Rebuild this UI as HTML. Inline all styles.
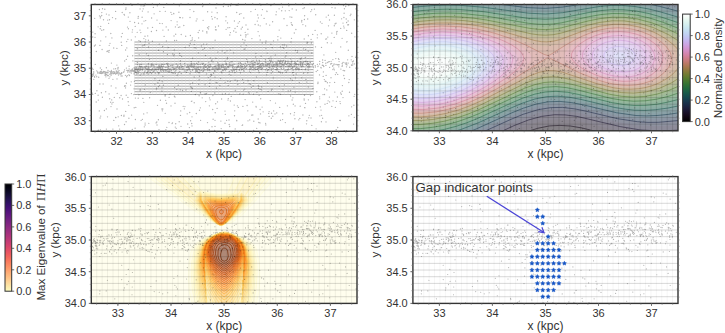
<!DOCTYPE html>
<html><head><meta charset="utf-8"><title>figure</title>
<style>
html,body{margin:0;padding:0;background:#fff;}
body{width:725px;height:333px;overflow:hidden;}
svg{display:block;}
</style></head><body>
<svg width="725" height="333" viewBox="0 0 725 333">
<rect width="725" height="333" fill="#fff"/>
<defs>
<clipPath id="c1"><rect x="91.3" y="4.5" width="265.5" height="126.8"/></clipPath>
<clipPath id="c2"><rect x="412.9" y="4.5" width="265.1" height="126.3"/></clipPath>
<clipPath id="c3"><rect x="91.3" y="176.6" width="265.7" height="126.8"/></clipPath>
<clipPath id="c4"><rect x="412.9" y="176.6" width="265.1" height="126.8"/></clipPath>
</defs>
<g font-family='"Liberation Sans", sans-serif' fill="#333">
<g clip-path="url(#c1)">
<path d="M134.4 94.47H313.6M134.4 91.71H313.6M134.4 88.95H313.6M134.4 86.19H313.6M134.4 83.43H313.6M134.4 80.67H313.6M134.4 77.91H313.6M134.4 75.15H313.6M134.4 72.39H313.6M134.4 69.63H313.6M134.4 66.87H313.6M134.4 64.11H313.6M134.4 61.35H313.6M134.4 58.59H313.6M134.4 55.83H313.6M134.4 53.07H313.6M134.4 50.31H313.6M134.4 47.55H313.6M134.4 44.79H313.6M134.4 42.02H313.6" stroke="#7c7c7c" stroke-width="0.70" fill="none"/>
<path d="M134.42 42.0V94.5M138.07 42.0V94.5M141.73 42.0V94.5M145.39 42.0V94.5M149.04 42.0V94.5M152.70 42.0V94.5M156.36 42.0V94.5M160.01 42.0V94.5M163.67 42.0V94.5M167.32 42.0V94.5M170.98 42.0V94.5M174.64 42.0V94.5M178.29 42.0V94.5M181.95 42.0V94.5M185.61 42.0V94.5M189.26 42.0V94.5M192.92 42.0V94.5M196.58 42.0V94.5M200.23 42.0V94.5M203.89 42.0V94.5M207.55 42.0V94.5M211.20 42.0V94.5M214.86 42.0V94.5M218.52 42.0V94.5M222.17 42.0V94.5M225.83 42.0V94.5M229.48 42.0V94.5M233.14 42.0V94.5M236.80 42.0V94.5M240.45 42.0V94.5M244.11 42.0V94.5M247.77 42.0V94.5M251.42 42.0V94.5M255.08 42.0V94.5M258.74 42.0V94.5M262.39 42.0V94.5M266.05 42.0V94.5M269.71 42.0V94.5M273.36 42.0V94.5M277.02 42.0V94.5M280.68 42.0V94.5M284.33 42.0V94.5M287.99 42.0V94.5M291.64 42.0V94.5M295.30 42.0V94.5M298.96 42.0V94.5M302.61 42.0V94.5M306.27 42.0V94.5M309.93 42.0V94.5M313.58 42.0V94.5" stroke="#dcdcdc" stroke-width="0.45" fill="none"/>
<path d="M257.3 21.1h.01M329.5 20.0h.01M297.2 52.4h.01M151.1 65.2h.01M171.0 105.9h.01M323.2 65.4h.01M92.7 94.4h.01M309.3 115.3h.01M302.9 115.0h.01M215.5 29.7h.01M171.8 14.3h.01M165.2 113.3h.01M159.0 129.6h.01M209.5 97.9h.01M225.3 114.3h.01M238.3 107.4h.01M355.6 57.3h.01M301.8 77.8h.01M256.5 76.9h.01M353.9 105.2h.01M148.5 47.0h.01M133.8 94.6h.01M253.9 80.7h.01M103.0 72.5h.01M100.8 16.6h.01M228.0 100.1h.01M215.1 40.2h.01M334.8 92.1h.01M258.4 17.9h.01M227.8 81.3h.01M223.2 67.2h.01M157.0 20.1h.01M94.4 46.0h.01M142.4 119.3h.01M275.0 113.9h.01M144.6 5.7h.01M189.4 127.6h.01M92.3 93.1h.01M311.7 9.7h.01M132.3 129.4h.01M162.3 110.8h.01M325.0 104.2h.01M226.6 120.3h.01M316.2 71.5h.01M261.1 56.2h.01M288.2 90.9h.01M115.6 117.5h.01M235.0 28.5h.01M226.1 29.3h.01M322.6 60.0h.01M187.2 113.8h.01M250.1 62.6h.01M107.0 51.5h.01M194.2 77.0h.01M177.1 21.8h.01M131.2 81.8h.01M308.0 66.5h.01M192.0 116.8h.01M351.2 59.8h.01M247.9 34.1h.01M251.9 38.6h.01M260.7 98.7h.01M270.9 5.5h.01M131.3 40.0h.01M208.2 77.6h.01M154.9 78.7h.01M198.2 32.5h.01M117.0 109.0h.01M348.3 50.2h.01M148.4 40.2h.01M269.7 65.8h.01M171.1 20.6h.01M323.4 71.9h.01M267.1 72.4h.01M126.2 95.2h.01M315.7 14.7h.01M342.2 91.2h.01M331.3 43.1h.01M242.6 79.4h.01M129.9 12.7h.01M142.4 11.1h.01M337.7 127.5h.01M237.9 5.2h.01M139.2 54.6h.01M326.0 121.9h.01M261.6 68.3h.01M242.6 125.0h.01M191.2 61.7h.01M200.4 107.8h.01M154.9 84.6h.01M101.4 92.7h.01M323.9 54.9h.01M215.5 27.0h.01M236.7 12.5h.01M176.8 89.6h.01M290.8 59.1h.01M98.0 130.6h.01M190.1 84.1h.01M99.4 9.5h.01M123.9 116.2h.01M348.1 21.0h.01M265.9 48.6h.01M205.0 94.0h.01M230.4 32.6h.01M323.0 94.6h.01M182.7 17.8h.01M248.0 120.8h.01M272.8 116.2h.01M185.7 36.2h.01M229.1 74.3h.01M294.5 112.6h.01M332.7 66.2h.01M131.4 93.6h.01M339.1 61.6h.01M92.7 37.0h.01M291.2 22.7h.01M306.5 123.8h.01M127.6 56.2h.01M202.5 6.6h.01M307.8 73.0h.01M95.1 33.7h.01M258.2 119.0h.01M301.8 20.5h.01M227.5 57.5h.01M284.0 18.7h.01M151.4 31.5h.01M144.0 21.1h.01M187.7 124.0h.01M138.9 40.6h.01M183.2 106.3h.01M343.0 97.6h.01M243.5 90.1h.01M181.6 56.3h.01M163.4 51.7h.01M344.1 13.2h.01M209.3 129.7h.01M351.6 106.8h.01M228.2 85.4h.01M229.7 27.6h.01M329.3 61.6h.01M288.5 66.4h.01M245.5 34.9h.01M204.6 48.2h.01M324.5 94.5h.01M200.6 120.3h.01M336.3 72.7h.01M109.5 19.7h.01M205.5 55.5h.01M229.2 124.5h.01M343.8 75.5h.01M157.9 82.5h.01M305.3 57.4h.01M270.9 56.9h.01M281.7 10.7h.01M258.5 88.4h.01M349.2 79.6h.01M179.6 53.5h.01M197.0 18.9h.01M145.2 41.8h.01M104.8 71.6h.01M147.8 28.0h.01M334.4 69.8h.01M314.4 9.1h.01M121.1 95.5h.01M251.6 115.1h.01M218.5 26.0h.01M249.2 93.6h.01M266.3 23.9h.01M172.7 54.0h.01M346.5 66.8h.01M215.0 120.3h.01M258.1 31.6h.01M260.0 122.9h.01M140.1 8.9h.01M107.7 20.1h.01M200.6 92.9h.01M294.1 115.1h.01M307.7 19.0h.01M285.1 70.5h.01M121.4 115.5h.01M333.8 68.1h.01M304.2 100.0h.01M324.3 79.6h.01M230.2 50.1h.01M334.4 15.2h.01M103.7 29.7h.01M99.3 110.9h.01M96.7 70.8h.01M158.4 68.9h.01M157.3 5.8h.01M141.1 120.3h.01M241.9 66.5h.01M101.7 15.4h.01M248.0 80.7h.01M135.4 98.1h.01M271.3 60.8h.01M96.9 90.7h.01M173.8 13.7h.01M340.4 120.5h.01M234.2 105.1h.01M306.8 120.7h.01M266.0 41.0h.01M253.5 94.1h.01M142.1 17.2h.01M243.8 18.0h.01M101.8 12.6h.01M304.1 98.8h.01M318.0 82.2h.01M104.8 9.2h.01M181.2 34.5h.01M175.7 123.7h.01M121.2 42.2h.01M257.7 15.0h.01M303.0 8.6h.01M174.6 40.5h.01M320.4 21.9h.01M302.9 24.6h.01M125.6 85.9h.01M294.9 118.7h.01M325.6 39.1h.01M143.7 113.9h.01M243.6 82.6h.01M260.9 5.0h.01M253.1 60.3h.01M116.9 65.1h.01M266.8 11.1h.01M259.1 95.3h.01M304.6 15.7h.01M178.2 85.2h.01M283.0 89.8h.01M321.6 115.3h.01M328.4 15.2h.01M134.2 107.7h.01M98.4 130.2h.01M264.1 18.4h.01M148.3 55.5h.01M241.0 46.1h.01M342.1 38.3h.01M192.0 125.9h.01M158.4 119.7h.01M212.5 67.9h.01M265.8 124.9h.01M118.1 67.4h.01M192.3 37.9h.01M126.8 47.9h.01M267.2 53.1h.01M311.8 125.4h.01M191.4 101.3h.01M190.0 17.5h.01M234.5 115.7h.01M148.4 63.7h.01M157.0 125.0h.01M178.9 12.2h.01M212.7 109.5h.01M112.9 79.3h.01M291.2 62.0h.01M245.0 40.2h.01M170.9 12.4h.01M111.9 37.9h.01M293.9 87.3h.01M126.1 121.7h.01M126.7 41.6h.01M126.0 8.0h.01M112.9 129.1h.01M331.9 33.1h.01M162.8 109.0h.01M172.7 73.0h.01M312.4 65.0h.01M255.9 53.4h.01M141.0 5.8h.01M206.7 44.1h.01M326.0 81.5h.01M191.0 40.6h.01M280.0 72.1h.01M117.0 78.9h.01M284.4 84.9h.01M297.5 68.7h.01M310.5 95.6h.01M270.3 100.6h.01M189.7 112.5h.01M108.3 75.5h.01M229.0 94.1h.01M292.4 25.2h.01M142.0 23.8h.01M162.0 87.7h.01M233.6 52.8h.01M290.0 16.9h.01M329.3 85.8h.01M124.7 61.0h.01M140.2 75.1h.01M303.6 48.8h.01M262.4 9.6h.01M282.7 113.7h.01M355.9 8.9h.01M340.7 46.9h.01M315.1 30.4h.01M297.6 50.8h.01M196.2 20.9h.01M261.5 89.9h.01M140.3 41.5h.01M292.9 97.8h.01M292.5 66.8h.01M282.8 44.9h.01M209.4 105.8h.01M191.7 123.5h.01M202.7 31.0h.01M100.2 28.7h.01M315.5 46.9h.01M235.3 90.5h.01M194.2 47.8h.01M236.8 120.7h.01M282.9 47.3h.01M192.6 58.2h.01M311.8 53.0h.01M335.4 74.6h.01M194.2 102.7h.01M127.9 39.3h.01M293.2 72.4h.01M354.9 36.8h.01M130.6 85.1h.01M280.5 120.2h.01M310.4 62.5h.01M335.7 52.3h.01M124.1 14.4h.01M115.7 18.7h.01M353.6 124.1h.01M122.3 33.4h.01M138.2 98.2h.01M244.0 42.9h.01M209.8 83.2h.01M290.5 90.5h.01M141.9 69.4h.01M334.1 64.0h.01M149.0 43.2h.01M295.5 50.4h.01M109.2 45.3h.01M217.0 82.6h.01M99.9 45.4h.01M174.6 87.5h.01M174.2 54.3h.01M282.4 73.0h.01M212.1 59.9h.01M106.4 129.1h.01M355.6 68.1h.01M327.2 103.4h.01M334.6 82.4h.01M156.8 121.9h.01M195.9 48.0h.01M151.6 18.0h.01M124.5 86.3h.01M100.1 118.0h.01M224.9 52.7h.01M124.0 115.2h.01M138.1 18.2h.01M319.8 115.8h.01M219.9 85.4h.01M140.1 68.6h.01M269.1 116.4h.01M161.9 90.9h.01M231.2 96.4h.01M166.4 40.9h.01M228.3 6.2h.01M258.2 85.3h.01M233.7 31.0h.01M196.3 113.5h.01M301.3 57.8h.01M323.2 76.4h.01M138.9 94.8h.01M127.5 27.1h.01M121.4 36.7h.01M351.4 114.3h.01M341.3 94.2h.01M152.5 27.4h.01M348.8 5.5h.01M146.5 53.8h.01M225.8 20.8h.01M223.4 6.5h.01M334.2 37.4h.01M102.1 49.5h.01M175.0 103.2h.01M250.6 84.3h.01M108.9 52.2h.01M154.1 13.8h.01M214.8 93.0h.01M325.2 81.2h.01M293.3 128.5h.01M311.4 43.0h.01M293.4 75.1h.01M279.2 30.1h.01M316.9 101.7h.01M272.2 47.7h.01M286.6 46.0h.01M171.4 72.4h.01M135.8 107.4h.01M292.2 80.2h.01M135.3 36.8h.01M335.4 107.3h.01M249.7 119.9h.01M178.8 72.6h.01M340.0 101.6h.01M132.5 29.8h.01M227.9 27.7h.01M115.6 11.4h.01M347.6 24.8h.01M244.1 49.2h.01M304.7 107.6h.01M166.2 26.9h.01M304.2 39.0h.01M277.9 36.6h.01M262.2 42.9h.01M343.7 26.1h.01M206.4 93.5h.01M201.5 46.0h.01M275.1 65.7h.01M313.0 88.5h.01M180.3 89.9h.01M269.1 111.6h.01M146.8 69.0h.01M237.8 84.5h.01M295.5 77.9h.01M108.6 23.3h.01M284.5 44.9h.01M95.4 45.0h.01M345.7 6.5h.01M215.7 103.7h.01M199.9 66.9h.01M282.6 119.6h.01M230.2 81.5h.01M285.3 10.8h.01M113.8 120.4h.01M240.7 35.2h.01M239.5 21.6h.01M338.8 66.8h.01M101.8 30.2h.01M211.5 75.4h.01M258.8 86.5h.01M237.5 67.2h.01M111.0 106.6h.01M248.8 92.3h.01M150.3 92.6h.01M143.2 6.0h.01M324.6 88.8h.01M143.8 102.3h.01M211.9 12.1h.01M290.5 113.7h.01M279.1 8.8h.01M238.2 23.1h.01M305.6 49.3h.01M215.0 77.1h.01M256.0 106.3h.01M308.7 117.8h.01M271.3 118.2h.01M261.7 87.0h.01M199.1 79.7h.01M239.5 14.2h.01M196.5 63.3h.01M288.9 5.7h.01M192.3 39.9h.01M215.2 112.7h.01M291.9 61.1h.01M225.0 111.1h.01M181.0 126.3h.01M310.8 11.6h.01M192.4 88.5h.01M315.6 107.3h.01M299.8 118.4h.01M210.1 48.6h.01M280.6 72.8h.01M100.4 129.8h.01M194.8 40.6h.01M319.7 98.8h.01M245.2 32.3h.01M239.4 69.3h.01M267.8 63.4h.01M271.2 73.3h.01M246.2 45.6h.01M203.0 5.8h.01M140.0 30.1h.01M169.0 122.5h.01M169.1 68.6h.01M205.7 101.6h.01M184.9 106.6h.01M210.1 99.8h.01M190.0 9.6h.01M245.7 36.9h.01M343.0 23.1h.01M327.3 42.7h.01M191.4 91.3h.01M162.2 81.7h.01M326.1 75.4h.01M222.4 94.1h.01M273.3 77.9h.01M110.8 33.5h.01M321.4 121.7h.01M174.4 96.2h.01M222.6 70.6h.01M143.9 45.6h.01M202.9 49.4h.01M311.1 39.4h.01M311.0 118.0h.01M217.1 108.4h.01M295.2 92.1h.01M212.9 95.6h.01M190.4 35.5h.01M236.2 5.3h.01M144.8 44.7h.01M175.3 127.1h.01M278.9 93.6h.01M295.9 29.5h.01M106.4 14.1h.01M285.9 55.9h.01M308.3 87.1h.01M209.5 86.3h.01M107.9 51.0h.01M272.6 21.7h.01M156.7 88.1h.01M262.1 107.1h.01M260.5 113.9h.01M159.8 23.4h.01M217.8 52.1h.01M230.6 5.7h.01M258.8 122.5h.01M145.2 84.9h.01M346.7 30.4h.01M168.1 47.5h.01M172.5 122.8h.01M159.4 80.4h.01M109.2 50.4h.01M203.6 44.1h.01M296.2 74.0h.01M279.7 107.4h.01M143.2 8.8h.01M127.7 72.1h.01M176.6 40.3h.01M295.3 63.5h.01M220.9 121.1h.01M336.4 101.3h.01M265.6 123.3h.01M256.2 107.1h.01M295.1 105.9h.01M290.5 78.7h.01M182.6 90.5h.01M159.5 85.3h.01M207.5 27.7h.01M221.2 128.6h.01M128.9 118.2h.01M208.5 28.9h.01M261.2 63.6h.01M127.3 75.6h.01M127.9 97.4h.01M137.4 62.5h.01M166.5 103.2h.01M346.6 22.5h.01M98.1 26.8h.01M140.1 90.5h.01M135.1 128.2h.01M217.2 18.7h.01M95.3 93.4h.01M212.9 48.0h.01M134.6 22.5h.01M162.9 30.1h.01M301.7 21.9h.01M140.2 69.3h.01M255.1 24.5h.01M199.2 72.8h.01M202.2 97.8h.01M308.2 70.3h.01M134.0 88.8h.01M336.6 34.0h.01M328.5 25.8h.01M268.7 113.4h.01M104.4 110.5h.01M267.4 82.7h.01M250.7 72.6h.01M296.3 10.0h.01M148.1 11.9h.01M344.4 8.7h.01M326.6 38.8h.01M121.7 45.4h.01M175.0 97.0h.01M99.9 84.0h.01M334.3 25.7h.01M354.1 96.3h.01M253.8 121.2h.01M268.1 91.3h.01M271.4 90.3h.01M242.7 39.5h.01M344.2 130.6h.01M252.7 102.1h.01M180.4 17.6h.01M227.5 22.9h.01M96.3 51.5h.01M283.6 60.4h.01M275.5 103.1h.01M203.1 20.3h.01M317.4 34.8h.01M291.9 66.3h.01M180.7 110.9h.01M111.9 103.9h.01M126.4 83.2h.01M140.2 89.3h.01M172.0 123.6h.01M210.1 79.8h.01M337.7 74.4h.01M165.2 94.9h.01M329.9 82.6h.01M272.0 89.2h.01M317.9 83.5h.01M198.4 52.8h.01M92.2 68.2h.01M300.2 106.2h.01M156.5 30.5h.01M129.1 66.2h.01M303.6 73.2h.01M273.5 40.8h.01M147.7 35.9h.01M162.3 23.6h.01M340.7 28.4h.01M162.6 46.5h.01M277.8 39.9h.01M125.7 111.4h.01M307.7 42.6h.01M122.5 99.0h.01M228.3 98.6h.01M100.7 116.1h.01M237.3 81.0h.01M316.1 128.8h.01M113.7 48.0h.01M164.1 36.4h.01M294.3 33.0h.01M252.8 115.0h.01M174.3 50.0h.01M258.3 25.0h.01M212.0 126.7h.01M320.3 106.8h.01M169.1 97.3h.01M292.5 72.7h.01M260.1 109.5h.01M287.9 63.0h.01M191.7 87.7h.01M283.8 48.2h.01M276.7 63.9h.01M194.2 44.3h.01M98.3 100.1h.01M347.0 41.6h.01M280.8 38.1h.01M145.7 39.8h.01M285.3 122.6h.01M165.3 11.3h.01M215.9 58.2h.01M319.6 96.8h.01M210.3 76.3h.01M167.8 65.7h.01M172.4 65.6h.01M111.7 99.9h.01M149.6 97.7h.01M163.3 85.2h.01M137.2 32.3h.01M108.0 75.8h.01M215.0 126.4h.01M148.2 74.0h.01M287.4 105.8h.01M336.2 129.7h.01M163.8 7.4h.01M243.2 94.1h.01M225.8 63.1h.01M111.2 85.9h.01M124.5 124.5h.01M326.2 17.1h.01M217.2 12.7h.01M304.9 107.7h.01M109.0 78.3h.01M249.2 83.9h.01M321.0 110.1h.01M321.5 47.4h.01M92.8 32.1h.01M229.8 35.0h.01M189.3 45.7h.01M293.1 129.1h.01M110.7 102.2h.01M161.6 66.0h.01M307.1 42.2h.01M216.0 82.3h.01M211.6 74.3h.01M348.5 24.7h.01M176.2 128.3h.01M102.4 97.2h.01M195.4 94.5h.01M132.0 5.4h.01M113.0 102.4h.01M242.1 125.3h.01M344.5 78.5h.01M245.1 48.9h.01M263.1 111.8h.01M177.2 24.8h.01M242.9 106.4h.01M291.0 42.0h.01M247.8 110.8h.01M304.4 19.5h.01M237.4 105.8h.01M143.9 38.6h.01M246.0 25.0h.01M221.6 99.0h.01M135.4 119.5h.01M255.7 57.0h.01M308.2 68.0h.01M127.2 70.5h.01M236.0 32.2h.01M286.1 72.6h.01M198.3 68.3h.01M163.0 69.5h.01M190.1 73.7h.01M235.1 79.9h.01M273.6 110.9h.01M239.8 93.9h.01M119.7 97.7h.01M308.4 99.8h.01M336.6 32.0h.01M118.2 116.8h.01M157.5 105.3h.01M137.4 64.6h.01M316.8 91.7h.01M333.0 100.8h.01M103.1 84.0h.01M179.6 67.6h.01M142.4 45.8h.01M216.0 8.0h.01M336.0 23.2h.01M109.9 76.8h.01M136.8 74.0h.01M220.6 78.6h.01M230.4 101.0h.01M289.2 10.6h.01M207.5 122.6h.01M128.8 105.3h.01M185.2 47.4h.01M352.0 56.5h.01M290.6 96.0h.01M122.2 12.5h.01M305.9 79.4h.01M173.9 55.7h.01M298.8 119.8h.01M94.7 18.3h.01M322.6 118.2h.01M134.4 81.3h.01M212.3 19.0h.01M267.0 11.5h.01M226.1 16.7h.01M135.2 26.4h.01M128.2 101.7h.01M166.8 127.3h.01M105.2 74.0h.01M148.8 123.3h.01M125.8 9.5h.01M214.7 130.3h.01M186.0 90.0h.01M247.1 105.5h.01M165.9 129.6h.01M100.3 68.0h.01M179.2 121.7h.01M291.8 17.2h.01M159.2 44.1h.01M198.7 84.4h.01M291.7 24.6h.01M199.3 30.3h.01M326.8 89.9h.01M335.0 23.9h.01M173.7 13.5h.01M286.7 52.7h.01M158.5 86.7h.01M128.3 17.1h.01M207.6 11.7h.01M251.3 87.3h.01M339.7 120.4h.01M130.0 21.3h.01M280.4 47.0h.01M217.5 101.9h.01M126.3 59.4h.01M349.5 92.2h.01M276.0 14.7h.01M125.5 87.9h.01M331.8 106.4h.01M118.7 125.8h.01M115.9 87.9h.01M179.3 5.8h.01M340.3 103.6h.01M100.1 73.2h.01M335.1 8.0h.01M253.7 130.4h.01M109.1 93.9h.01M242.3 27.2h.01M213.1 119.2h.01M241.0 13.6h.01M287.0 25.5h.01M271.5 113.2h.01M356.1 56.2h.01M132.9 60.9h.01M307.1 43.3h.01M200.4 92.4h.01M299.3 82.6h.01M328.1 100.8h.01M354.7 94.3h.01M161.9 109.0h.01M211.6 16.6h.01M341.6 18.8h.01M342.4 85.6h.01M190.3 43.4h.01M340.9 69.1h.01M199.1 95.7h.01M190.8 87.0h.01M292.2 8.9h.01M216.4 88.0h.01M210.3 57.9h.01M193.8 11.5h.01M206.2 93.6h.01M128.4 28.7h.01M107.5 116.8h.01M291.5 38.3h.01M241.2 29.0h.01M269.7 25.1h.01M304.3 7.7h.01M152.4 41.2h.01M153.4 7.4h.01M165.1 96.0h.01M172.0 65.2h.01M293.3 104.2h.01M190.6 120.7h.01M177.1 75.6h.01M260.2 40.0h.01M140.8 32.6h.01M119.6 129.1h.01M276.4 11.8h.01M292.1 100.0h.01M170.0 94.2h.01M260.2 25.8h.01M100.3 17.9h.01M198.6 37.9h.01M244.7 89.1h.01M158.6 72.6h.01M183.8 25.5h.01M253.1 86.0h.01M247.9 29.2h.01M132.2 32.1h.01M278.9 71.9h.01M112.5 17.6h.01M348.8 82.5h.01M145.0 36.2h.01M158.6 50.2h.01M144.5 89.3h.01M354.5 63.9h.01M167.4 54.5h.01M252.0 63.2h.01M354.3 117.3h.01M343.5 5.6h.01M102.5 8.7h.01M229.7 126.5h.01M250.9 11.6h.01M277.8 63.9h.01M180.5 115.4h.01M178.4 27.3h.01M92.4 76.4h.01M100.7 40.9h.01M237.3 26.4h.01M111.4 63.1h.01M145.1 125.0h.01M179.8 27.0h.01M110.0 43.3h.01M99.5 15.9h.01M337.4 97.0h.01M206.8 31.7h.01M145.7 20.6h.01M279.4 86.3h.01M93.8 79.3h.01M156.4 89.0h.01M346.4 130.6h.01M329.6 101.9h.01M260.1 89.3h.01M116.0 117.6h.01M175.7 34.2h.01M98.7 77.2h.01M149.5 59.3h.01M98.1 95.2h.01M124.8 85.6h.01M259.4 35.8h.01M118.0 71.7h.01M132.7 55.7h.01M331.0 77.7h.01M180.4 60.7h.01M179.7 17.5h.01M114.3 97.4h.01M302.6 65.5h.01M270.9 44.2h.01M236.6 120.3h.01M255.4 9.3h.01M118.0 68.1h.01M160.4 100.2h.01M246.3 34.9h.01M344.1 27.9h.01M308.2 51.3h.01M261.4 15.1h.01M229.0 120.0h.01M95.3 64.4h.01M327.8 37.1h.01M109.0 15.0h.01M125.6 50.0h.01M275.3 54.9h.01M306.9 82.1h.01M300.1 58.8h.01M211.4 61.0h.01M138.3 16.5h.01M100.7 26.4h.01M317.3 37.8h.01M350.9 14.2h.01M156.1 122.9h.01M321.2 33.7h.01M198.2 72.5h.01M174.0 36.0h.01M225.4 93.7h.01M93.5 72.0h.01M208.8 26.7h.01M144.3 126.8h.01M280.5 94.4h.01M224.7 69.4h.01M322.0 23.3h.01M329.4 97.1h.01M175.4 26.9h.01M165.7 100.3h.01M340.6 92.9h.01M225.1 61.1h.01M116.9 48.4h.01M103.5 19.7h.01M354.3 19.8h.01M245.1 99.6h.01M105.8 36.8h.01M227.0 50.8h.01M225.1 82.3h.01M206.9 32.9h.01M343.9 17.5h.01M343.2 70.5h.01M124.5 15.1h.01M131.6 115.1h.01M199.5 110.2h.01M312.7 34.4h.01M256.9 92.6h.01M285.1 57.1h.01M244.2 68.3h.01M147.1 112.8h.01M308.4 35.7h.01M95.0 37.3h.01M276.7 112.9h.01M142.9 98.4h.01M216.4 29.8h.01M350.2 15.6h.01M234.4 21.0h.01M106.4 67.7h.01M205.1 84.7h.01M266.6 74.8h.01M106.4 108.9h.01M158.4 68.4h.01M96.2 102.0h.01M234.7 110.8h.01M192.6 83.0h.01M225.0 123.2h.01M169.8 71.7h.01M265.7 43.0h.01M137.3 48.7h.01M332.0 7.6h.01M346.2 19.0h.01M222.2 50.9h.01M214.9 17.5h.01M319.5 74.9h.01M168.3 30.0h.01M304.5 95.2h.01M167.6 64.5h.01M282.5 7.1h.01M180.0 55.4h.01M251.3 67.0h.01M337.1 31.5h.01M105.7 91.7h.01M305.6 25.9h.01M235.2 128.9h.01M191.9 101.1h.01M184.3 108.8h.01M109.7 98.7h.01M159.9 11.4h.01M256.7 128.3h.01M117.2 93.4h.01M269.0 58.5h.01M346.8 42.1h.01M351.7 33.2h.01M327.4 82.7h.01M305.5 103.4h.01M138.5 23.2h.01M348.9 115.8h.01M145.1 123.1h.01M150.9 69.9h.01M222.0 65.8h.01M344.6 70.7h.01M286.5 71.1h.01M241.5 69.9h.01M229.8 64.4h.01M276.8 66.1h.01M258.5 70.7h.01M179.4 66.9h.01M113.0 71.7h.01M142.5 69.6h.01M301.1 65.9h.01M260.7 65.0h.01M305.1 61.7h.01M99.8 73.3h.01M191.9 66.5h.01M249.8 66.6h.01M237.0 67.8h.01M258.3 68.6h.01M271.6 65.1h.01M130.7 71.9h.01M252.5 67.0h.01M184.9 65.6h.01M124.0 71.7h.01M218.5 65.0h.01M159.3 72.7h.01M296.4 63.6h.01M121.1 73.8h.01M173.1 65.1h.01M226.7 65.0h.01M145.0 70.8h.01M144.6 71.9h.01M197.4 67.7h.01M303.1 66.2h.01M240.2 62.4h.01M185.9 71.8h.01M151.5 73.5h.01M137.6 69.8h.01M175.9 68.2h.01M302.0 63.0h.01M269.7 60.4h.01M92.9 74.4h.01M288.1 66.8h.01M271.3 70.4h.01M173.2 67.6h.01M145.0 66.6h.01M204.1 68.3h.01M119.1 70.6h.01M263.8 66.0h.01M111.4 70.3h.01M136.7 68.6h.01M296.7 67.9h.01M224.1 68.9h.01M268.2 69.9h.01M287.8 69.9h.01M253.1 65.6h.01M141.6 66.7h.01M278.2 60.5h.01M119.3 72.9h.01M161.3 69.2h.01M209.9 70.4h.01M116.6 71.1h.01M265.6 65.0h.01M290.0 66.8h.01M188.8 66.1h.01M194.0 66.4h.01M144.3 73.8h.01M229.9 65.1h.01M246.0 66.2h.01M342.3 65.2h.01M182.1 69.2h.01M285.6 60.8h.01M265.3 62.0h.01M166.5 63.6h.01M257.6 69.2h.01M218.6 69.0h.01M300.0 62.6h.01M291.1 68.4h.01M276.3 67.6h.01M122.1 76.0h.01M230.9 62.1h.01M275.7 62.9h.01M179.2 67.0h.01M225.1 66.6h.01M261.0 67.2h.01M224.6 68.2h.01M105.7 72.2h.01M120.8 74.0h.01M319.7 61.4h.01M290.2 66.6h.01M315.4 67.0h.01M245.3 63.2h.01M244.8 67.0h.01M232.4 65.5h.01M288.1 66.4h.01M177.8 74.1h.01M223.2 65.8h.01M215.8 70.9h.01M268.1 63.1h.01M146.7 72.9h.01M94.6 77.2h.01M111.9 72.5h.01M136.6 68.4h.01M283.2 65.2h.01M292.2 68.4h.01M208.8 65.2h.01M214.6 71.2h.01M226.5 68.3h.01M260.0 68.2h.01M189.7 68.9h.01M128.6 70.4h.01M258.6 67.9h.01M220.0 65.8h.01M182.0 66.3h.01M158.2 73.1h.01M277.5 68.7h.01M174.4 69.3h.01M244.8 68.1h.01M158.5 67.8h.01M293.1 70.2h.01M190.0 66.0h.01M218.2 65.4h.01M283.6 65.9h.01M288.5 68.9h.01M180.2 68.1h.01M192.9 69.3h.01M267.4 64.4h.01M236.1 67.1h.01M287.6 63.4h.01M121.7 73.5h.01M305.9 61.1h.01M126.6 76.7h.01M153.9 71.4h.01M244.5 65.3h.01M295.7 69.1h.01M128.3 70.8h.01M349.7 67.2h.01M182.0 67.9h.01M292.9 67.6h.01M220.1 68.4h.01M186.6 67.5h.01M114.0 73.2h.01M111.7 73.8h.01M259.3 60.5h.01M298.6 65.0h.01M187.2 70.5h.01M168.7 65.9h.01M130.0 70.1h.01M279.6 62.4h.01M279.2 60.9h.01M234.0 69.4h.01M225.9 64.4h.01M187.8 65.0h.01M131.5 71.1h.01M298.3 64.4h.01M162.8 76.4h.01M137.8 70.6h.01M141.5 64.3h.01M244.0 71.3h.01M164.0 69.9h.01M153.8 67.9h.01M114.6 71.9h.01M176.3 63.9h.01M298.8 69.7h.01M93.6 73.7h.01M219.3 65.0h.01M252.1 69.8h.01M101.2 73.6h.01M167.9 63.5h.01M134.0 67.9h.01M296.1 63.7h.01M210.7 74.3h.01M134.2 70.5h.01M218.8 66.3h.01M194.5 68.6h.01M105.0 73.5h.01M227.2 59.0h.01M149.1 69.4h.01M236.0 69.4h.01M277.6 65.0h.01M219.2 68.1h.01M183.8 68.9h.01M155.3 68.9h.01M168.7 66.4h.01M101.3 73.0h.01M157.3 71.8h.01M286.1 64.1h.01M302.8 66.2h.01M198.1 64.7h.01M250.0 64.4h.01M147.9 71.4h.01M269.9 65.0h.01M280.7 60.3h.01M288.0 61.2h.01M221.8 67.4h.01M352.3 61.6h.01M323.9 66.3h.01M243.8 70.4h.01M273.8 64.3h.01M162.6 67.9h.01M345.0 62.8h.01M263.6 66.1h.01M331.7 63.5h.01M166.4 69.8h.01M116.5 72.0h.01M232.3 64.8h.01M117.8 72.9h.01M139.5 66.9h.01M296.1 69.7h.01M105.7 74.7h.01M192.1 64.1h.01M140.0 64.4h.01M319.6 64.0h.01M179.5 68.4h.01M321.2 67.9h.01M275.0 64.8h.01M279.5 63.5h.01M269.0 69.8h.01M290.8 63.8h.01M291.7 63.9h.01M282.4 64.3h.01M107.4 75.3h.01M110.6 72.1h.01M298.4 69.0h.01M254.5 62.4h.01M159.3 68.2h.01M233.2 70.0h.01M291.8 61.7h.01M180.6 65.1h.01M307.9 66.6h.01M113.8 68.9h.01M222.4 69.9h.01M114.9 72.4h.01M300.5 61.9h.01M240.4 72.7h.01M151.7 66.1h.01M273.7 65.9h.01M179.4 68.2h.01M320.9 67.4h.01M191.3 67.0h.01M168.7 71.3h.01M104.8 75.1h.01M288.0 66.5h.01M167.2 71.6h.01M203.3 63.5h.01M261.2 69.6h.01M148.7 70.8h.01M289.4 66.1h.01M148.0 68.8h.01M223.6 65.1h.01M177.3 66.1h.01M152.1 69.5h.01M226.1 68.1h.01M265.1 65.9h.01M279.8 63.4h.01M159.5 66.7h.01M215.1 68.7h.01M134.1 74.1h.01M338.5 58.6h.01M258.6 63.7h.01M200.7 67.0h.01M295.3 64.2h.01M233.0 68.3h.01M135.2 72.5h.01M347.0 64.9h.01M232.7 67.5h.01M169.6 70.0h.01M265.4 69.8h.01M255.9 67.1h.01M105.7 72.2h.01M282.8 65.4h.01M181.2 73.5h.01M277.8 66.2h.01M300.4 65.3h.01M255.6 69.5h.01M267.4 70.5h.01M99.5 72.8h.01M160.7 70.7h.01M193.7 66.6h.01M156.5 69.7h.01M135.9 68.1h.01M325.9 65.4h.01M94.5 76.5h.01M137.3 69.5h.01M295.0 66.0h.01M148.6 67.1h.01M158.2 69.8h.01M351.5 65.0h.01M295.7 62.8h.01M210.1 64.4h.01M161.1 66.6h.01M303.4 62.2h.01M106.8 72.4h.01M280.4 63.5h.01M190.2 65.6h.01M284.0 64.4h.01M168.3 68.2h.01M123.2 72.3h.01M93.1 69.4h.01M168.3 68.4h.01M322.3 65.2h.01M274.0 66.7h.01M291.6 65.3h.01M140.8 68.3h.01M184.3 71.0h.01M332.9 69.5h.01M208.5 66.8h.01M299.3 69.2h.01M342.2 63.5h.01M168.4 68.0h.01M266.1 62.9h.01M194.1 63.5h.01M214.5 66.4h.01M213.7 68.9h.01M163.7 71.6h.01M296.7 67.2h.01M277.5 65.5h.01M129.5 75.5h.01M152.3 68.5h.01M250.3 66.5h.01M343.1 62.4h.01M216.4 68.2h.01M142.5 68.7h.01M249.9 68.4h.01M332.8 65.6h.01M199.7 72.4h.01M159.2 68.3h.01M325.1 60.4h.01M302.6 64.5h.01M194.4 66.9h.01M165.7 71.0h.01M153.2 65.0h.01M187.8 70.0h.01M191.7 65.8h.01M209.8 67.2h.01M242.2 69.2h.01M148.1 66.1h.01M160.6 68.5h.01M160.4 68.1h.01M158.6 67.4h.01M228.3 67.1h.01M115.1 73.6h.01M300.5 63.8h.01M135.4 70.9h.01M208.8 67.4h.01M262.7 67.8h.01M125.4 75.3h.01M199.3 69.5h.01M241.3 68.0h.01M237.8 66.8h.01M331.1 61.3h.01M301.8 69.4h.01M237.6 66.5h.01M272.6 71.6h.01M131.3 73.1h.01M216.4 68.7h.01M278.6 71.5h.01M305.2 69.8h.01M307.4 64.5h.01M146.9 68.6h.01M242.7 67.0h.01M270.0 68.0h.01M198.3 62.1h.01M338.5 64.7h.01M308.0 67.1h.01M191.3 63.5h.01M231.7 65.4h.01M134.9 71.0h.01M294.8 62.0h.01M330.6 64.0h.01M131.6 69.9h.01M290.8 64.6h.01M277.0 68.3h.01M97.7 71.8h.01M218.4 66.9h.01M161.1 71.2h.01M95.9 75.1h.01M300.9 62.5h.01M179.8 69.1h.01M227.7 67.0h.01M140.8 67.3h.01M253.2 66.0h.01M196.0 71.8h.01M307.6 63.2h.01M269.4 63.4h.01M284.5 63.2h.01M156.2 64.4h.01M105.1 72.7h.01M263.2 64.0h.01M280.3 61.4h.01M252.9 67.1h.01M202.0 63.1h.01M184.7 63.5h.01M221.2 65.2h.01M148.4 64.0h.01M204.3 65.4h.01M226.1 69.4h.01M195.0 64.8h.01M165.3 67.6h.01M260.6 65.0h.01M309.1 64.4h.01M255.3 62.7h.01M268.8 64.4h.01M255.1 68.1h.01M157.6 67.3h.01M190.3 66.0h.01M317.9 66.6h.01M137.1 70.5h.01M253.4 67.9h.01M249.8 65.5h.01M154.1 66.0h.01M208.8 62.6h.01M270.6 62.7h.01M146.5 66.2h.01M282.6 62.5h.01M159.3 65.1h.01M281.3 66.5h.01M307.0 63.1h.01M203.4 66.8h.01M259.9 67.3h.01M294.0 66.5h.01M93.3 74.3h.01M118.5 75.1h.01M281.7 64.1h.01M259.0 66.2h.01M259.2 65.9h.01M204.8 66.7h.01M279.9 63.7h.01M154.2 70.2h.01M269.8 66.1h.01M277.0 69.9h.01M234.9 72.7h.01M158.6 73.7h.01M141.1 73.8h.01M145.6 67.6h.01M108.0 70.5h.01M155.0 69.9h.01M229.3 62.8h.01M247.6 61.7h.01M210.5 65.0h.01M126.4 68.1h.01M150.1 67.1h.01M257.3 68.1h.01M159.8 67.2h.01M142.5 70.1h.01M202.5 71.1h.01M147.6 72.2h.01M256.6 60.2h.01M259.7 67.6h.01M173.5 68.3h.01M135.8 71.4h.01M296.2 64.7h.01M288.0 65.9h.01M240.3 67.8h.01M136.4 72.7h.01M253.9 70.0h.01M166.1 70.4h.01M227.6 66.3h.01M213.0 62.0h.01M241.4 63.9h.01M338.9 59.4h.01M308.6 63.5h.01M200.9 67.9h.01M298.8 68.5h.01M238.1 66.7h.01M221.9 72.8h.01M116.6 73.4h.01M161.9 64.2h.01M267.0 65.0h.01M191.1 64.9h.01M203.0 68.6h.01M197.4 71.3h.01M140.1 70.2h.01M113.2 73.7h.01M101.1 71.2h.01M271.1 60.6h.01M176.1 70.1h.01M212.3 68.3h.01M258.6 66.5h.01M308.8 65.7h.01M295.6 68.3h.01M105.9 73.1h.01M192.5 66.9h.01M346.6 63.0h.01M214.4 70.5h.01M346.2 64.3h.01M138.1 73.5h.01M104.1 71.6h.01M199.9 70.3h.01M226.3 67.8h.01M147.5 69.9h.01M351.7 65.4h.01M195.8 70.5h.01M155.2 73.2h.01M151.4 64.1h.01M229.1 66.3h.01M215.0 66.6h.01M101.6 69.6h.01M129.4 71.9h.01M252.9 64.8h.01M300.8 64.9h.01M218.6 64.1h.01M255.1 64.9h.01M262.9 65.2h.01M93.0 74.2h.01M154.9 67.9h.01M177.9 65.1h.01M221.9 72.6h.01M148.4 69.1h.01M147.0 69.5h.01M175.4 73.3h.01M207.5 65.6h.01M209.6 69.6h.01M237.2 67.3h.01M217.0 68.6h.01M96.7 76.7h.01M160.5 69.6h.01M287.9 70.1h.01M217.6 69.7h.01M280.5 66.3h.01M178.4 68.1h.01M188.6 67.7h.01M228.6 67.3h.01M335.8 58.6h.01M177.3 67.0h.01M111.1 75.3h.01M173.3 69.8h.01M120.3 73.9h.01M250.3 66.8h.01M318.1 66.1h.01M251.2 68.6h.01M129.1 68.8h.01M198.3 67.5h.01M160.4 69.4h.01M92.2 74.2h.01M212.9 67.9h.01M124.5 69.9h.01M156.9 67.3h.01M139.7 66.0h.01M230.9 75.1h.01M246.8 65.6h.01M181.0 65.3h.01M247.4 61.3h.01M121.5 72.6h.01M229.2 71.5h.01M107.0 72.1h.01M118.1 73.8h.01M121.0 75.9h.01M169.9 69.9h.01M172.2 65.4h.01M280.0 62.3h.01M118.0 71.4h.01M266.7 68.6h.01M271.2 59.1h.01M281.4 68.5h.01M284.1 65.6h.01M268.5 69.6h.01M238.4 63.2h.01M289.9 64.0h.01M109.9 71.4h.01M145.5 68.5h.01M289.9 65.4h.01M140.2 68.4h.01M232.4 71.8h.01M158.7 65.9h.01M205.3 65.1h.01M315.2 65.6h.01M267.9 65.8h.01M209.1 66.6h.01M162.3 64.3h.01M307.2 63.6h.01M266.9 65.7h.01M207.7 68.8h.01M276.5 69.5h.01M268.9 67.3h.01M237.8 66.5h.01M281.3 66.1h.01M317.4 64.3h.01M217.0 65.3h.01M252.8 65.1h.01M103.5 72.8h.01M302.9 63.1h.01M282.8 64.9h.01M189.2 67.9h.01M215.6 66.0h.01M199.9 72.1h.01M202.6 64.3h.01M179.8 71.4h.01M163.3 66.2h.01M145.9 68.7h.01M205.4 64.6h.01M131.8 70.9h.01M313.5 67.1h.01M353.4 61.0h.01M102.7 73.0h.01M107.8 72.9h.01M273.2 65.4h.01M170.6 65.6h.01M141.8 66.7h.01M154.9 67.9h.01M275.8 69.6h.01M92.6 74.5h.01M242.5 66.2h.01M152.0 63.9h.01M144.5 67.8h.01M266.2 66.1h.01M259.3 62.9h.01M174.5 68.4h.01M178.8 68.1h.01M214.1 66.9h.01M234.5 70.7h.01M262.5 63.4h.01M241.0 65.4h.01M221.2 67.9h.01M273.3 68.6h.01M221.7 66.5h.01M285.7 61.6h.01M137.4 70.8h.01M175.6 70.9h.01M325.8 63.2h.01M195.5 71.9h.01M317.6 70.3h.01M245.4 67.6h.01M115.5 74.1h.01M294.1 65.7h.01M269.3 67.2h.01M167.0 67.4h.01M219.3 67.7h.01M106.3 74.3h.01M150.0 69.8h.01M254.0 64.5h.01M310.0 62.1h.01M93.8 72.0h.01M257.5 64.2h.01M199.4 76.2h.01M208.1 70.0h.01M338.3 64.9h.01M300.2 64.3h.01M128.8 74.8h.01M247.8 62.6h.01M348.2 63.1h.01M109.9 74.2h.01M228.1 66.5h.01M195.8 68.6h.01M198.6 69.6h.01M160.9 67.1h.01M161.5 69.6h.01M152.7 72.3h.01M115.8 74.0h.01M238.8 66.9h.01M209.3 70.2h.01M282.1 62.0h.01M262.2 68.8h.01M180.3 63.4h.01M328.3 61.9h.01M192.6 70.2h.01M267.9 65.4h.01M307.2 61.6h.01M195.9 68.1h.01M209.4 70.5h.01M259.8 65.7h.01M117.9 69.0h.01M232.7 70.7h.01M113.6 71.9h.01M149.0 68.6h.01M257.6 66.4h.01M352.8 64.8h.01M158.8 65.7h.01M229.1 65.3h.01M208.1 70.0h.01M191.2 63.6h.01M297.3 68.3h.01M281.2 63.6h.01M240.9 66.0h.01M257.2 62.9h.01M246.4 65.4h.01M272.3 62.8h.01M345.8 64.0h.01M116.3 71.0h.01M210.9 66.4h.01M300.8 59.2h.01M168.0 70.0h.01M253.1 63.0h.01M102.8 72.4h.01M143.2 68.3h.01M196.8 69.1h.01M106.9 72.3h.01M203.4 71.3h.01M150.5 72.2h.01M322.7 62.5h.01M174.6 72.1h.01M191.5 63.9h.01M306.4 65.4h.01M240.3 65.9h.01M147.0 68.5h.01M254.3 65.0h.01M142.1 69.5h.01M155.4 69.4h.01M257.6 66.4h.01M222.6 64.3h.01M161.1 65.4h.01M240.2 63.2h.01M260.5 65.0h.01M162.4 68.8h.01M171.6 72.5h.01M327.3 62.6h.01M101.7 71.8h.01M182.4 68.9h.01M140.8 66.7h.01M277.3 62.1h.01M308.9 64.4h.01M103.4 71.3h.01M277.5 64.6h.01M146.9 73.2h.01M167.6 69.4h.01M302.7 65.8h.01M108.2 72.1h.01M212.1 69.5h.01M225.6 68.1h.01M236.7 69.2h.01M101.8 73.4h.01M205.0 67.2h.01M190.0 65.2h.01M273.3 65.1h.01M198.2 66.9h.01M187.2 67.5h.01M297.0 64.6h.01M270.6 61.6h.01M206.4 73.9h.01M281.4 65.8h.01M196.2 66.8h.01M126.8 70.3h.01M201.4 70.4h.01M101.7 72.7h.01M111.5 71.4h.01M207.4 68.5h.01M143.3 73.7h.01M224.3 67.9h.01M271.8 68.7h.01M248.3 64.6h.01M246.4 68.6h.01M251.7 61.5h.01M214.5 66.8h.01M186.0 69.9h.01M152.8 69.8h.01M105.5 75.2h.01M188.4 66.7h.01M297.6 60.9h.01M238.4 67.1h.01M132.4 69.0h.01M309.7 67.1h.01M99.0 72.9h.01M265.4 59.7h.01M239.3 70.2h.01M200.2 64.3h.01M229.6 71.8h.01M168.7 71.9h.01M197.2 70.1h.01M234.0 64.2h.01M272.5 66.7h.01M114.7 73.1h.01M289.1 63.2h.01M233.0 66.4h.01M275.0 64.9h.01M288.9 65.9h.01M120.0 74.0h.01M217.7 62.7h.01M142.5 69.6h.01M189.6 69.8h.01M187.1 66.1h.01M230.7 65.6h.01M105.9 76.8h.01M282.6 64.7h.01M223.4 70.6h.01M309.8 66.8h.01M100.4 71.9h.01M323.6 66.6h.01M217.8 68.1h.01M232.1 61.7h.01M112.0 73.1h.01M329.6 67.3h.01M137.8 71.8h.01M269.9 68.0h.01M265.9 65.5h.01M175.2 68.1h.01M146.2 66.1h.01M157.0 68.0h.01M176.8 67.7h.01M247.0 65.5h.01M188.4 68.1h.01M118.1 72.2h.01M243.2 64.4h.01M285.2 63.2h.01M279.9 66.8h.01M221.2 71.7h.01M171.4 70.3h.01M233.0 66.0h.01M259.1 72.5h.01M208.0 68.6h.01M142.9 67.6h.01M309.7 66.1h.01M283.7 68.2h.01M332.9 59.6h.01M152.3 64.9h.01M339.1 64.7h.01M197.7 64.1h.01M272.9 62.2h.01M250.1 69.2h.01M246.7 59.4h.01M107.0 74.9h.01M250.4 67.0h.01M153.5 71.4h.01M193.6 67.5h.01M190.7 71.2h.01M261.6 66.0h.01M285.4 62.4h.01M134.8 69.3h.01M170.7 68.9h.01M347.6 59.8h.01M204.3 69.8h.01M194.0 65.2h.01M228.0 67.7h.01M208.6 66.8h.01M216.0 67.2h.01M203.3 67.2h.01M279.1 65.6h.01M163.1 70.4h.01M133.1 71.5h.01M206.2 66.3h.01M209.7 67.7h.01M222.5 70.2h.01M301.6 66.7h.01M195.9 69.5h.01M300.5 65.0h.01M179.9 67.6h.01M283.6 65.1h.01M192.8 69.5h.01M296.7 64.9h.01M231.3 70.5h.01M271.2 73.3h.01M271.8 65.8h.01M236.6 71.1h.01M205.0 70.0h.01M162.0 66.8h.01M249.9 69.5h.01M253.3 65.5h.01M165.1 69.7h.01M196.8 70.9h.01M149.8 72.8h.01M238.5 65.5h.01M181.5 67.0h.01M118.1 71.3h.01M282.1 60.6h.01M276.3 64.9h.01M352.8 63.1h.01M336.0 64.5h.01M305.1 64.6h.01M156.7 69.5h.01M218.4 69.6h.01M259.5 60.9h.01M173.6 73.1h.01M117.0 72.4h.01M132.6 69.9h.01M221.5 66.8h.01M207.1 70.0h.01M333.9 64.8h.01M240.1 67.9h.01M203.4 70.4h.01M183.8 68.2h.01M285.8 66.4h.01M151.5 70.2h.01M294.2 63.3h.01M292.6 68.0h.01M313.5 63.6h.01M219.9 68.9h.01M148.3 67.7h.01M260.0 66.0h.01M172.2 67.7h.01M93.2 75.6h.01M138.2 71.1h.01M342.1 66.4h.01M192.2 65.9h.01M276.3 62.9h.01M280.2 66.9h.01M206.1 67.4h.01M287.4 69.6h.01M213.5 73.2h.01M235.5 69.1h.01M171.4 70.1h.01M249.5 71.1h.01M160.1 67.2h.01M162.7 70.6h.01M186.4 72.4h.01M115.6 68.7h.01M259.6 65.7h.01M234.5 67.8h.01M182.9 66.3h.01M254.4 68.3h.01M164.0 64.4h.01M305.6 69.0h.01M225.2 70.6h.01M337.4 64.7h.01M148.9 70.9h.01M226.4 63.5h.01M134.1 73.2h.01M243.2 68.6h.01M286.8 64.8h.01M252.2 65.0h.01M100.2 71.7h.01M97.7 73.0h.01M198.7 62.1h.01M92.2 74.8h.01M110.6 72.8h.01M262.9 63.9h.01M207.3 68.5h.01M111.0 73.7h.01M188.2 69.3h.01M253.8 68.1h.01M257.0 69.3h.01M134.9 70.7h.01M132.8 70.3h.01M136.9 69.0h.01M132.7 70.0h.01M140.5 69.1h.01M139.8 70.5h.01M138.5 69.3h.01M135.7 68.5h.01M134.9 69.3h.01M138.7 71.9h.01M136.5 68.9h.01M137.3 69.6h.01M134.6 70.6h.01M138.4 68.2h.01M134.4 71.4h.01M136.3 67.7h.01M132.4 70.3h.01M134.7 68.0h.01M137.2 69.7h.01M135.1 71.0h.01M135.1 69.5h.01M137.8 69.3h.01M135.9 69.1h.01M138.8 68.5h.01M130.9 70.6h.01M137.3 69.1h.01M137.2 68.8h.01M132.8 69.9h.01M133.3 70.6h.01M138.0 70.6h.01" stroke="#000" stroke-opacity="0.3" stroke-width="1.35" stroke-linecap="round" fill="none"/>
</g>
<rect x="91.3" y="4.5" width="265.5" height="126.8" fill="none" stroke="#333" stroke-width="1.4"/>
<path d="M116.5 131.3v2.5M152.3 131.3v2.5M188.2 131.3v2.5M224.0 131.3v2.5M259.8 131.3v2.5M295.7 131.3v2.5M331.5 131.3v2.5M91.3 120.7h-2.5M91.3 94.5h-2.5M91.3 68.2h-2.5M91.3 42.0h-2.5M91.3 15.8h-2.5" stroke="#444" stroke-width="0.8" fill="none"/>
<path d="M95.0 131.3v1.5M95.0 4.5v-1.5M102.2 131.3v1.5M102.2 4.5v-1.5M109.3 131.3v1.5M109.3 4.5v-1.5M116.5 131.3v1.5M116.5 4.5v-1.5M123.7 131.3v1.5M123.7 4.5v-1.5M130.8 131.3v1.5M130.8 4.5v-1.5M138.0 131.3v1.5M138.0 4.5v-1.5M145.2 131.3v1.5M145.2 4.5v-1.5M152.3 131.3v1.5M152.3 4.5v-1.5M159.5 131.3v1.5M159.5 4.5v-1.5M166.7 131.3v1.5M166.7 4.5v-1.5M173.8 131.3v1.5M173.8 4.5v-1.5M181.0 131.3v1.5M181.0 4.5v-1.5M188.2 131.3v1.5M188.2 4.5v-1.5M195.3 131.3v1.5M195.3 4.5v-1.5M202.5 131.3v1.5M202.5 4.5v-1.5M209.7 131.3v1.5M209.7 4.5v-1.5M216.8 131.3v1.5M216.8 4.5v-1.5M224.0 131.3v1.5M224.0 4.5v-1.5M231.2 131.3v1.5M231.2 4.5v-1.5M238.3 131.3v1.5M238.3 4.5v-1.5M245.5 131.3v1.5M245.5 4.5v-1.5M252.7 131.3v1.5M252.7 4.5v-1.5M259.8 131.3v1.5M259.8 4.5v-1.5M267.0 131.3v1.5M267.0 4.5v-1.5M274.2 131.3v1.5M274.2 4.5v-1.5M281.3 131.3v1.5M281.3 4.5v-1.5M288.5 131.3v1.5M288.5 4.5v-1.5M295.7 131.3v1.5M295.7 4.5v-1.5M302.8 131.3v1.5M302.8 4.5v-1.5M310.0 131.3v1.5M310.0 4.5v-1.5M317.2 131.3v1.5M317.2 4.5v-1.5M324.3 131.3v1.5M324.3 4.5v-1.5M331.5 131.3v1.5M331.5 4.5v-1.5M338.7 131.3v1.5M338.7 4.5v-1.5M345.8 131.3v1.5M345.8 4.5v-1.5M353.0 131.3v1.5M353.0 4.5v-1.5M91.3 131.2h-1.5M356.8 131.2h1.5M91.3 125.9h-1.5M356.8 125.9h1.5M91.3 120.7h-1.5M356.8 120.7h1.5M91.3 115.5h-1.5M356.8 115.5h1.5M91.3 110.2h-1.5M356.8 110.2h1.5M91.3 105.0h-1.5M356.8 105.0h1.5M91.3 99.7h-1.5M356.8 99.7h1.5M91.3 94.5h-1.5M356.8 94.5h1.5M91.3 89.2h-1.5M356.8 89.2h1.5M91.3 84.0h-1.5M356.8 84.0h1.5M91.3 78.7h-1.5M356.8 78.7h1.5M91.3 73.5h-1.5M356.8 73.5h1.5M91.3 68.2h-1.5M356.8 68.2h1.5M91.3 63.0h-1.5M356.8 63.0h1.5M91.3 57.8h-1.5M356.8 57.8h1.5M91.3 52.5h-1.5M356.8 52.5h1.5M91.3 47.3h-1.5M356.8 47.3h1.5M91.3 42.0h-1.5M356.8 42.0h1.5M91.3 36.8h-1.5M356.8 36.8h1.5M91.3 31.5h-1.5M356.8 31.5h1.5M91.3 26.3h-1.5M356.8 26.3h1.5M91.3 21.0h-1.5M356.8 21.0h1.5M91.3 15.8h-1.5M356.8 15.8h1.5M91.3 10.6h-1.5M356.8 10.6h1.5M91.3 5.3h-1.5M356.8 5.3h1.5" stroke="#777" stroke-width="0.6" fill="none"/>
<text x="116.5" y="144.6" text-anchor="middle" font-size="11">32</text>
<text x="152.3" y="144.6" text-anchor="middle" font-size="11">33</text>
<text x="188.2" y="144.6" text-anchor="middle" font-size="11">34</text>
<text x="224.0" y="144.6" text-anchor="middle" font-size="11">35</text>
<text x="259.8" y="144.6" text-anchor="middle" font-size="11">36</text>
<text x="295.7" y="144.6" text-anchor="middle" font-size="11">37</text>
<text x="331.5" y="144.6" text-anchor="middle" font-size="11">38</text>
<text x="86.1" y="124.6" text-anchor="end" font-size="11">33</text>
<text x="86.1" y="98.4" text-anchor="end" font-size="11">34</text>
<text x="86.1" y="72.1" text-anchor="end" font-size="11">35</text>
<text x="86.1" y="45.9" text-anchor="end" font-size="11">36</text>
<text x="86.1" y="19.7" text-anchor="end" font-size="11">37</text>
<text x="224.1" y="157.5" text-anchor="middle" font-size="12">x (kpc)</text>
<text transform="translate(67.9 67.9) rotate(-90)" text-anchor="middle" font-size="11.7">y (kpc)</text>
<g clip-path="url(#c2)">
<path d="M408.9 137.1L683.3 137.1 683.3 -1.8 407.6 -1.8 407.6 137.1Z" fill="#828082" fill-rule="evenodd"/>
<path d="M408.9 137.1L540.2 137.1 550.7 135.2 559.9 134.6 570.4 135.3 581.9 137.1 683.3 137.1 683.3 -1.8 407.6 -1.8 407.6 137.1Z" fill="#868287" fill-rule="evenodd"/>
<path d="M408.9 137.1L513.9 137.1 525.9 132.1 537.6 128.3 549.4 125.9 559.9 125.4 570.4 126.0 582.2 128.0 618.2 137.1 683.3 137.1 683.3 -1.8 407.6 -1.8 407.6 137.1Z" fill="#8a858e" fill-rule="evenodd"/>
<path d="M408.9 137.1L500.1 137.1 519.5 128.3 533.5 123.2 546.8 120.2 558.6 119.3 569.1 119.9 580.9 121.7 621.6 131.7 640.0 135.0 659.7 136.6 683.3 136.1 683.3 -1.8 407.6 -1.8 407.6 137.1Z" fill="#8c8894" fill-rule="evenodd"/>
<path d="M408.9 137.1L489.5 137.1 513.8 125.7 529.7 119.6 542.8 116.1 556.0 114.6 566.5 115.0 578.3 116.6 620.3 126.6 638.7 129.7 658.4 131.0 683.3 129.9 683.3 -1.8 407.6 -1.8 407.6 137.1Z" fill="#8d8c9a" fill-rule="evenodd"/>
<path d="M408.9 137.1L480.2 137.1 510.3 123.2 525.8 116.9 540.2 112.6 554.6 110.8 565.1 111.0 577.0 112.6 619.0 122.3 637.4 125.4 658.4 126.3 683.3 124.7 683.3 1.8 666.2 -1.8 407.6 -1.8 407.6 137.1Z" fill="#8d919f" fill-rule="evenodd"/>
<path d="M408.9 137.1L471.6 137.1 523.1 114.3 538.9 109.4 552.0 107.5 562.5 107.4 574.3 108.8 617.7 118.7 637.4 121.7 647.9 122.4 658.4 122.3 683.3 120.1 683.3 5.7 649.2 -1.8 581.6 -1.8 559.9 1.1 544.1 1.9 525.8 1.1 499.1 -1.8 407.6 -1.8 407.6 137.1Z" fill="#8c95a3" fill-rule="evenodd"/>
<path d="M408.9 137.1L462.9 137.1 477.2 131.5 511.3 116.0 524.4 110.6 537.6 106.6 550.7 104.4 561.2 104.3 573.0 105.6 616.3 115.4 637.4 118.5 647.9 119.0 658.4 118.7 683.3 116.0 683.3 9.3 649.2 1.2 636.0 -0.9 625.5 -1.8 601.9 -1.4 562.5 4.1 545.5 5.3 526.9 4.5 486.4 -0.1 466.0 -1.8 432.1 -1.8 407.6 0.6 407.6 137.1Z" fill="#8b9ba6" fill-rule="evenodd"/>
<path d="M408.9 137.1L453.6 137.1 475.9 129.1 511.2 113.1 523.5 108.1 537.6 103.7 549.4 101.7 559.9 101.4 571.7 102.6 616.3 112.7 636.0 115.5 646.5 115.9 657.0 115.5 683.3 112.1 683.3 12.6 647.9 3.8 636.0 1.8 624.2 0.8 613.7 0.6 601.9 1.3 561.2 7.3 542.8 8.4 524.4 7.3 474.6 1.5 448.3 0.4 427.3 1.2 407.6 3.4 407.6 137.1Z" fill="#8aa1a7" fill-rule="evenodd"/>
<path d="M408.9 137.1L442.7 137.1 450.9 135.1 462.7 131.4 473.2 127.5 523.1 105.5 536.3 101.3 548.1 99.1 558.6 98.7 570.4 99.8 580.9 101.8 615.0 109.9 636.0 112.8 646.5 113.0 657.0 112.5 683.3 108.5 683.3 15.7 647.9 6.4 636.0 4.3 624.2 3.2 613.7 3.1 601.9 3.8 561.2 10.1 542.8 11.3 524.4 10.1 474.6 4.0 448.3 2.8 427.3 3.6 407.6 5.8 407.6 137.1Z" fill="#8aa6a6" fill-rule="evenodd"/>
<path d="M408.9 137.1L428.6 137.0 441.7 134.7 454.9 131.4 475.9 123.8 523.1 102.9 534.9 99.0 546.8 96.7 557.3 96.2 569.1 97.2 580.9 99.4 615.0 107.5 634.7 110.2 645.2 110.4 655.7 109.7 667.5 108.1 683.3 105.0 683.3 18.7 649.2 9.1 636.0 6.7 624.2 5.5 613.7 5.3 601.9 6.1 561.2 12.8 542.8 14.1 524.4 12.8 475.9 6.5 448.3 5.1 427.3 5.9 407.6 8.2 407.6 137.1Z" fill="#8baca4" fill-rule="evenodd"/>
<path d="M408.9 135.8L420.7 135.3 432.5 134.0 444.4 131.7 456.2 128.6 475.9 121.5 523.1 100.4 534.9 96.5 546.8 94.2 557.3 93.7 569.1 94.8 579.6 96.9 613.7 105.0 624.2 106.8 634.7 107.8 645.2 107.9 657.0 106.9 668.9 104.8 683.3 101.6 683.3 21.6 649.2 11.4 636.0 8.9 624.2 7.7 613.7 7.5 601.9 8.3 561.2 15.4 552.0 16.4 542.8 16.7 525.8 15.5 475.9 8.7 461.4 7.6 447.0 7.2 427.3 8.0 407.6 10.3 407.6 135.8Z" fill="#8db0a2" fill-rule="evenodd"/>
<path d="M408.9 133.4L420.7 133.0 432.5 131.7 444.4 129.4 456.2 126.3 477.2 118.6 523.1 98.0 534.9 94.1 545.5 92.0 556.0 91.3 567.8 92.3 578.3 94.4 612.4 102.7 624.2 104.6 634.7 105.5 645.2 105.4 657.0 104.2 667.5 102.2 683.3 98.2 683.3 24.4 659.7 16.6 645.2 12.7 630.8 10.3 617.7 9.5 599.3 10.8 562.5 17.8 545.5 19.3 528.4 18.4 483.7 11.7 460.1 9.5 433.9 9.6 407.6 12.4 407.6 133.4Z" fill="#91b59e" fill-rule="evenodd"/>
<path d="M408.9 131.1L420.7 130.7 432.5 129.4 444.4 127.3 456.2 124.2 477.2 116.4 523.1 95.7 534.9 91.7 545.5 89.6 556.0 89.0 567.8 90.1 612.4 100.6 622.9 102.4 633.4 103.3 643.9 103.2 655.7 101.9 667.5 99.4 683.3 94.8 683.3 27.3 661.0 19.3 646.5 15.1 632.1 12.4 617.7 11.5 599.3 12.8 562.5 20.2 545.5 21.9 528.4 20.8 485.1 13.9 460.1 11.5 447.0 11.1 433.9 11.5 420.7 12.6 407.6 14.4 407.6 131.1Z" fill="#96b89c" fill-rule="evenodd"/>
<path d="M408.9 128.9L420.7 128.6 432.5 127.3 444.4 125.2 457.5 121.7 478.5 113.8 523.1 93.4 534.9 89.4 545.5 87.2 556.0 86.6 566.5 87.6 577.0 89.8 611.1 98.4 622.9 100.3 633.4 101.2 645.2 100.8 656.5 99.2 668.9 96.2 683.3 91.4 683.3 30.2 662.6 22.2 647.9 17.5 633.4 14.6 619.0 13.4 609.8 13.7 599.3 14.8 561.2 22.9 545.5 24.4 528.4 23.3 486.4 16.1 461.4 13.4 448.3 13.0 435.2 13.3 422.0 14.3 407.6 16.3 407.6 128.8Z" fill="#9cba99" fill-rule="evenodd"/>
<path d="M408.9 126.7L420.7 126.5 432.5 125.3 444.4 123.1 456.2 120.1 477.2 112.3 524.4 90.6 534.9 87.0 545.5 84.8 554.6 84.3 565.1 85.2 575.6 87.4 611.1 96.5 622.9 98.4 633.4 99.1 645.2 98.6 657.0 96.6 668.9 93.3 683.3 87.9 683.3 33.3 663.6 24.9 649.2 20.0 634.7 16.7 620.3 15.3 609.8 15.6 599.3 16.8 561.2 25.4 545.5 27.0 529.7 25.9 486.4 18.1 461.4 15.2 447.0 14.8 433.9 15.1 420.7 16.2 407.6 18.1 407.6 126.7Z" fill="#a5bc97" fill-rule="evenodd"/>
<path d="M408.9 124.7L422.0 124.4 433.9 123.1 445.7 120.9 457.5 117.7 478.5 109.8 524.4 88.3 534.9 84.6 544.1 82.5 553.3 81.8 563.8 82.7 574.3 84.9 609.8 94.3 621.6 96.3 633.4 97.1 645.2 96.4 657.0 94.1 668.9 90.4 683.3 84.1 683.3 36.5 664.9 27.8 649.2 22.0 634.7 18.6 620.3 17.2 609.8 17.4 599.3 18.7 588.4 20.9 561.2 27.9 553.3 29.1 545.5 29.6 529.7 28.4 486.4 20.0 461.4 17.0 447.0 16.5 433.9 16.8 420.7 17.9 407.6 19.9 407.6 124.6Z" fill="#aebd97" fill-rule="evenodd"/>
<path d="M408.9 122.6L422.0 122.4 433.9 121.2 445.7 119.0 457.5 115.8 468.0 112.1 479.8 107.2 525.8 85.4 536.3 81.7 545.5 79.8 554.6 79.4 565.1 80.6 607.2 91.9 617.7 93.9 628.2 95.0 640.0 94.8 650.5 93.3 661.1 90.4 673.3 85.3 683.3 80.0 683.3 40.0 666.6 31.0 650.5 24.5 634.7 20.4 620.3 18.9 609.8 19.2 599.3 20.6 587.5 23.2 561.2 30.4 553.3 31.8 545.5 32.3 531.0 31.1 487.7 22.1 462.7 18.8 448.3 18.2 435.2 18.4 422.0 19.5 407.6 21.6 407.6 122.6Z" fill="#b8bd99" fill-rule="evenodd"/>
<path d="M410.2 120.7L423.4 120.4 435.2 119.1 447.0 116.8 458.8 113.5 469.3 109.8 481.1 104.7 525.8 83.0 536.3 79.1 545.5 77.1 554.6 76.8 563.8 77.9 573.0 80.2 604.5 89.5 615.0 91.7 625.5 92.9 636.0 93.0 646.5 91.8 657.0 89.1 666.6 85.3 676.0 80.3 683.3 75.2 683.3 44.0 668.8 34.8 651.8 27.0 636.0 22.5 620.3 20.7 609.8 21.0 598.0 22.7 586.1 25.6 561.2 33.1 553.3 34.7 545.5 35.2 531.0 33.8 490.3 24.4 477.2 22.2 464.1 20.6 449.6 19.8 435.2 20.0 420.7 21.3 407.6 23.3 407.6 120.6 410.0 120.7Z" fill="#c2bd9c" fill-rule="evenodd"/>
<path d="M408.9 118.7L422.0 118.7 433.9 117.5 447.0 115.0 458.8 111.7 470.6 107.4 482.4 102.2 527.1 79.8 537.6 75.9 545.5 74.2 553.3 73.9 562.5 75.1 571.7 77.4 603.2 87.3 613.7 89.6 622.9 90.8 633.4 91.1 643.9 90.1 653.1 87.9 662.3 84.3 673.7 77.8 678.5 74.0 683.3 68.9 683.3 49.5 678.7 44.9 672.1 39.9 663.8 34.8 655.7 30.8 646.6 27.2 638.7 25.0 630.8 23.4 621.6 22.5 609.8 22.8 598.0 24.6 586.1 27.7 559.9 36.4 552.0 37.9 545.5 38.3 532.3 36.9 491.6 26.6 478.5 24.1 465.4 22.4 450.9 21.4 436.5 21.5 422.0 22.7 407.6 24.9 407.6 118.7Z" fill="#cbbca0" fill-rule="evenodd"/>
<path d="M411.5 116.9L424.7 116.7 436.5 115.3 449.6 112.6 461.4 109.0 471.9 105.0 484.7 99.2 529.7 75.8 538.9 72.4 545.5 70.9 553.3 70.6 561.2 71.8 600.6 84.7 611.1 87.3 620.3 88.7 630.8 89.2 640.0 88.5 649.2 86.6 658.4 83.2 664.1 80.3 669.8 76.5 674.2 72.7 678.4 67.7 680.3 63.9 681.4 58.8 680.9 55.0 679.1 51.2 675.0 46.2 669.1 41.1 661.3 36.1 654.0 32.3 645.2 28.8 637.4 26.5 629.5 25.0 620.3 24.3 608.5 24.8 596.7 26.8 584.8 30.3 559.9 39.6 553.3 41.2 546.8 41.9 541.5 41.7 534.9 40.6 494.2 29.1 479.8 26.1 466.7 24.2 450.9 23.0 436.5 23.1 422.0 24.3 407.6 26.6 407.6 116.7 411.2 116.9Z" fill="#d4bca8" fill-rule="evenodd"/>
<path d="M408.9 114.9L422.0 115.0 435.2 113.7 448.3 111.1 461.4 107.2 474.6 102.0 487.7 95.8 532.3 71.3 538.9 68.5 545.5 66.8 552.0 66.5 559.9 68.0 596.4 81.5 607.2 84.6 616.3 86.4 626.8 87.3 636.0 86.9 645.2 85.3 653.1 82.8 658.4 80.3 664.5 76.5 669.0 72.7 673.2 67.7 675.1 63.9 676.2 58.8 675.8 55.0 674.2 51.2 671.5 47.4 666.1 42.4 660.9 38.6 653.1 34.2 645.7 31.0 638.7 28.8 630.8 27.1 622.9 26.2 609.8 26.4 596.7 28.8 582.5 33.5 557.3 44.4 552.0 45.8 546.8 46.3 541.5 46.0 534.9 44.4 508.7 35.4 494.0 31.0 481.1 28.1 469.3 26.1 453.5 24.7 437.8 24.6 423.4 25.7 407.6 28.2 407.6 114.8Z" fill="#dbbcb0" fill-rule="evenodd"/>
<path d="M410.2 113.1L424.7 113.1 439.1 111.4 453.5 108.0 468.0 103.0 482.0 96.7 496.3 89.1 513.3 79.0 544.1 59.4 548.1 57.8 552.0 59.2 585.1 75.2 598.0 80.1 608.5 83.0 620.3 85.0 630.8 85.3 641.3 84.0 650.5 81.1 655.7 78.6 661.0 75.2 665.3 71.4 668.4 67.7 670.4 63.9 671.5 58.8 671.2 55.0 669.7 51.2 665.9 46.2 661.8 42.4 656.4 38.6 650.5 35.3 637.4 30.4 630.8 28.9 622.9 28.0 615.0 27.9 605.8 28.8 596.7 30.9 588.8 33.5 572.4 41.1 550.7 54.5 548.1 55.6 544.1 54.4 525.5 44.9 510.0 38.3 494.2 33.1 477.2 29.1 460.1 26.7 441.7 26.0 424.7 27.1 407.6 29.8 407.6 113.0 410.0 113.1Z" fill="#e2bdba" fill-rule="evenodd"/>
<path d="M408.9 111.2L423.4 111.4 437.8 109.8 452.2 106.6 468.0 101.2 485.6 92.9 505.2 81.5 521.4 70.2 527.2 65.1 530.2 61.3 531.2 57.5 530.4 55.0 528.6 52.5 522.3 47.4 510.3 41.1 498.2 36.4 485.1 32.6 471.4 29.8 457.5 28.1 445.7 27.5 432.5 27.9 419.4 29.3 407.6 31.4 407.6 111.1ZM619.0 82.9L628.2 83.4 636.0 82.7 643.9 80.9 650.5 78.4 657.0 74.4 661.8 70.2 665.3 65.1 667.0 60.1 666.8 55.0 665.4 51.2 661.7 46.2 657.0 42.0 650.5 37.8 642.6 34.2 634.7 31.7 626.8 30.2 619.0 29.7 609.8 30.2 600.6 31.9 591.3 34.8 580.6 39.9 572.7 44.9 567.0 50.0 565.2 52.5 564.3 55.0 564.4 57.5 566.9 61.3 571.6 65.1 580.0 70.2 590.1 75.0 599.3 78.4 608.5 81.1 618.0 82.8Z" fill="#e6bec4" fill-rule="evenodd"/>
<path d="M410.2 109.4L424.7 109.5 439.1 107.9 453.5 104.5 468.0 99.4 486.4 90.5 503.1 80.3 516.3 70.2 520.1 66.4 522.7 62.6 523.6 60.1 523.7 57.5 523.0 55.0 521.3 52.5 515.6 47.4 506.8 42.4 494.5 37.3 482.4 33.8 469.3 31.1 456.2 29.5 444.4 29.0 431.2 29.5 419.4 30.8 407.6 33.0 407.6 109.2 409.0 109.3ZM615.0 80.4L622.9 81.3 630.8 81.1 638.7 79.9 645.2 77.9 651.8 74.5 657.0 70.3 660.2 66.4 662.5 61.3 662.9 56.3 661.9 52.5 658.7 47.4 654.8 43.7 649.4 39.9 642.6 36.4 636.0 34.1 628.2 32.3 620.3 31.6 611.1 32.0 602.2 33.5 594.2 36.1 586.1 39.9 578.4 44.9 573.5 50.0 571.6 53.8 571.6 57.5 572.8 60.1 576.1 63.9 581.2 67.7 587.9 71.4 596.7 75.3 605.8 78.4 614.2 80.3Z" fill="#e8c0ce" fill-rule="evenodd"/>
<path d="M408.9 107.5L422.0 107.9 436.5 106.6 450.9 103.5 465.4 98.6 480.4 91.6 495.5 82.8 509.0 72.7 515.8 65.1 517.8 60.1 517.7 57.5 516.9 55.0 512.9 50.0 505.8 44.9 495.2 39.9 483.9 36.1 471.9 33.2 458.8 31.3 445.7 30.6 432.5 30.9 419.7 32.3 407.6 34.6 407.6 107.3ZM620.3 79.0L628.2 79.2 634.7 78.4 641.3 76.6 646.5 74.3 651.0 71.4 654.9 67.7 657.3 63.9 658.8 58.8 658.3 53.8 656.5 50.0 653.4 46.2 649.2 42.7 643.9 39.5 637.4 36.7 630.8 34.8 624.2 33.8 616.3 33.6 608.5 34.3 601.1 36.1 594.2 38.6 587.2 42.4 582.3 46.2 578.3 51.2 577.2 55.0 577.8 58.8 580.4 62.6 584.7 66.4 590.8 70.2 598.0 73.5 605.8 76.3 612.4 77.9 620.2 79.0Z" fill="#eac3d9" fill-rule="evenodd"/>
<path d="M408.9 105.6L422.0 106.1 435.2 105.0 449.6 102.1 462.7 97.8 477.2 91.3 491.8 82.8 503.5 74.0 510.3 66.4 512.5 61.3 512.1 56.3 508.8 51.2 502.5 46.2 492.9 41.3 482.4 37.6 470.6 34.7 458.8 32.9 445.7 32.1 432.5 32.4 419.4 33.9 407.6 36.2 407.6 105.4 408.6 105.5ZM617.7 76.6L624.2 77.0 630.8 76.6 636.0 75.6 641.3 73.8 646.5 70.8 650.3 67.7 653.0 63.9 654.4 60.1 654.7 56.3 653.8 52.5 651.4 48.7 647.6 44.9 642.6 41.6 637.4 39.1 632.0 37.3 625.5 36.0 619.0 35.6 611.1 36.1 604.5 37.4 598.0 39.7 592.6 42.4 587.4 46.2 584.1 50.0 582.5 53.8 582.6 57.5 583.6 60.1 586.8 63.9 591.4 67.4 596.7 70.4 603.2 73.1 609.8 75.1 616.8 76.5Z" fill="#e9c7e1" fill-rule="evenodd"/>
<path d="M418.1 104.3L431.2 103.8 443.9 101.8 456.2 98.4 469.3 93.2 483.7 85.6 495.1 77.8 503.2 70.2 507.2 63.9 507.9 58.8 505.9 53.8 500.9 48.7 492.9 43.9 483.1 39.9 471.9 36.8 460.1 34.7 447.0 33.7 427.3 34.4 407.6 37.8 407.6 103.5 417.7 104.3ZM616.3 74.1L622.9 74.7 628.2 74.4 633.4 73.5 638.7 71.8 642.6 69.7 646.5 66.4 648.5 63.9 650.2 60.1 650.6 56.3 649.6 52.5 647.1 48.7 644.5 46.2 641.0 43.7 635.9 41.1 625.5 38.3 620.3 37.8 613.7 38.1 607.2 39.2 601.9 40.9 596.7 43.4 592.6 46.2 590.0 48.7 587.8 52.5 587.3 56.3 588.0 58.8 590.1 62.0 593.4 65.1 597.2 67.7 603.2 70.6 615.2 74.0Z" fill="#e8ccea" fill-rule="evenodd"/>
<path d="M410.2 101.9L422.0 102.5 433.9 101.7 447.0 99.3 458.8 95.6 471.9 90.0 484.4 82.8 494.3 75.2 500.2 68.9 502.9 63.9 503.3 58.8 501.2 53.8 496.0 48.7 489.0 44.6 479.8 40.9 469.3 38.0 457.5 36.0 445.7 35.2 432.5 35.5 419.4 37.0 407.6 39.5 407.6 101.5 409.2 101.8ZM616.3 71.6L625.5 72.0 634.7 70.1 641.3 66.3 643.9 63.4 645.6 60.1 646.1 56.3 645.6 53.8 642.4 48.7 639.4 46.2 635.0 43.7 625.5 40.8 615.0 40.4 605.7 42.4 598.0 46.4 595.3 48.7 592.9 52.5 592.4 56.3 593.1 58.8 594.7 61.3 597.3 63.9 600.9 66.4 605.8 68.8 615.3 71.4Z" fill="#e6d1f0" fill-rule="evenodd"/>
<path d="M416.8 100.5L427.3 100.5 439.1 99.1 450.9 96.4 462.7 92.2 474.3 86.6 484.3 80.3 493.1 72.7 497.7 66.4 499.1 61.3 498.1 56.3 494.2 51.2 489.1 47.4 481.4 43.7 471.9 40.5 461.4 38.3 449.6 37.0 439.1 36.7 428.6 37.4 418.1 38.8 407.6 41.2 407.6 99.5 416.4 100.5ZM619.0 69.0L626.8 68.8 634.3 66.4 639.0 62.6 640.5 60.1 641.2 57.5 641.1 55.0 640.2 52.5 636.9 48.7 630.8 45.2 622.9 43.2 615.0 43.2 607.2 45.2 601.2 48.7 599.0 51.2 597.9 53.8 597.7 56.3 598.5 58.8 601.9 62.8 608.5 66.5 617.8 68.9Z" fill="#e4d6f4" fill-rule="evenodd"/>
<path d="M411.5 98.1L422.0 98.8 433.9 98.1 444.4 96.2 455.8 92.9 466.7 88.4 476.7 82.8 485.4 76.5 491.4 70.2 494.2 65.1 494.9 60.1 493.0 55.0 489.5 51.2 483.9 47.4 475.3 43.7 466.7 41.1 456.2 39.2 444.4 38.3 431.2 38.7 419.4 40.2 407.6 42.9 407.6 97.5 410.7 98.0ZM617.7 65.3L624.2 65.3 629.5 63.9 633.2 61.3 635.3 57.5 634.8 53.8 633.0 51.2 629.3 48.7 622.9 46.7 616.3 46.6 611.1 47.8 607.1 50.0 604.2 53.8 604.3 57.5 606.0 60.1 609.8 62.9 616.5 65.1Z" fill="#e2dcf7" fill-rule="evenodd"/>
<path d="M419.4 96.7L428.6 96.7 439.1 95.4 449.6 93.0 460.1 89.2 470.6 84.1 478.4 79.0 485.5 72.7 489.1 67.7 490.7 62.6 490.4 58.8 487.5 53.8 483.0 50.0 475.9 46.2 468.0 43.5 457.5 41.2 447.0 40.1 437.8 40.0 427.3 40.7 416.9 42.4 407.6 44.8 407.6 95.3 418.5 96.7ZM616.3 58.9L619.0 59.5 621.6 59.5 623.9 58.8 625.4 57.5 625.8 55.0 624.8 53.8 622.9 52.7 617.7 52.3 614.5 53.8 613.7 55.0 613.7 56.3 614.4 57.5 616.2 58.8Z" fill="#e1e2f9" fill-rule="evenodd"/>
<path d="M414.2 94.2L423.4 94.8 432.5 94.4 442.2 92.9 452.2 90.2 461.4 86.5 470.6 81.6 477.6 76.5 482.7 71.4 485.7 66.4 486.6 62.6 485.6 57.5 482.8 53.8 477.9 50.0 470.6 46.6 462.7 44.2 453.5 42.5 441.7 41.6 429.9 42.1 418.1 43.9 407.6 46.7 407.6 93.1 413.7 94.2Z" fill="#e0e8f9" fill-rule="evenodd"/>
<path d="M412.8 91.8L420.7 92.7 429.9 92.6 439.1 91.5 448.3 89.3 457.5 86.0 465.4 82.1 472.0 77.8 477.6 72.7 481.1 67.7 482.3 63.9 482.2 60.1 480.4 56.3 476.5 52.5 470.6 49.1 464.1 46.7 456.2 44.8 444.4 43.5 431.2 43.8 419.4 45.5 407.6 48.7 407.6 90.7 412.0 91.6Z" fill="#e1edf9" fill-rule="evenodd"/>
<path d="M420.7 90.5L428.6 90.6 437.8 89.6 445.7 87.9 453.4 85.3 461.4 81.6 467.6 77.8 472.2 74.0 476.3 68.9 477.9 65.1 478.1 61.3 476.6 57.5 473.0 53.8 468.9 51.2 462.7 48.7 454.9 46.6 447.0 45.6 436.5 45.3 426.1 46.2 416.8 48.0 407.6 50.9 407.6 88.1 419.8 90.4Z" fill="#e3f1f8" fill-rule="evenodd"/>
<path d="M419.4 87.9L427.3 88.3 434.3 87.9 441.7 86.6 449.6 84.3 456.3 81.5 462.9 77.8 467.8 74.0 471.1 70.2 473.1 66.4 473.7 62.6 472.6 58.8 470.6 56.3 466.7 53.3 461.4 50.8 454.9 48.9 448.3 47.8 437.8 47.2 427.3 48.0 417.4 50.0 407.6 53.4 407.6 85.2 418.7 87.9Z" fill="#e7f5f7" fill-rule="evenodd"/>
<path d="M420.7 85.5L427.3 85.8 433.9 85.5 440.4 84.4 447.0 82.6 452.9 80.3 458.8 77.0 462.9 74.0 466.5 70.2 468.0 67.6 469.0 63.9 468.2 60.1 466.4 57.5 463.2 55.0 458.0 52.5 447.0 49.9 436.5 49.3 426.0 50.3 416.7 52.5 407.6 56.2 407.6 81.8 413.6 84.1 419.7 85.3Z" fill="#ebf8f7" fill-rule="evenodd"/>
<path d="M423.4 82.9L433.9 82.8 445.7 80.2 451.4 77.8 455.8 75.2 459.0 72.7 462.2 68.9 463.4 66.4 463.8 63.9 463.3 61.3 461.4 58.6 458.4 56.3 454.9 54.6 444.4 52.1 435.2 51.7 424.7 53.0 414.2 56.2 407.6 60.0 407.6 77.4 414.2 80.8 422.9 82.8Z" fill="#f1fbf8" fill-rule="evenodd"/>
<path d="M422.0 79.2L429.9 79.9 439.1 78.8 448.3 75.5 454.2 71.4 456.3 68.9 457.5 66.4 457.8 63.9 457.0 61.3 454.9 59.1 452.4 57.5 445.7 55.3 436.5 54.4 426.0 55.6 416.8 58.6 410.8 62.6 409.0 65.1 408.3 67.7 408.6 70.2 409.9 72.7 414.3 76.5 421.0 79.0Z" fill="#f7fdfa" fill-rule="evenodd"/>
<path d="M426.0 75.5L431.2 75.8 437.8 74.9 443.9 72.7 448.3 69.5 450.2 66.4 450.2 63.9 449.6 62.6 446.5 60.1 441.7 58.5 435.2 58.0 427.7 58.8 420.7 61.3 417.4 63.9 415.9 66.4 416.4 70.2 419.4 73.1 424.8 75.2Z" fill="#fcfefd" fill-rule="evenodd"/>
<path d="M513.9 137.1L525.9 132.1 537.6 128.3 549.4 125.9 559.9 125.4 570.4 126.0 582.2 128.0 618.2 137.1" fill="none" stroke="#110815" stroke-opacity="0.7" stroke-width="0.75"/>
<path d="M489.5 137.1L513.8 125.7 528.4 120.0 541.5 116.4 554.6 114.7 565.1 114.9 577.0 116.4 620.3 126.6 640.0 129.9 659.7 131.0 683.3 129.9" fill="none" stroke="#1a142f" stroke-opacity="0.7" stroke-width="0.75"/>
<path d="M471.6 137.1L510.8 119.4 523.1 114.3 537.6 109.8 550.7 107.6 562.5 107.4 574.3 108.8 584.8 110.9 617.7 118.7 637.4 121.7 647.9 122.4 658.4 122.3 683.3 120.1M683.3 5.7L649.2 -1.8M581.6 -1.8L559.9 1.1 544.1 1.9 525.8 1.1 499.1 -1.8" fill="none" stroke="#1a2744" stroke-opacity="0.7" stroke-width="0.75"/>
<path d="M453.6 137.1L464.1 133.7 475.9 129.1 511.2 113.1 523.5 108.1 536.3 104.0 548.1 101.8 559.9 101.4 571.7 102.6 583.5 104.9 616.3 112.7 636.0 115.5 646.5 115.9 657.0 115.5 668.9 114.3 683.3 112.1M683.3 12.6L659.7 6.4 646.5 3.5 633.4 1.5 621.6 0.7 611.1 0.7 600.6 1.4 562.5 7.1 545.5 8.4 527.1 7.6 482.4 2.2 458.8 0.5 445.7 0.4 432.5 0.8 407.6 3.4" fill="none" stroke="#163d4e" stroke-opacity="0.7" stroke-width="0.75"/>
<path d="M427.6 137.1L444.4 134.2 461.4 129.3 478.5 122.7 510.7 108.1 522.8 103.0 534.9 99.0 546.8 96.7 557.3 96.2 569.1 97.2 580.9 99.4 615.0 107.5 625.5 109.2 634.7 110.2 645.2 110.4 655.7 109.7 667.5 108.1 683.3 105.0M683.3 18.7L659.7 11.7 647.9 8.8 634.7 6.5 621.6 5.4 611.1 5.4 600.6 6.3 562.5 12.7 545.5 14.0 528.4 13.2 483.7 7.3 460.1 5.3 447.0 5.1 433.9 5.5 420.7 6.5 407.6 8.2" fill="none" stroke="#16534c" stroke-opacity="0.7" stroke-width="0.75"/>
<path d="M407.6 133.4L420.7 133.0 432.5 131.7 444.4 129.4 456.2 126.3 466.7 122.8 477.2 118.6 511.3 103.0 523.1 98.0 534.9 94.1 545.5 92.0 556.0 91.3 567.8 92.3 578.3 94.4 612.4 102.7 624.2 104.6 634.7 105.5 645.2 105.4 657.0 104.2 667.5 102.2 683.3 98.2M683.3 24.4L662.3 17.4 649.2 13.6 636.0 11.0 622.9 9.7 612.4 9.6 600.6 10.6 588.8 12.5 562.5 17.8 553.3 18.9 545.5 19.3 528.4 18.4 483.7 11.7 460.1 9.5 447.0 9.2 433.9 9.6 420.7 10.7 407.6 12.4" fill="none" stroke="#1e6542" stroke-opacity="0.7" stroke-width="0.75"/>
<path d="M407.6 128.8L420.7 128.6 432.5 127.3 444.4 125.2 456.2 122.1 466.7 118.5 478.5 113.8 512.6 97.9 524.4 92.9 534.9 89.4 545.5 87.2 556.0 86.6 566.5 87.6 577.0 89.8 611.1 98.4 622.9 100.3 633.4 101.2 645.2 100.8 656.5 99.2 668.9 96.2 683.3 91.4M683.3 30.2L662.6 22.2 649.2 17.9 636.0 15.0 622.9 13.6 612.4 13.5 600.6 14.6 588.8 16.7 561.2 22.9 553.3 24.0 545.5 24.4 537.6 24.2 528.4 23.3 486.4 16.1 461.4 13.4 448.3 13.0 435.2 13.3 422.0 14.3 407.6 16.3" fill="none" stroke="#337335" stroke-opacity="0.7" stroke-width="0.75"/>
<path d="M407.6 124.6L420.7 124.5 432.5 123.3 444.4 121.2 457.5 117.7 468.0 114.1 478.5 109.8 524.4 88.3 534.9 84.6 544.1 82.5 553.3 81.8 563.8 82.7 574.3 84.9 609.8 94.3 621.6 96.3 633.4 97.1 645.2 96.4 657.0 94.1 668.9 90.4 683.3 84.1M683.3 36.5L666.5 28.5 651.8 22.8 637.4 19.0 624.2 17.3 612.4 17.2 600.6 18.5 588.8 20.8 561.2 27.9 553.3 29.1 545.5 29.6 537.6 29.3 529.7 28.4 486.4 20.0 473.2 18.1 461.4 17.0 447.0 16.5 433.9 16.8 420.7 17.9 407.6 19.9" fill="none" stroke="#54792f" stroke-opacity="0.7" stroke-width="0.75"/>
<path d="M407.6 120.6L420.7 120.6 432.5 119.5 444.4 117.4 457.5 113.9 469.3 109.8 481.1 104.7 525.8 83.0 534.9 79.5 544.1 77.3 553.3 76.7 562.5 77.7 571.7 79.8 596.7 87.4 608.5 90.4 621.6 92.6 633.4 93.1 646.5 91.8 659.7 88.2 671.6 82.8 683.3 75.2M683.3 44.0L668.8 34.8 653.1 27.5 638.7 23.1 624.2 20.9 612.4 20.8 599.3 22.5 587.5 25.3 561.2 33.1 553.3 34.7 545.5 35.2 538.9 34.9 531.0 33.8 490.3 24.4 477.2 22.2 464.1 20.6 449.6 19.8 435.2 20.0 420.7 21.3 407.6 23.3" fill="none" stroke="#7b7a35" stroke-opacity="0.7" stroke-width="0.75"/>
<path d="M407.6 116.7L420.7 116.9 432.5 115.9 445.7 113.5 458.8 109.9 470.6 105.5 483.7 99.7 529.7 75.8 538.9 72.4 546.8 70.7 554.6 70.7 562.5 72.2 596.7 83.6 613.7 87.8 622.9 89.0 630.8 89.2 638.7 88.7 645.2 87.6 653.1 85.4 659.3 82.8 666.1 79.0 671.4 75.2 675.4 71.4 678.4 67.7 680.3 63.9 681.4 58.8 680.4 53.8 677.3 48.7 672.2 43.7 665.4 38.6 656.6 33.5 647.9 29.7 638.7 26.9 628.2 24.9 621.6 24.3 613.7 24.3 599.3 26.3 586.1 29.9 559.9 39.6 553.3 41.2 546.8 41.9 541.5 41.7 534.9 40.6 494.2 29.1 479.8 26.1 466.7 24.2 450.9 23.0 436.5 23.1 422.0 24.3 407.6 26.6" fill="none" stroke="#9f7948" stroke-opacity="0.7" stroke-width="0.75"/>
<path d="M407.6 113.0L422.0 113.2 436.5 111.8 450.9 108.7 466.7 103.5 481.1 97.1 496.3 89.1 511.3 80.3 546.8 58.1 548.1 57.8 550.7 58.6 579.4 72.7 596.7 79.6 605.8 82.4 613.7 84.1 621.6 85.1 628.2 85.4 636.0 84.9 643.9 83.3 651.8 80.6 658.4 77.1 664.0 72.7 668.4 67.7 670.8 62.6 671.5 57.5 670.3 52.5 667.0 47.4 661.8 42.4 656.4 38.6 649.4 34.8 641.3 31.6 633.4 29.4 625.5 28.2 617.7 27.8 608.5 28.4 600.6 29.8 591.4 32.5 582.5 36.1 574.8 39.9 565.9 44.9 550.7 54.5 548.1 55.6 544.1 54.4 525.5 44.9 510.0 38.3 494.2 33.1 477.2 29.1 460.1 26.7 441.7 26.0 424.7 27.1 407.6 29.8" fill="none" stroke="#be796a" stroke-opacity="0.7" stroke-width="0.75"/>
<path d="M407.6 109.2L423.4 109.6 439.1 107.9 454.9 104.1 470.6 98.3 479.8 93.9 490.3 88.3 508.5 76.5 514.9 71.4 520.1 66.4 522.7 62.6 523.8 58.8 523.4 56.3 521.3 52.5 517.4 48.7 511.6 44.9 504.1 41.1 496.9 38.2 487.7 35.2 478.5 32.9 461.4 30.0 443.0 29.0 424.7 30.1 407.6 33.0M615.0 80.4L622.9 81.3 630.8 81.1 638.7 79.9 645.2 77.9 651.8 74.5 657.0 70.3 660.2 66.4 662.5 61.3 662.9 56.3 661.9 52.5 658.7 47.4 654.8 43.7 649.4 39.9 642.6 36.4 636.0 34.1 628.2 32.3 620.3 31.6 611.1 32.0 602.2 33.5 594.2 36.1 586.1 39.9 578.4 44.9 573.5 50.0 571.6 53.8 571.6 57.5 572.8 60.1 576.1 63.9 581.2 67.7 587.9 71.4 596.7 75.3 605.8 78.4 614.2 80.3Z" fill="none" stroke="#d07e93" stroke-opacity="0.7" stroke-width="0.75"/>
<path d="M407.6 105.4L422.0 106.1 437.8 104.7 453.5 101.0 468.0 95.7 476.6 91.6 485.8 86.6 493.7 81.5 500.5 76.5 506.2 71.4 509.4 67.7 511.7 63.9 512.6 60.1 512.1 56.3 509.9 52.5 506.1 48.7 502.5 46.2 495.6 42.5 489.2 39.9 474.6 35.6 458.8 32.9 441.7 32.1 424.7 33.2 407.6 36.2M617.7 76.6L624.2 77.0 630.8 76.6 636.0 75.6 641.3 73.8 646.5 70.8 650.3 67.7 653.0 63.9 654.4 60.1 654.7 56.3 653.8 52.5 651.4 48.7 647.6 44.9 642.6 41.6 637.4 39.1 632.0 37.3 625.5 36.0 619.0 35.6 611.1 36.1 604.5 37.4 598.0 39.7 592.6 42.4 587.4 46.2 584.1 50.0 582.5 53.8 582.6 57.5 583.6 60.1 586.8 63.9 591.4 67.4 596.7 70.4 603.2 73.1 609.8 75.1 616.8 76.5Z" fill="none" stroke="#d48abb" stroke-opacity="0.7" stroke-width="0.75"/>
<path d="M407.6 101.5L422.0 102.5 436.5 101.3 450.9 98.2 465.6 92.9 480.4 85.3 492.9 76.5 498.1 71.4 501.0 67.7 502.9 63.9 503.4 60.1 502.6 56.3 501.2 53.8 498.2 50.5 494.1 47.4 483.7 42.3 469.3 38.0 454.9 35.8 439.1 35.2 423.4 36.4 407.6 39.5M616.3 71.6L625.5 72.0 629.8 71.4 634.7 70.1 638.7 68.2 641.3 66.3 643.9 63.4 645.6 60.1 646.1 56.3 645.6 53.8 644.4 51.2 642.4 48.7 639.4 46.2 635.0 43.7 630.8 42.0 625.5 40.8 620.3 40.3 615.0 40.4 605.7 42.4 601.9 44.0 598.0 46.4 595.3 48.7 592.9 52.5 592.4 56.3 593.1 58.8 594.7 61.3 597.3 63.9 600.9 66.4 605.8 68.8 615.3 71.4Z" fill="none" stroke="#cf9ddb" stroke-opacity="0.7" stroke-width="0.75"/>
<path d="M407.6 97.5L420.7 98.7 433.9 98.1 447.6 95.4 461.4 90.7 474.7 84.1 485.4 76.5 489.3 72.7 492.3 68.9 494.2 65.1 494.9 61.3 494.3 57.5 493.0 55.0 490.3 52.0 486.4 48.9 481.5 46.2 475.9 43.8 464.1 40.6 450.9 38.7 436.5 38.4 422.0 39.8 407.6 42.9M617.7 65.3L624.2 65.3 629.5 63.9 633.2 61.3 635.3 57.5 634.8 53.8 633.0 51.2 629.3 48.7 622.9 46.7 616.3 46.6 611.1 47.8 607.1 50.0 605.7 51.2 604.2 53.8 603.9 55.0 604.3 57.5 606.0 60.1 609.8 62.9 616.5 65.1Z" fill="none" stroke="#c6b4ee" stroke-opacity="0.7" stroke-width="0.75"/>
<path d="M407.6 93.1L419.4 94.7 432.5 94.4 445.7 92.1 457.5 88.2 469.3 82.4 474.4 79.0 479.1 75.2 482.7 71.4 485.1 67.7 486.5 63.9 486.6 61.3 485.6 57.5 484.0 55.0 478.5 50.4 469.6 46.2 458.8 43.3 445.7 41.8 432.5 41.9 419.4 43.6 407.6 46.7" fill="none" stroke="#c1caf3" stroke-opacity="0.7" stroke-width="0.75"/>
<path d="M407.6 88.1L418.1 90.2 428.6 90.6 440.4 89.1 450.9 86.2 461.6 81.5 470.8 75.2 474.5 71.4 476.3 68.9 477.9 65.1 478.2 62.6 477.8 60.1 476.6 57.5 474.4 55.0 471.1 52.5 462.9 48.7 452.2 46.2 441.7 45.3 429.9 45.7 418.1 47.7 407.6 50.9" fill="none" stroke="#c5dff2" stroke-opacity="0.7" stroke-width="0.75"/>
<path d="M407.6 81.8L415.5 84.5 424.7 85.8 435.1 85.3 444.4 83.4 453.5 80.0 461.4 75.2 466.7 69.9 468.5 66.4 469.0 63.9 468.7 61.3 467.4 58.8 463.2 55.0 456.2 51.9 447.0 49.9 436.5 49.3 426.0 50.3 416.7 52.5 407.6 56.2" fill="none" stroke="#d3eeef" stroke-opacity="0.7" stroke-width="0.75"/>
<path d="M422.0 79.2L429.9 79.9 439.1 78.8 448.3 75.5 454.2 71.4 456.3 68.9 457.5 66.4 457.8 63.9 457.0 61.3 454.9 59.1 452.4 57.5 445.7 55.3 436.5 54.4 426.0 55.6 416.8 58.6 410.8 62.6 409.0 65.1 408.3 67.7 408.6 70.2 409.9 72.7 414.3 76.5 421.0 79.0Z" fill="none" stroke="#e9f8f2" stroke-opacity="0.7" stroke-width="0.75"/>
<path d="M412.9 124.15H678.0M412.9 117.51H678.0M412.9 110.86H678.0M412.9 104.21H678.0M412.9 97.56H678.0M412.9 90.92H678.0M412.9 84.27H678.0M412.9 77.62H678.0M412.9 70.97H678.0M412.9 64.33H678.0M412.9 57.68H678.0M412.9 51.03H678.0M412.9 44.38H678.0M412.9 37.74H678.0M412.9 31.09H678.0M412.9 24.44H678.0M412.9 17.79H678.0M412.9 11.15H678.0" stroke="#000" stroke-opacity="0.22" stroke-width="0.60" fill="none"/>
<path d="M418.31 4.5V130.8M423.72 4.5V130.8M429.13 4.5V130.8M434.54 4.5V130.8M439.95 4.5V130.8M445.36 4.5V130.8M450.77 4.5V130.8M456.18 4.5V130.8M461.59 4.5V130.8M467.00 4.5V130.8M472.41 4.5V130.8M477.82 4.5V130.8M483.23 4.5V130.8M488.64 4.5V130.8M494.05 4.5V130.8M499.46 4.5V130.8M504.87 4.5V130.8M510.28 4.5V130.8M515.69 4.5V130.8M521.10 4.5V130.8M526.51 4.5V130.8M531.92 4.5V130.8M537.33 4.5V130.8M542.74 4.5V130.8M548.16 4.5V130.8M553.57 4.5V130.8M558.98 4.5V130.8M564.39 4.5V130.8M569.80 4.5V130.8M575.21 4.5V130.8M580.62 4.5V130.8M586.03 4.5V130.8M591.44 4.5V130.8M596.85 4.5V130.8M602.26 4.5V130.8M607.67 4.5V130.8M613.08 4.5V130.8M618.49 4.5V130.8M623.90 4.5V130.8M629.31 4.5V130.8M634.72 4.5V130.8M640.13 4.5V130.8M645.54 4.5V130.8M650.95 4.5V130.8M656.36 4.5V130.8M661.77 4.5V130.8M667.18 4.5V130.8M672.59 4.5V130.8" stroke="#000" stroke-opacity="0.22" stroke-width="0.60" fill="none"/>
<path d="M653.8 29.6h.01M437.6 60.3h.01M660.5 90.5h.01M593.5 88.4h.01M433.7 16.6h.01M589.7 97.6h.01M551.1 99.1h.01M544.3 65.2h.01M600.4 38.6h.01M640.5 122.3h.01M584.1 54.0h.01M501.4 88.7h.01M669.8 63.5h.01M522.1 90.1h.01M443.2 92.8h.01M613.0 61.8h.01M609.2 77.5h.01M572.9 94.5h.01M420.0 34.8h.01M601.1 67.7h.01M496.9 51.9h.01M443.2 107.1h.01M475.7 119.1h.01M644.3 45.5h.01M495.3 105.8h.01M607.5 20.2h.01M517.3 129.7h.01M553.0 82.3h.01M669.4 79.1h.01M550.6 41.8h.01M574.3 120.3h.01M482.7 38.9h.01M455.8 27.8h.01M551.6 108.9h.01M640.9 63.1h.01M516.7 19.5h.01M518.0 36.8h.01M447.7 102.0h.01M665.7 41.6h.01M614.8 40.2h.01M596.4 116.2h.01M479.8 32.1h.01M582.7 128.7h.01M469.6 33.4h.01M510.8 127.0h.01M635.9 73.0h.01M554.7 24.0h.01M448.4 69.3h.01M571.9 63.5h.01M581.0 97.7h.01M615.4 49.7h.01M589.0 130.0h.01M574.5 102.2h.01M588.5 48.6h.01M477.6 108.4h.01M632.8 119.6h.01M433.4 36.8h.01M570.6 14.3h.01M528.4 66.9h.01M609.3 31.2h.01M433.6 56.7h.01M644.8 52.5h.01M648.9 113.4h.01M469.5 79.0h.01M676.3 59.9h.01M592.6 31.9h.01M519.9 9.6h.01M628.4 77.0h.01M634.8 107.8h.01M654.1 68.8h.01M552.9 129.9h.01M453.7 114.5h.01M559.7 30.4h.01M421.5 84.0h.01M663.2 20.9h.01M654.4 25.5h.01M601.0 119.9h.01M646.8 64.2h.01M632.5 11.4h.01M562.2 121.3h.01M501.3 18.5h.01M632.6 17.2h.01M499.0 43.5h.01M675.4 31.0h.01M647.8 77.8h.01M673.3 53.8h.01M575.0 6.6h.01M524.4 103.6h.01M643.9 121.1h.01M424.0 70.4h.01M434.4 7.4h.01M651.2 24.7h.01M535.1 102.2h.01M472.4 114.0h.01M471.8 34.0h.01M631.9 79.2h.01M527.9 47.6h.01M503.9 18.9h.01M546.8 30.1h.01M539.3 109.0h.01M421.3 68.4h.01M453.5 122.1h.01M596.0 108.7h.01M659.8 42.4h.01M430.7 32.7h.01M584.8 106.4h.01M531.8 127.3h.01M674.8 6.7h.01M648.1 84.0h.01M616.8 18.1h.01M638.1 14.0h.01M467.6 77.7h.01M646.3 96.5h.01M478.5 78.2h.01M575.1 21.8h.01M602.0 6.5h.01M519.4 128.5h.01M512.2 14.2h.01M621.0 61.5h.01M677.1 116.3h.01M480.7 119.7h.01M431.2 69.4h.01M565.8 106.9h.01M651.3 90.8h.01M635.0 11.4h.01M509.8 64.4h.01M554.7 99.5h.01M527.0 84.8h.01M597.0 111.6h.01M565.5 65.1h.01M582.1 125.6h.01M436.4 126.2h.01M666.1 21.9h.01M532.1 88.8h.01M601.2 112.9h.01M508.6 95.2h.01M504.7 55.7h.01M645.9 50.5h.01M498.8 116.3h.01M524.8 20.4h.01M629.2 78.7h.01M568.2 70.3h.01M610.2 55.9h.01M615.3 79.9h.01M578.4 13.1h.01M464.2 68.4h.01M497.3 123.1h.01M454.0 100.1h.01M543.1 129.9h.01M618.4 90.8h.01M543.4 73.2h.01M426.9 13.0h.01M514.2 22.3h.01M650.8 125.1h.01M428.2 10.9h.01M626.7 128.6h.01M637.0 37.8h.01M670.2 113.0h.01M524.0 111.0h.01M445.8 115.4h.01M536.3 28.8h.01M428.9 107.7h.01M462.7 17.6h.01M449.8 96.9h.01M515.2 9.5h.01M652.3 81.6h.01M650.9 56.2h.01M643.8 92.8h.01M484.2 121.2h.01M450.1 108.8h.01M600.5 56.4h.01M417.3 53.9h.01M421.3 121.2h.01M529.1 18.9h.01M421.4 70.1h.01M508.7 78.7h.01M670.0 72.6h.01M609.7 102.3h.01M584.9 78.0h.01M610.7 123.1h.01M615.6 120.8h.01M633.6 48.8h.01M645.9 62.9h.01M421.5 118.4h.01M524.9 95.4h.01M616.4 118.0h.01M507.5 30.5h.01M663.2 79.5h.01M454.6 15.2h.01M669.3 6.0h.01M565.2 98.3h.01M472.0 23.7h.01M646.8 78.4h.01M640.0 54.9h.01M497.7 114.5h.01M633.9 19.4h.01M623.5 57.2h.01M501.3 9.9h.01M533.5 43.3h.01M525.1 86.9h.01M462.2 61.4h.01M469.1 61.4h.01M455.6 108.5h.01M433.3 81.4h.01M573.9 129.8h.01M548.2 55.4h.01M582.8 105.4h.01M494.1 13.3h.01M453.2 62.3h.01M533.6 101.5h.01M527.1 82.3h.01M576.7 21.2h.01M592.3 40.5h.01M670.0 67.1h.01M637.3 78.1h.01M507.4 67.7h.01M455.2 70.7h.01M495.4 80.7h.01M561.9 95.6h.01M568.8 129.3h.01M417.3 58.7h.01M479.7 66.2h.01M424.7 13.6h.01M416.4 81.6h.01M540.4 92.5h.01M488.0 17.3h.01M666.6 94.5h.01M471.2 37.4h.01M489.2 120.1h.01M449.6 9.5h.01M508.0 106.5h.01M638.2 30.2h.01M448.5 112.1h.01M585.8 113.4h.01M628.9 16.5h.01M668.4 7.7h.01M510.6 125.8h.01M656.8 102.2h.01M495.6 7.8h.01M496.3 112.7h.01M534.2 115.2h.01M525.2 42.8h.01M519.1 128.6h.01M468.5 60.2h.01M476.1 85.5h.01M465.5 130.3h.01M576.1 117.9h.01M448.7 78.2h.01M588.6 110.4h.01M626.7 76.4h.01M448.7 24.1h.01M427.8 118.3h.01M461.7 34.4h.01M586.9 55.6h.01M625.0 57.2h.01M627.4 111.1h.01M445.4 117.5h.01M598.9 118.2h.01M435.2 46.0h.01M480.9 49.4h.01M661.8 61.0h.01M614.8 9.6h.01M670.1 26.9h.01M621.4 35.6h.01M668.1 100.9h.01M658.1 44.9h.01M526.8 50.1h.01M507.2 77.9h.01M547.5 129.0h.01M546.5 70.3h.01M547.1 50.4h.01M549.9 25.6h.01M547.1 101.6h.01M594.1 126.2h.01M635.8 40.7h.01M575.4 67.7h.01M517.5 107.3h.01M608.5 83.5h.01M448.4 68.0h.01M499.0 103.3h.01M465.3 75.9h.01M607.1 6.9h.01M417.1 20.6h.01M542.8 26.0h.01M462.0 58.7h.01M480.3 36.6h.01M585.8 64.7h.01M612.1 44.1h.01M437.2 71.7h.01M542.5 61.7h.01M637.9 74.6h.01M571.3 71.6h.01M554.1 58.3h.01M623.6 62.4h.01M596.5 73.5h.01M479.5 64.3h.01M424.9 70.9h.01M659.6 61.9h.01M599.8 59.8h.01M665.4 52.0h.01M498.0 63.4h.01M583.7 63.6h.01M564.6 66.6h.01M596.1 68.5h.01M616.0 60.1h.01M587.7 64.7h.01M487.6 61.3h.01M537.4 59.9h.01M449.7 78.4h.01M652.6 56.5h.01M470.1 60.1h.01M549.5 59.7h.01M428.5 73.7h.01M428.0 76.4h.01M506.1 66.4h.01M662.4 62.6h.01M569.4 53.5h.01M489.0 76.3h.01M438.2 80.4h.01M417.6 71.5h.01M474.2 67.5h.01M660.9 55.0h.01M613.1 48.8h.01M640.4 64.0h.01M615.4 72.9h.01M470.3 66.2h.01M428.6 63.8h.01M516.0 67.8h.01M604.3 62.1h.01M416.2 68.5h.01M653.0 66.7h.01M545.6 69.1h.01M610.8 71.7h.01M639.9 71.6h.01M588.5 61.4h.01M423.6 63.9h.01M625.6 49.0h.01M452.7 69.8h.01M524.6 72.9h.01M607.0 59.7h.01M643.1 64.2h.01M493.4 62.6h.01M501.1 63.1h.01M427.6 81.0h.01M554.2 60.0h.01M577.9 62.7h.01M483.5 69.9h.01M636.6 49.7h.01M606.5 52.5h.01M460.4 56.5h.01M595.1 70.0h.01M537.4 69.5h.01M657.9 54.1h.01M644.7 68.0h.01M622.8 66.0h.01M555.7 52.9h.01M621.9 54.8h.01M479.2 64.5h.01M547.1 63.7h.01M600.3 65.1h.01M546.3 67.6h.01M643.4 63.6h.01M577.0 55.4h.01M576.2 64.6h.01M557.9 61.0h.01M640.4 63.2h.01M477.0 81.7h.01M544.2 61.7h.01M533.3 74.0h.01M610.7 55.2h.01M431.0 78.9h.01M416.1 67.9h.01M633.0 60.3h.01M646.4 68.0h.01M523.0 60.3h.01M531.5 74.9h.01M549.2 67.9h.01M598.7 67.6h.01M494.8 69.3h.01M596.6 66.7h.01M539.5 61.8h.01M483.2 62.9h.01M448.1 79.3h.01M624.6 68.7h.01M472.1 70.1h.01M576.2 67.4h.01M448.6 66.5h.01M647.8 72.4h.01M495.1 62.3h.01M536.8 60.7h.01M633.6 62.0h.01M640.9 69.3h.01M480.7 67.3h.01M499.4 70.1h.01M609.7 58.5h.01M563.3 64.8h.01M639.6 56.0h.01M666.6 50.5h.01M441.7 75.1h.01M575.8 60.6h.01M651.5 69.6h.01M483.4 66.7h.01M647.4 66.0h.01M539.7 68.1h.01M490.1 65.9h.01M597.8 49.0h.01M655.9 59.9h.01M491.1 73.1h.01M463.6 62.1h.01M627.7 53.5h.01M627.2 49.9h.01M560.3 70.3h.01M548.3 58.3h.01M491.9 59.8h.01M655.3 58.4h.01M455.0 87.2h.01M418.0 73.3h.01M423.4 58.1h.01M575.1 75.0h.01M456.7 71.6h.01M441.5 66.9h.01M474.8 57.3h.01M656.1 71.1h.01M538.5 59.9h.01M587.0 71.4h.01M462.4 56.1h.01M652.1 56.6h.01M525.7 82.3h.01M537.8 62.9h.01M501.8 68.6h.01M550.1 45.4h.01M434.7 70.3h.01M563.2 70.4h.01M624.7 59.8h.01M538.3 67.4h.01M486.0 69.1h.01M443.8 69.2h.01M463.6 63.1h.01M446.7 76.1h.01M637.3 57.8h.01M662.1 62.7h.01M507.1 59.2h.01M583.9 58.4h.01M432.9 75.3h.01M613.3 59.9h.01M629.4 48.6h.01M640.2 50.8h.01M542.2 65.6h.01M574.8 72.9h.01M619.1 58.1h.01M454.7 66.7h.01M604.1 62.5h.01M460.2 71.3h.01M557.8 59.3h.01M420.4 64.3h.01M652.1 71.2h.01M498.2 57.6h.01M421.1 58.3h.01M479.6 68.1h.01M620.9 59.2h.01M627.6 56.3h.01M612.0 71.3h.01M644.4 56.9h.01M645.6 57.3h.01M631.9 58.2h.01M655.6 69.4h.01M590.6 53.6h.01M449.8 67.6h.01M559.0 71.8h.01M645.7 51.9h.01M481.3 60.1h.01M669.6 63.6h.01M543.1 71.5h.01M658.6 52.4h.01M569.7 78.3h.01M438.5 62.5h.01M618.9 62.0h.01M479.5 67.5h.01M497.1 64.7h.01M463.7 75.0h.01M640.2 63.4h.01M461.4 75.8h.01M514.8 56.3h.01M600.5 70.9h.01M434.0 73.8h.01M642.2 62.5h.01M433.1 69.0h.01M544.9 60.1h.01M476.3 62.4h.01M439.1 70.7h.01M548.5 67.4h.01M606.2 62.0h.01M628.0 56.0h.01M450.0 64.0h.01M532.3 68.8h.01M596.6 56.7h.01M511.0 64.7h.01M650.9 57.9h.01M558.8 67.8h.01M414.1 78.0h.01M558.3 65.9h.01M465.0 71.9h.01M606.7 71.4h.01M592.7 64.8h.01M632.5 60.8h.01M482.1 80.4h.01M625.1 62.6h.01M658.5 60.6h.01M592.3 70.6h.01M609.6 73.0h.01M451.8 73.5h.01M500.7 63.6h.01M445.5 71.2h.01M415.2 67.2h.01M417.2 70.6h.01M650.5 62.2h.01M433.9 64.8h.01M448.0 71.4h.01M651.5 54.6h.01M524.8 58.5h.01M452.3 63.6h.01M663.0 53.1h.01M629.0 56.3h.01M495.5 61.3h.01M634.2 58.3h.01M463.0 67.6h.01M463.1 67.9h.01M619.4 63.9h.01M645.5 60.6h.01M422.3 67.9h.01M486.7 74.3h.01M522.5 64.1h.01M656.9 70.0h.01M463.1 67.1h.01M607.7 54.9h.01M501.1 56.1h.01M531.4 63.3h.01M530.2 69.2h.01M456.2 75.6h.01M653.1 65.0h.01M624.6 61.1h.01M439.4 68.3h.01M584.3 63.3h.01M534.1 67.6h.01M424.8 68.7h.01M583.7 67.9h.01M509.4 77.6h.01M449.6 67.7h.01M661.8 58.7h.01M501.6 64.3h.01M459.3 74.3h.01M440.7 59.7h.01M491.9 71.8h.01M497.7 61.7h.01M524.5 65.2h.01M572.3 69.9h.01M433.1 62.5h.01M451.7 68.3h.01M451.4 67.3h.01M448.7 65.6h.01M551.8 65.0h.01M658.6 56.9h.01M414.3 74.1h.01M522.9 65.5h.01M602.7 66.6h.01M508.9 70.6h.01M571.0 67.0h.01M565.8 64.1h.01M660.5 70.4h.01M565.6 63.4h.01M617.4 75.7h.01M534.2 68.7h.01M626.2 75.5h.01M665.5 71.3h.01M668.9 58.5h.01M431.4 68.6h.01M573.1 64.5h.01M613.6 67.0h.01M507.4 52.8h.01M669.7 64.9h.01M497.1 56.2h.01M556.9 60.7h.01M413.6 74.2h.01M650.2 52.6h.01M644.3 58.9h.01M623.9 67.9h.01M537.1 64.4h.01M452.4 74.7h.01M659.2 53.8h.01M480.1 69.7h.01M551.0 64.6h.01M422.4 65.3h.01M588.7 62.3h.01M504.1 76.2h.01M669.2 55.5h.01M612.6 56.0h.01M635.0 55.4h.01M445.1 58.4h.01M603.4 57.5h.01M628.8 51.1h.01M588.2 64.9h.01M512.9 55.3h.01M487.3 56.2h.01M541.4 60.3h.01M433.5 57.4h.01M516.3 60.8h.01M548.6 70.5h.01M502.6 59.4h.01M458.6 66.1h.01M599.7 59.9h.01M671.3 58.4h.01M591.7 54.3h.01M611.7 58.5h.01M591.5 67.3h.01M447.2 65.5h.01M495.6 62.2h.01M416.9 73.0h.01M588.9 66.9h.01M583.6 61.1h.01M442.0 62.3h.01M523.0 54.0h.01M614.3 54.3h.01M430.8 62.7h.01M632.2 53.8h.01M449.7 60.0h.01M630.3 63.5h.01M668.3 55.1h.01M514.9 64.1h.01M598.5 65.5h.01M649.0 63.4h.01M630.8 57.8h.01M597.3 62.8h.01M597.5 62.0h.01M517.1 64.0h.01M628.2 56.6h.01M442.2 72.4h.01M613.2 62.6h.01M623.9 71.5h.01M561.6 78.4h.01M448.7 80.7h.01M422.8 80.9h.01M429.4 66.2h.01M443.3 71.6h.01M553.3 54.5h.01M580.3 51.8h.01M525.5 59.8h.01M436.1 65.0h.01M594.8 67.4h.01M450.5 65.1h.01M424.8 72.1h.01M513.6 74.4h.01M432.4 77.1h.01M593.7 48.2h.01M598.3 66.0h.01M470.7 67.8h.01M415.0 75.3h.01M652.3 59.1h.01M640.1 62.1h.01M569.5 66.5h.01M415.8 78.4h.01M589.7 71.9h.01M459.7 72.7h.01M550.7 62.9h.01M529.1 52.5h.01M571.2 57.2h.01M670.7 56.3h.01M511.3 66.8h.01M656.1 68.2h.01M566.3 64.0h.01M542.3 78.7h.01M453.6 57.9h.01M609.1 59.9h.01M496.8 59.6h.01M514.4 68.5h.01M506.1 75.1h.01M421.3 72.3h.01M615.1 49.2h.01M474.6 72.1h.01M528.1 67.9h.01M596.6 63.5h.01M670.9 61.5h.01M651.4 67.8h.01M498.8 64.3h.01M531.2 73.1h.01M418.4 80.4h.01M509.7 72.6h.01M548.9 66.5h.01M432.3 71.7h.01M503.8 73.1h.01M443.6 79.6h.01M438.1 57.7h.01M553.0 63.0h.01M532.2 63.7h.01M588.2 59.4h.01M659.0 59.5h.01M537.4 57.7h.01M591.4 59.6h.01M603.0 60.2h.01M443.2 66.7h.01M477.3 59.9h.01M542.4 78.1h.01M433.6 69.6h.01M431.6 70.8h.01M473.5 79.9h.01M521.0 61.2h.01M524.2 71.0h.01M565.0 65.4h.01M535.1 68.5h.01M451.5 71.0h.01M640.0 72.0h.01M536.0 71.2h.01M629.0 62.9h.01M477.9 67.3h.01M493.1 66.4h.01M552.3 65.5h.01M476.3 64.6h.01M470.4 71.4h.01M584.4 64.2h.01M585.7 68.4h.01M507.5 66.0h.01M451.3 70.3h.01M529.1 66.9h.01M446.1 65.3h.01M420.7 62.2h.01M555.7 84.1h.01M579.2 61.2h.01M481.8 60.4h.01M580.1 50.8h.01M553.1 75.4h.01M465.4 71.6h.01M468.7 60.9h.01M628.2 53.4h.01M608.6 68.5h.01M615.2 45.7h.01M630.4 68.2h.01M634.3 61.2h.01M611.3 70.9h.01M566.7 55.6h.01M642.9 57.4h.01M429.3 68.4h.01M642.9 60.7h.01M421.5 68.1h.01M557.9 76.2h.01M448.8 62.0h.01M517.8 60.1h.01M610.3 61.9h.01M523.4 63.7h.01M454.2 58.1h.01M668.6 56.5h.01M608.9 61.6h.01M521.3 68.9h.01M623.2 70.7h.01M611.8 65.5h.01M565.9 63.4h.01M630.2 62.4h.01M535.1 60.5h.01M588.1 60.1h.01M662.2 55.3h.01M632.5 59.5h.01M493.9 66.8h.01M533.1 62.3h.01M509.8 77.0h.01M513.8 58.0h.01M480.1 75.2h.01M455.7 62.7h.01M429.9 68.8h.01M517.9 58.8h.01M618.2 60.8h.01M466.4 61.2h.01M423.8 63.9h.01M443.2 66.9h.01M622.0 70.9h.01M572.9 62.8h.01M438.9 57.2h.01M427.9 66.5h.01M608.0 62.4h.01M597.7 54.7h.01M472.1 68.0h.01M478.6 67.3h.01M530.8 64.3h.01M561.0 73.5h.01M602.3 56.0h.01M570.6 60.9h.01M541.4 66.7h.01M618.4 68.5h.01M542.1 63.5h.01M636.7 51.6h.01M417.3 73.7h.01M473.8 74.0h.01M503.3 76.3h.01M577.2 66.1h.01M649.2 61.6h.01M612.4 65.1h.01M461.1 65.6h.01M538.6 66.4h.01M435.9 71.5h.01M589.8 58.7h.01M672.7 53.0h.01M594.9 58.0h.01M509.0 86.9h.01M522.0 71.9h.01M658.1 58.2h.01M580.7 54.1h.01M551.5 63.4h.01M503.8 68.4h.01M507.9 70.8h.01M452.1 64.8h.01M453.0 70.8h.01M440.0 77.3h.01M567.3 64.4h.01M523.7 72.3h.01M631.4 52.7h.01M602.0 68.9h.01M480.8 55.9h.01M499.0 72.3h.01M610.4 60.8h.01M668.6 51.6h.01M503.9 67.4h.01M523.8 73.0h.01M598.5 61.5h.01M558.3 73.5h.01M434.5 68.5h.01M595.2 63.1h.01M449.0 61.5h.01M553.0 60.6h.01M521.9 71.8h.01M496.9 56.5h.01M653.8 67.8h.01M630.1 56.5h.01M570.5 62.3h.01M594.5 54.8h.01M578.5 60.9h.01M616.9 54.6h.01M526.0 63.2h.01M659.1 45.8h.01M462.5 71.9h.01M588.6 55.1h.01M426.0 67.7h.01M505.3 69.6h.01M515.0 75.0h.01M436.6 77.1h.01M472.4 77.0h.01M497.4 57.3h.01M667.4 60.8h.01M569.6 61.9h.01M431.6 68.1h.01M590.3 59.9h.01M424.2 70.6h.01M444.0 70.5h.01M595.1 63.1h.01M543.3 58.1h.01M452.4 60.7h.01M569.4 55.5h.01M599.5 59.8h.01M454.3 69.1h.01M467.9 77.9h.01M483.9 69.3h.01M422.3 63.8h.01M624.3 52.7h.01M671.1 58.3h.01M624.6 58.9h.01M431.3 79.6h.01M462.0 70.5h.01M661.9 61.8h.01M527.8 70.7h.01M547.8 67.3h.01M564.2 69.8h.01M517.3 65.2h.01M495.2 60.2h.01M618.4 60.1h.01M507.2 64.4h.01M491.0 65.8h.01M653.5 58.8h.01M614.5 51.6h.01M519.4 81.2h.01M630.4 61.7h.01M504.3 64.1h.01M512.0 72.7h.01M520.9 68.3h.01M426.0 80.8h.01M545.9 66.9h.01M616.1 68.9h.01M581.5 58.8h.01M578.5 68.4h.01M586.4 51.4h.01M531.4 64.2h.01M489.3 71.7h.01M440.1 71.5h.01M492.7 64.0h.01M654.4 50.1h.01M566.8 65.0h.01M672.3 64.8h.01M606.8 47.2h.01M568.2 72.4h.01M510.3 58.1h.01M553.7 76.1h.01M463.7 76.5h.01M505.8 72.2h.01M560.3 57.8h.01M617.2 63.9h.01M641.8 55.6h.01M558.8 63.3h.01M620.9 59.6h.01M641.4 62.1h.01M536.2 54.4h.01M424.9 71.0h.01M494.5 71.5h.01M490.8 62.5h.01M555.3 61.3h.01M632.2 59.1h.01M544.6 73.2h.01M672.4 64.1h.01M536.2 67.4h.01M557.4 51.9h.01M417.9 76.2h.01M613.4 67.2h.01M607.5 60.9h.01M473.2 67.2h.01M430.3 62.6h.01M446.3 67.1h.01M475.6 66.3h.01M579.5 61.0h.01M492.7 67.3h.01M573.9 58.4h.01M635.9 55.4h.01M628.1 64.2h.01M541.3 76.0h.01M467.6 72.5h.01M558.8 62.3h.01M597.4 78.0h.01M521.8 68.5h.01M425.4 66.1h.01M672.2 62.5h.01M633.8 67.6h.01M439.3 59.7h.01M506.5 57.7h.01M617.8 53.1h.01M584.0 70.0h.01M579.0 46.2h.01M584.5 64.6h.01M441.1 75.3h.01M500.4 65.8h.01M496.2 74.8h.01M601.1 62.2h.01M636.3 53.6h.01M413.5 70.3h.01M466.6 69.2h.01M516.2 71.5h.01M501.1 60.2h.01M551.4 66.4h.01M522.6 64.2h.01M533.6 65.0h.01M514.9 65.0h.01M626.9 61.3h.01M455.3 72.9h.01M519.1 62.9h.01M524.3 66.2h.01M543.2 72.2h.01M660.2 63.9h.01M503.9 70.6h.01M658.7 59.9h.01M480.3 66.0h.01M633.6 60.1h.01M499.2 70.6h.01M653.0 59.6h.01M556.2 73.0h.01M615.3 79.7h.01M616.2 61.8h.01M564.1 74.4h.01M517.4 71.8h.01M453.7 64.1h.01M583.7 70.7h.01M588.7 61.1h.01M458.3 71.0h.01M505.2 74.1h.01M435.7 78.7h.01M566.9 61.0h.01M482.6 64.7h.01M631.4 49.3h.01M622.8 59.6h.01M665.4 58.8h.01M445.9 70.7h.01M537.2 70.9h.01M598.0 49.9h.01M470.9 79.4h.01M541.8 64.2h.01M520.4 72.0h.01M569.3 66.8h.01M515.0 72.9h.01M486.0 67.4h.01M636.9 63.3h.01M438.2 72.3h.01M649.3 55.8h.01M646.9 66.9h.01M539.4 69.2h.01M433.4 66.3h.01M598.8 62.1h.01M468.8 66.3h.01M418.4 74.4h.01M498.4 62.1h.01M622.8 54.6h.01M628.6 64.3h.01M518.9 65.5h.01M639.3 70.9h.01M529.9 79.7h.01M562.4 69.8h.01M467.6 72.1h.01M583.2 74.6h.01M451.0 65.1h.01M454.8 73.4h.01M489.8 77.7h.01M598.1 61.6h.01M561.0 66.5h.01M484.6 63.1h.01M590.4 67.9h.01M456.7 58.3h.01M666.1 69.4h.01M547.2 73.4h.01M434.4 73.9h.01M549.0 56.2h.01M573.8 68.5h.01M638.4 59.3h.01M587.2 59.7h.01M508.0 52.7h.01M603.0 57.2h.01M520.7 68.2h.01M492.5 70.1h.01M589.6 67.3h.01M594.3 70.1h.01M413.7 73.6h.01M416.6 69.4h.01M422.0 69.7h.01M420.8 73.1h.01M418.9 70.2h.01M414.8 68.2h.01M413.6 70.1h.01M419.3 76.5h.01M416.0 69.3h.01M417.2 70.8h.01M418.8 67.4h.01M415.7 66.2h.01M417.0 71.1h.01M414.0 74.3h.01M414.0 70.7h.01M417.9 70.1h.01M415.2 69.6h.01M419.3 68.3h.01M417.2 69.7h.01M417.0 69.1h.01M418.2 73.3h.01" stroke="#000" stroke-opacity="0.3" stroke-width="1.15" stroke-linecap="round" fill="none"/>
</g>
<rect x="412.9" y="4.5" width="265.1" height="126.3" fill="none" stroke="#333" stroke-width="1.4"/>
<path d="M439.4 130.8v2.5M492.4 130.8v2.5M545.5 130.8v2.5M598.5 130.8v2.5M651.5 130.8v2.5M412.9 130.8h-2.5M412.9 99.2h-2.5M412.9 67.7h-2.5M412.9 36.1h-2.5M412.9 4.5h-2.5" stroke="#444" stroke-width="0.8" fill="none"/>
<path d="M418.2 130.8v1.5M418.2 4.5v-1.5M428.8 130.8v1.5M428.8 4.5v-1.5M439.4 130.8v1.5M439.4 4.5v-1.5M450.0 130.8v1.5M450.0 4.5v-1.5M460.6 130.8v1.5M460.6 4.5v-1.5M471.2 130.8v1.5M471.2 4.5v-1.5M481.8 130.8v1.5M481.8 4.5v-1.5M492.4 130.8v1.5M492.4 4.5v-1.5M503.0 130.8v1.5M503.0 4.5v-1.5M513.6 130.8v1.5M513.6 4.5v-1.5M524.2 130.8v1.5M524.2 4.5v-1.5M534.8 130.8v1.5M534.8 4.5v-1.5M545.5 130.8v1.5M545.5 4.5v-1.5M556.1 130.8v1.5M556.1 4.5v-1.5M566.7 130.8v1.5M566.7 4.5v-1.5M577.3 130.8v1.5M577.3 4.5v-1.5M587.9 130.8v1.5M587.9 4.5v-1.5M598.5 130.8v1.5M598.5 4.5v-1.5M609.1 130.8v1.5M609.1 4.5v-1.5M619.7 130.8v1.5M619.7 4.5v-1.5M630.3 130.8v1.5M630.3 4.5v-1.5M640.9 130.8v1.5M640.9 4.5v-1.5M651.5 130.8v1.5M651.5 4.5v-1.5M662.1 130.8v1.5M662.1 4.5v-1.5M672.7 130.8v1.5M672.7 4.5v-1.5M412.9 124.5h-1.5M678.0 124.5h1.5M412.9 118.2h-1.5M678.0 118.2h1.5M412.9 111.9h-1.5M678.0 111.9h1.5M412.9 105.5h-1.5M678.0 105.5h1.5M412.9 99.2h-1.5M678.0 99.2h1.5M412.9 92.9h-1.5M678.0 92.9h1.5M412.9 86.6h-1.5M678.0 86.6h1.5M412.9 80.3h-1.5M678.0 80.3h1.5M412.9 74.0h-1.5M678.0 74.0h1.5M412.9 67.6h-1.5M678.0 67.6h1.5M412.9 61.3h-1.5M678.0 61.3h1.5M412.9 55.0h-1.5M678.0 55.0h1.5M412.9 48.7h-1.5M678.0 48.7h1.5M412.9 42.4h-1.5M678.0 42.4h1.5M412.9 36.1h-1.5M678.0 36.1h1.5M412.9 29.8h-1.5M678.0 29.8h1.5M412.9 23.4h-1.5M678.0 23.4h1.5M412.9 17.1h-1.5M678.0 17.1h1.5M412.9 10.8h-1.5M678.0 10.8h1.5" stroke="#777" stroke-width="0.6" fill="none"/>
<text x="439.4" y="144.6" text-anchor="middle" font-size="11">33</text>
<text x="492.4" y="144.6" text-anchor="middle" font-size="11">34</text>
<text x="545.5" y="144.6" text-anchor="middle" font-size="11">35</text>
<text x="598.5" y="144.6" text-anchor="middle" font-size="11">36</text>
<text x="651.5" y="144.6" text-anchor="middle" font-size="11">37</text>
<text x="407.7" y="134.7" text-anchor="end" font-size="11">34.0</text>
<text x="407.7" y="103.1" text-anchor="end" font-size="11">34.5</text>
<text x="407.7" y="71.6" text-anchor="end" font-size="11">35.0</text>
<text x="407.7" y="40.0" text-anchor="end" font-size="11">35.5</text>
<text x="407.7" y="8.4" text-anchor="end" font-size="11">36.0</text>
<text x="545.5" y="157.5" text-anchor="middle" font-size="12">x (kpc)</text>
<text transform="translate(379.4 67.7) rotate(-90)" text-anchor="middle" font-size="11.7">y (kpc)</text>
<defs><linearGradient id="g2" x1="0" y1="0" x2="0" y2="1"><stop offset="0.000" stop-color="#ffffff"/><stop offset="0.031" stop-color="#f2fbf6"/><stop offset="0.062" stop-color="#e3f6f0"/><stop offset="0.094" stop-color="#d6f0ef"/><stop offset="0.125" stop-color="#cbe8f0"/><stop offset="0.156" stop-color="#c4ddf2"/><stop offset="0.188" stop-color="#c1d1f3"/><stop offset="0.219" stop-color="#c2c3f2"/><stop offset="0.250" stop-color="#c6b4ee"/><stop offset="0.281" stop-color="#cca6e4"/><stop offset="0.312" stop-color="#d198d4"/><stop offset="0.344" stop-color="#d48dc1"/><stop offset="0.375" stop-color="#d484a9"/><stop offset="0.406" stop-color="#cf7e8f"/><stop offset="0.438" stop-color="#c57a76"/><stop offset="0.469" stop-color="#b5795e"/><stop offset="0.500" stop-color="#a1794a"/><stop offset="0.531" stop-color="#8a7a3b"/><stop offset="0.562" stop-color="#727b32"/><stop offset="0.594" stop-color="#5a7a2f"/><stop offset="0.625" stop-color="#447731"/><stop offset="0.656" stop-color="#317236"/><stop offset="0.688" stop-color="#236a3e"/><stop offset="0.719" stop-color="#1a6046"/><stop offset="0.750" stop-color="#16534c"/><stop offset="0.781" stop-color="#15464e"/><stop offset="0.812" stop-color="#17374d"/><stop offset="0.844" stop-color="#192a46"/><stop offset="0.875" stop-color="#1b1e3b"/><stop offset="0.906" stop-color="#19132d"/><stop offset="0.938" stop-color="#150b1d"/><stop offset="0.969" stop-color="#0c050e"/><stop offset="1.000" stop-color="#000000"/></linearGradient></defs>
<rect x="682.6" y="14.1" width="7.6" height="107.5" fill="url(#g2)" stroke="#333" stroke-width="1"/>
<path d="M690.2 121.6h2.5M690.2 100.1h2.5M690.2 78.6h2.5M690.2 57.1h2.5M690.2 35.6h2.5M690.2 14.1h2.5" stroke="#444" stroke-width="0.8"/>
<text x="694.7" y="125.5" font-size="11">0.0</text>
<text x="694.7" y="104.0" font-size="11">0.2</text>
<text x="694.7" y="82.5" font-size="11">0.4</text>
<text x="694.7" y="61.0" font-size="11">0.6</text>
<text x="694.7" y="39.5" font-size="11">0.8</text>
<text x="694.7" y="18.0" font-size="11">1.0</text>
<text transform="translate(722.0 68.1) rotate(-90)" text-anchor="middle" font-size="11.6">Normalized Density</text>
<g clip-path="url(#c3)">
<rect x="91.3" y="176.6" width="265.7" height="126.8" fill="#fffeee"/>
<path d="M192.8 309.7L256.1 309.7 256.7 301.2 259.1 291.7 259.8 278.7 259.3 263.1 256.4 249.2 254.7 246.0 252.5 243.5 246.8 239.4 235.8 234.8 224.1 231.7 212.5 234.8 201.5 239.4 195.8 243.5 193.6 246.0 191.9 249.2 190.9 252.7 189.0 263.1 188.5 278.4 189.3 291.7 191.7 301.2 192.4 309.7ZM219.9 225.5L221.5 225.7 226.3 223.8 230.5 223.2 237.8 218.4 242.1 215.0 255.9 200.4 281.8 170.3 138.6 170.3 195.9 211.8 213.0 222.3 219.7 225.4Z" fill="#fffde8" fill-rule="evenodd"/>
<path d="M196.0 309.7L252.9 309.7 253.4 301.2 255.7 291.7 256.2 287.5 257.1 273.6 256.9 263.1 253.8 248.9 252.3 246.0 250.4 243.5 244.5 239.0 234.8 234.7 225.7 231.9 224.1 231.9 222.6 231.9 213.5 234.7 203.8 239.0 197.9 243.5 196.0 246.0 194.5 248.9 191.5 263.1 191.3 273.6 192.2 287.2 192.7 291.7 195.0 301.2 195.5 309.7ZM220.4 225.6L222.6 225.3 228.3 222.2 236.4 216.8 240.8 213.1 252.6 200.7 252.8 198.9 276.0 170.3 144.5 170.3 209.5 219.4 215.2 223.2 220.0 225.4Z" fill="#fffce2" fill-rule="evenodd"/>
<path d="M197.6 309.7L250.8 309.7 251.3 301.2 253.5 291.7 254.3 286.3 255.3 272.7 255.2 263.1 252.4 249.8 251.1 246.7 249.4 244.1 244.8 240.0 237.0 235.9 225.7 232.0 222.6 232.0 217.8 233.5 210.9 236.1 205.5 238.7 202.2 241.0 199.4 243.5 196.2 248.9 193.1 262.8 193.0 271.7 194.0 285.6 194.9 291.7 197.1 301.2 197.5 309.7ZM220.4 225.5L221.5 225.5 224.7 224.1 231.4 219.7 238.7 213.4 246.3 205.8 250.8 200.4 250.3 198.2 271.4 170.3 237.7 170.3 227.8 193.7 221.0 194.4 215.1 194.0 202.6 191.8 182.7 170.3 149.0 170.3 200.2 210.6 210.6 219.7 215.6 223.2 220.2 225.4Z" fill="#fffbdc" fill-rule="evenodd"/>
<path d="M199.7 309.7L249.1 309.7 249.6 301.2 251.9 291.7 253.0 284.4 254.0 271.1 253.8 261.9 251.0 249.5 248.2 244.1 243.4 239.7 235.6 235.6 225.7 232.1 222.6 232.1 217.8 233.6 211.2 236.2 206.4 238.7 203.2 241.0 200.6 243.5 198.8 246.0 197.4 249.2 194.6 261.6 194.3 270.7 195.4 284.1 196.5 291.7 198.8 301.2 199.2 309.7ZM220.4 225.5L221.5 225.5 224.5 224.1 230.8 219.7 238.2 213.1 245.8 204.8 249.1 200.4 248.2 196.9 267.0 170.3 245.2 170.3 233.9 193.4 227.3 194.9 221.0 195.3 215.1 195.0 204.5 193.1 202.4 193.2 201.3 193.9 200.8 191.3 197.6 192.8 175.2 170.3 153.4 170.3 197.6 206.5 204.7 214.0 211.1 219.7 216.4 223.5 220.3 225.4Z" fill="#fff8d6" fill-rule="evenodd"/>
<path d="M200.8 309.5L206.5 309.7 206.6 298.7 207.7 301.2 209.2 309.7 239.3 309.7 240.8 301.2 241.7 299.1 241.8 309.7 247.6 309.7 248.1 301.2 250.5 291.7 252.1 280.9 252.9 271.4 252.9 263.1 250.0 249.8 247.9 245.1 245.6 242.2 243.0 240.0 235.2 235.6 227.3 232.6 221.0 232.6 210.5 236.8 203.7 241.3 200.8 244.4 198.9 248.2 195.4 263.1 195.5 271.7 196.2 280.6 197.9 291.7 200.3 301.2 200.8 309.4ZM221.0 225.4L225.3 223.5 231.9 218.4 239.2 211.2 245.6 203.5 247.7 200.4 245.4 195.0 262.0 170.3 251.4 170.3 238.9 193.7 226.8 195.7 221.0 196.1 215.1 195.8 205.0 194.0 202.5 194.4 201.3 195.4 200.8 192.2 197.9 194.0 196.0 196.1 195.6 195.9 169.0 170.3 158.4 170.3 194.4 200.8 201.6 209.9 210.1 218.4 216.1 223.2 220.7 225.4Z" fill="#fff6d0" fill-rule="evenodd"/>
<path d="M202.4 309.7L206.4 309.7 206.5 296.7 206.0 296.4 206.1 291.7 210.2 301.2 211.9 309.7 236.6 309.7 238.3 301.2 242.2 292.2 242.3 296.4 241.8 296.7 241.9 309.7 246.1 309.7 246.6 301.2 250.0 287.2 251.9 270.4 251.7 260.9 248.9 249.5 246.2 243.8 241.0 239.0 236.1 236.2 230.5 233.8 227.3 232.7 224.1 232.5 221.0 232.7 217.8 233.8 211.6 236.5 207.3 239.0 202.1 243.8 199.4 249.5 196.6 260.9 196.4 270.4 198.3 287.2 201.7 301.2 202.3 309.7ZM219.9 225.1L221.5 225.3 223.6 224.5 230.4 219.4 238.2 211.5 245.2 202.6 246.6 200.4 245.8 197.8 244.1 195.3 241.2 193.0 240.6 196.8 239.6 195.4 237.4 194.8 226.3 196.5 221.0 196.8 215.1 196.5 205.0 194.9 202.4 195.6 201.3 197.0 200.8 193.1 198.5 194.7 196.9 196.6 195.4 200.4 200.0 207.0 205.8 213.7 211.2 219.1 215.8 222.9 219.8 225.1Z" fill="#fff3c9" fill-rule="evenodd"/>
<path d="M204.0 309.7L206.2 309.7 206.4 296.7 205.9 296.4 206.0 288.2 205.5 287.9 205.6 285.0 209.0 293.9 212.7 301.2 214.7 309.7 233.8 309.7 235.8 301.2 239.3 294.2 242.7 285.4 242.8 287.9 242.2 288.2 242.4 296.4 241.9 296.7 242.1 309.7 244.4 309.7 245.1 301.2 248.0 291.7 249.9 281.2 251.0 271.7 251.2 263.1 248.2 249.8 246.1 244.8 244.2 242.2 241.4 239.7 234.4 235.6 227.9 232.9 220.4 232.9 211.4 236.8 204.8 241.6 202.2 244.8 200.6 248.2 197.7 259.7 197.2 264.1 197.4 272.3 198.5 281.5 200.4 291.7 203.3 301.2 203.9 309.4ZM219.3 233.7L219.4 233.5 219.5 233.7 219.4 233.7ZM228.8 233.7L228.9 233.5 229.0 233.7 228.9 233.7ZM220.4 225.3L221.5 225.3 224.0 224.1 229.7 219.7 237.3 211.8 243.7 203.5 245.5 200.4 245.4 199.7 243.8 196.3 241.2 193.8 240.6 198.9 239.4 196.6 236.9 195.6 221.0 197.5 205.0 195.7 202.4 196.9 201.3 199.3 200.8 193.9 198.0 196.6 196.4 200.4 201.0 207.3 211.5 219.1 216.4 223.2 219.9 225.1Z" fill="#feefc2" fill-rule="evenodd"/>
<path d="M206.1 309.7L206.3 296.7 205.7 296.4 205.6 280.1 209.1 289.8 215.2 301.2 217.6 309.7 230.9 309.7 233.3 301.2 239.3 289.8 242.7 280.6 242.9 287.9 242.4 288.2 242.6 296.4 242.0 296.7 242.4 309.7 243.4 301.2 246.8 291.7 249.1 280.3 250.3 268.2 250.0 260.0 246.9 247.9 244.1 242.9 238.6 238.1 229.5 233.5 228.9 233.8 228.9 233.3 227.9 232.9 220.4 232.9 219.4 233.3 219.7 233.7 218.8 233.5 217.0 234.3 210.7 237.5 204.7 242.2 202.5 245.4 201.0 249.2 198.3 260.0 198.0 265.7 198.5 274.6 199.9 284.1 201.8 292.4 205.0 301.2 206.0 309.4ZM205.0 279.6L205.0 278.1 205.4 279.6 205.0 279.6ZM243.0 279.6L243.3 278.7 243.3 279.6ZM218.7 234.0L218.8 233.9 219.0 234.0 218.8 234.0ZM229.4 234.0L229.5 233.9 229.6 234.0 229.5 234.0ZM220.4 225.2L223.4 224.5 229.1 220.0 235.7 213.1 242.0 204.8 244.6 200.4 243.4 197.2 241.2 194.6 240.6 200.4 238.7 197.2 235.8 196.4 221.0 198.1 205.6 196.5 203.1 197.5 201.8 200.4 201.3 200.4 200.8 194.7 199.0 196.6 197.4 200.4 201.7 207.3 206.8 213.7 212.2 219.4 217.0 223.5 220.2 225.1ZM202.9 203.2L202.9 203.1 202.9 203.2 202.9 203.2ZM202.3 202.3L202.4 202.3ZM239.5 202.3L239.6 202.2 239.6 202.3 239.6 202.3ZM201.8 201.3L201.8 200.6 201.8 201.3ZM239.9 201.3L240.1 200.9 240.1 201.3Z" fill="#feebb9" fill-rule="evenodd"/>
<path d="M221.5 309.7L227.3 309.7 230.4 301.2 234.2 295.8 239.0 286.6 241.4 280.6 243.3 274.0 243.4 279.6 242.8 279.9 243.0 287.9 242.5 288.2 242.7 296.4 242.1 296.7 242.2 299.4 244.9 293.5 247.1 285.6 248.8 275.8 249.6 266.3 249.3 260.0 246.8 249.5 245.6 246.0 243.6 242.9 240.0 239.4 234.4 235.9 230.0 233.8 229.5 234.1 228.4 233.2 224.1 233.0 219.9 233.2 218.8 234.1 218.3 233.8 215.2 235.2 209.6 238.4 205.2 242.2 203.2 245.1 201.9 248.2 199.1 259.7 198.7 263.1 199.1 271.7 200.5 281.5 202.6 290.7 205.0 297.1 206.1 299.1 206.2 296.7 205.6 296.4 205.8 288.2 205.3 287.9 205.5 279.9 204.9 279.6 205.0 273.5 206.8 279.9 209.3 286.3 214.1 295.5 218.0 301.2 221.2 309.7ZM204.5 271.1L204.5 271.0 204.5 271.1 204.5 271.1ZM217.7 234.6L217.8 234.6 217.8 234.6 217.8 234.6ZM230.5 234.6L230.5 234.6 230.5 234.6 230.5 234.6ZM218.2 234.3L218.3 234.2 218.5 234.3 218.3 234.4ZM229.9 234.3L230.0 234.2 230.1 234.3 230.0 234.4ZM218.8 233.7L218.9 233.7 218.8 233.6 218.7 233.7ZM229.5 233.7L229.6 233.7 229.5 233.6 229.4 233.7ZM220.4 233.1L220.5 233.0 220.4 233.0 220.4 233.0ZM227.9 233.1L227.9 233.0 227.9 233.0 227.8 233.0ZM220.4 225.1L223.3 224.5 228.2 220.7 234.4 214.0 240.3 206.4 243.8 200.4 242.7 197.5 241.2 195.5 240.8 200.4 240.2 200.7 240.2 201.3 239.6 201.6 239.7 202.3 238.5 203.9 239.5 200.4 239.1 199.1 237.5 197.5 235.3 197.1 221.0 198.6 205.6 197.3 203.8 198.2 202.6 200.1 203.8 203.9 203.4 203.9 202.2 202.3 202.3 201.6 201.7 201.3 201.7 200.7 201.1 200.4 200.8 195.6 199.7 196.9 198.2 200.4 203.3 208.6 212.8 219.7 217.6 223.8 220.4 225.1ZM206.1 208.3L206.1 208.2 206.1 208.3 206.1 208.3ZM205.5 207.3L205.6 207.3 205.6 207.3 205.6 207.4ZM205.0 206.7L205.0 206.3 205.0 206.7ZM204.4 205.8L204.5 205.3 204.5 205.8ZM237.3 205.8L237.4 205.4 237.4 205.8ZM203.9 204.8L204.0 204.2 204.3 204.8 204.0 204.8ZM237.7 204.8L238.0 204.4 238.0 204.8Z" fill="#fee6af" fill-rule="evenodd"/>
<path d="M224.1 306.3L227.1 301.2 232.3 295.2 237.6 286.3 241.3 277.1 243.8 267.1 243.9 271.1 243.3 271.4 243.5 279.6 242.9 279.9 243.1 287.9 242.6 288.2 242.7 294.5 245.0 288.8 247.9 276.1 249.0 263.1 248.7 260.0 246.2 249.2 243.6 243.5 238.8 238.7 230.5 234.1 230.0 234.5 228.2 233.7 228.4 233.3 219.9 233.3 220.1 233.7 218.3 234.5 217.8 234.1 213.0 236.5 207.9 240.0 204.7 243.5 202.5 247.9 199.7 260.0 199.4 265.0 200.9 278.4 204.0 290.5 205.6 294.2 205.7 288.2 205.2 287.9 205.4 279.9 204.8 279.6 205.0 271.4 204.4 271.1 204.5 266.5 207.0 276.8 210.7 286.0 215.9 294.8 221.4 301.2 224.1 306.3ZM216.2 235.6L216.2 235.6 216.2 235.6 216.2 235.6ZM232.1 235.6L232.1 235.6 232.1 235.6 232.1 235.6ZM216.7 235.2L216.7 235.2 216.8 235.2 216.7 235.3ZM231.5 235.2L231.6 235.2 231.6 235.2 231.6 235.3ZM217.2 234.9L217.2 234.9 217.4 234.9 217.2 235.0ZM230.9 234.9L231.1 234.9 231.1 234.9 231.1 235.0ZM217.6 234.6L217.8 234.5 218.0 234.6 217.8 234.7ZM230.3 234.6L230.5 234.5 230.7 234.6 230.5 234.7ZM218.3 234.1L218.4 234.0 218.3 233.9 218.2 234.0ZM230.0 234.1L230.1 234.0 230.0 233.9 229.9 234.0ZM219.9 224.9L223.1 224.5 226.6 221.9 231.3 217.2 236.8 210.5 240.9 204.5 243.1 200.4 241.2 196.5 240.9 200.4 240.3 200.7 239.2 203.2 238.0 204.2 238.1 204.8 236.9 206.4 236.4 206.4 238.7 200.4 237.7 198.8 236.4 198.1 233.7 197.9 221.0 199.2 208.2 198.0 205.6 198.2 204.2 199.1 203.4 200.4 206.1 207.3 205.6 207.4 204.3 205.8 204.4 205.1 203.8 204.8 203.9 204.2 202.7 203.2 201.6 200.7 201.0 200.4 200.8 196.6 200.5 196.9 198.9 200.4 203.1 207.7 207.9 214.0 212.7 219.4 216.9 223.2 219.7 224.8ZM215.6 221.3L215.6 221.3 215.7 221.3 215.6 221.3ZM226.3 221.3L226.3 221.3 226.3 221.3 226.3 221.3ZM213.5 218.8L213.5 218.8 213.5 218.8 213.5 218.8ZM213.0 218.1L213.0 218.1 213.0 218.1 213.0 218.1ZM228.9 218.1L228.9 218.1 228.9 218.1 228.9 218.1ZM212.4 217.5L212.5 217.4 212.5 217.5 212.5 217.5ZM229.4 217.5L229.5 217.4 229.5 217.5 229.5 217.5ZM210.8 215.3L210.9 215.2 210.9 215.3 210.9 215.3ZM231.0 215.3L231.1 215.2 231.1 215.3 231.1 215.3ZM210.3 214.6L210.3 214.4 210.5 214.6 210.3 214.7ZM231.5 214.6L231.6 214.5 231.6 214.6 231.6 214.7ZM209.8 213.7L209.8 213.6 209.8 213.7 209.8 213.7ZM209.2 213.1L209.3 212.8 209.4 213.1 209.3 213.1ZM232.5 213.1L232.7 212.9 232.7 213.1 232.7 213.1ZM208.7 212.1L208.7 212.0 208.8 212.1 208.7 212.1ZM233.2 212.1L233.2 212.1 233.2 212.1 233.2 212.1ZM208.1 211.5L208.2 211.1 208.2 211.5ZM233.6 211.5L233.7 211.2 233.8 211.5 233.7 211.5ZM207.6 210.5L207.7 210.2 207.8 210.5 207.7 210.5ZM234.1 210.5L234.2 210.3 234.3 210.5 234.2 210.5ZM207.1 209.9L207.1 209.3 207.5 209.9 207.1 209.9ZM234.5 209.9L234.8 209.4 234.8 209.9ZM206.5 208.9L206.6 208.4 206.9 208.9 206.6 209.0ZM235.1 208.9L235.3 208.5 235.3 209.0ZM206.0 208.3L206.1 207.4 206.6 208.3 206.1 208.4ZM235.4 208.3L235.8 207.5 235.8 208.3ZM235.9 207.3L236.4 206.5 236.4 207.4Z" fill="#fee2a6" fill-rule="evenodd"/>
<path d="M224.1 299.9L226.8 298.2 229.8 295.2 236.8 284.7 241.1 274.2 243.8 262.8 244.0 271.1 243.4 271.4 243.6 279.6 243.0 279.9 243.2 287.9 242.7 288.2 242.7 290.7 245.3 283.7 247.2 274.9 248.1 267.6 248.2 261.9 245.3 247.6 243.6 244.1 241.4 241.3 238.5 238.7 234.5 236.2 231.1 234.5 231.1 235.1 227.3 233.5 221.5 233.4 217.2 235.1 217.2 234.5 210.7 238.1 206.3 241.9 203.8 245.7 202.6 249.2 200.3 260.0 200.2 266.3 201.3 275.6 203.2 284.1 205.6 290.4 205.6 288.2 205.1 287.9 205.3 279.9 204.7 279.6 204.9 271.4 204.3 271.1 204.5 261.8 207.0 273.3 211.4 284.2 218.3 294.7 221.1 297.7 224.1 299.9ZM214.5 236.5L214.6 236.4 214.8 236.5 214.6 236.6ZM233.5 236.5L233.7 236.4 233.8 236.5 233.7 236.6ZM215.0 236.2L215.1 236.1 215.3 236.2 215.1 236.3ZM233.0 236.2L233.2 236.1 233.3 236.2 233.2 236.3ZM215.5 235.9L215.6 235.8 215.8 235.9 215.6 236.0ZM232.5 235.9L232.7 235.8 232.8 235.9 232.7 236.0ZM216.0 235.6L216.2 235.5 216.4 235.6 216.2 235.7ZM231.9 235.6L232.1 235.5 232.2 235.6 232.1 235.7ZM216.5 235.2L216.7 235.1 217.0 235.2 216.7 235.4ZM231.3 235.2L231.6 235.1 231.7 235.2 231.6 235.4ZM217.8 234.4L217.9 234.3 217.8 234.2 217.6 234.3ZM230.5 234.4L230.7 234.3 230.5 234.2 230.4 234.3ZM219.9 233.4L219.9 233.3 219.9 233.3 219.9 233.3ZM228.4 233.4L228.4 233.3 228.4 233.3 228.4 233.3ZM219.9 224.8L223.1 224.5 223.6 223.7 224.9 223.2 224.6 222.9 225.2 223.0 228.1 220.3 234.4 213.1 239.4 206.1 242.0 201.3 242.3 200.4 241.2 197.5 241.0 200.4 240.4 200.7 239.3 203.2 238.1 204.2 237.7 205.8 236.5 206.7 236.0 208.3 234.9 209.3 234.9 209.9 234.2 210.6 233.8 210.5 236.4 205.4 237.7 201.6 237.8 200.4 236.4 199.0 233.7 198.6 221.0 199.7 208.7 198.8 205.9 199.1 204.4 200.4 204.5 202.0 206.1 206.4 209.2 212.1 208.7 212.2 208.0 211.5 208.2 210.8 207.0 209.9 207.1 209.3 205.9 208.3 206.0 207.7 204.8 206.7 204.8 206.1 204.2 205.8 203.8 204.2 202.6 203.2 201.5 200.7 200.9 200.4 200.8 197.7 199.8 200.7 201.6 204.5 205.2 209.9 213.8 220.3 216.7 223.0 217.2 222.8 217.0 223.2 217.4 223.5 219.9 224.8ZM216.7 222.2L216.7 222.2 216.7 222.2 216.7 222.2ZM215.4 221.3L215.6 221.1 215.8 221.3 215.6 221.4ZM226.1 221.3L226.3 221.1 226.5 221.3 226.3 221.4ZM215.0 220.7L215.1 220.5 215.3 220.7 215.1 220.7ZM226.7 220.7L226.8 220.5 226.9 220.7 226.8 220.7ZM214.5 220.0L214.6 219.8 214.8 220.0 214.6 220.1ZM227.2 220.0L227.3 219.8 227.5 220.0 227.3 220.1ZM213.9 219.4L214.1 219.2 214.2 219.4 214.1 219.5ZM227.7 219.4L227.9 219.2 228.0 219.4 227.9 219.4ZM213.4 218.8L213.5 218.5 213.7 218.8 213.5 218.8ZM228.2 218.8L228.4 218.5 228.5 218.8 228.4 218.8ZM212.8 218.1L213.0 217.8 213.0 218.2ZM228.7 218.1L228.9 217.8 229.1 218.1 228.9 218.2ZM212.3 217.5L212.5 217.0 212.8 217.5 212.5 217.6ZM229.2 217.5L229.5 217.1 229.5 217.6ZM211.9 216.5L211.9 216.3 212.1 216.5 211.9 216.6ZM229.9 216.5L230.0 216.4 230.1 216.5 230.0 216.6ZM211.3 215.9L211.4 215.5 211.4 216.0ZM230.3 215.9L230.5 215.6 230.6 215.9 230.5 216.0ZM210.7 215.3L210.9 214.7 211.2 215.3 210.9 215.3ZM230.8 215.3L231.1 214.8 231.1 215.3ZM210.2 214.6L210.3 213.9 210.8 214.6 210.3 214.7ZM231.2 214.6L231.6 214.0 231.6 214.7ZM209.7 213.7L209.8 213.1 210.2 213.7 209.8 213.7ZM231.8 213.7L232.1 213.2 232.1 213.7ZM209.1 213.1L209.3 212.3 209.8 213.1 209.3 213.1ZM232.2 213.1L232.7 212.4 232.7 213.1ZM232.8 212.1L233.2 211.5 233.2 212.2ZM233.2 211.5L233.7 210.6 233.7 211.5Z" fill="#fedd9d" fill-rule="evenodd"/>
<path d="M224.1 296.9L227.5 294.5 232.1 289.3 235.3 284.6 238.0 279.3 240.7 272.3 242.8 264.7 243.5 260.0 243.5 254.3 243.9 254.3 244.1 271.1 243.5 271.4 243.7 279.6 243.1 279.9 243.3 285.8 244.9 280.9 246.5 274.1 247.6 261.9 245.1 248.2 243.6 244.8 241.4 241.6 238.6 239.0 234.8 236.5 232.1 235.1 233.9 236.5 233.7 236.8 227.3 233.7 221.5 233.6 218.8 234.4 214.6 236.8 214.4 236.5 216.2 235.1 211.5 237.8 207.2 241.3 204.4 245.4 203.0 249.2 201.1 258.7 200.7 263.1 201.5 271.4 202.9 278.7 205.0 285.4 205.2 279.9 204.6 279.6 204.8 271.4 204.2 271.1 204.4 254.3 204.8 254.3 204.9 260.0 205.6 264.5 207.5 271.7 210.1 278.7 213.0 284.3 216.0 288.8 220.4 294.0 223.8 296.7ZM205.0 252.0L204.9 250.5 205.3 250.5 205.0 252.3ZM243.3 251.7L243.3 251.9ZM205.5 248.9L205.6 249.1ZM242.7 248.9L242.7 248.9ZM206.1 247.0L206.1 247.1ZM242.2 247.0L242.2 247.0ZM206.6 245.4L206.6 245.4 206.7 245.4 206.6 245.7ZM241.6 245.4L241.7 245.4 241.7 245.4 241.7 245.6ZM207.1 244.4L207.1 244.5ZM241.0 244.1L241.2 244.1 241.2 244.1 241.2 244.4ZM207.7 243.5L207.7 243.5 207.7 243.5 207.7 243.5ZM208.2 242.5L208.2 242.5 208.3 242.5 208.2 242.7ZM240.0 242.5L240.1 242.5 240.1 242.5 240.1 242.6ZM208.7 241.9L208.7 241.9 208.8 241.9 208.7 241.9ZM209.3 241.3L209.3 241.3 209.3 241.3 209.3 241.3ZM209.8 240.6L209.8 240.6 209.8 240.6 209.8 240.7ZM238.5 240.6L238.5 240.6 238.5 240.6 238.5 240.6ZM210.3 240.0L210.3 240.0 210.5 240.0 210.3 240.1ZM237.9 240.0L238.0 240.0 238.0 240.0 238.0 240.1ZM211.4 239.0L211.4 239.0 211.5 239.0 211.4 239.1ZM236.8 239.0L236.9 239.0 236.9 239.0 236.9 239.1ZM212.4 238.1L212.5 238.0 212.7 238.1 212.5 238.3ZM235.6 238.1L235.8 238.0 235.9 238.1 235.8 238.3ZM212.9 237.8L213.0 237.8 213.1 237.8 213.0 237.9ZM235.2 237.8L235.3 237.8 235.4 237.8 235.3 237.9ZM213.5 237.5L213.5 237.5 213.5 237.5 213.5 237.5ZM234.8 237.5L234.8 237.5 234.8 237.5 234.8 237.5ZM216.7 235.0L216.9 234.9 216.7 234.8 216.4 234.9ZM231.6 235.1L231.9 234.9 231.6 234.8 231.4 234.9ZM217.2 234.7L217.3 234.6 217.2 234.5 217.1 234.6ZM231.1 234.7L231.2 234.6 231.1 234.5 231.0 234.6ZM221.0 224.8L224.1 223.7 224.8 223.2 224.7 222.7 225.6 222.6 226.6 221.6 225.9 221.3 226.3 220.9 227.0 221.3 232.9 214.6 240.3 203.5 241.7 200.4 241.2 198.9 241.1 200.4 239.9 201.6 239.4 203.2 238.2 204.2 237.8 205.8 236.1 207.7 236.1 208.3 235.0 209.3 235.0 209.9 233.9 210.8 234.0 211.5 232.8 212.4 232.9 213.1 231.7 214.0 231.9 214.6 230.5 216.0 230.0 215.9 233.7 209.9 236.2 204.5 236.8 201.6 236.2 200.1 233.2 199.4 222.6 200.2 208.7 199.5 206.1 200.1 205.3 201.6 206.0 204.8 208.7 210.5 212.4 216.5 211.9 216.6 210.1 214.6 210.2 214.0 209.0 213.1 209.1 212.4 207.9 211.5 208.0 210.8 206.9 209.9 207.0 209.3 205.8 208.3 205.9 207.7 204.7 206.7 203.7 204.2 202.5 203.2 202.0 201.6 200.8 200.4 200.8 199.2 200.4 200.4 201.9 203.9 209.1 214.6 215.0 221.3 215.6 220.9 216.0 221.3 215.3 221.6 216.4 222.6 217.2 222.6 217.1 223.2 217.8 223.7 220.9 224.8ZM217.7 223.2L217.8 223.2 217.8 223.2 217.8 223.2ZM224.1 223.2L224.1 223.2 224.2 223.2 224.1 223.2ZM216.5 222.2L216.7 222.1 216.9 222.2 216.7 222.3ZM225.1 222.2L225.2 222.1 225.4 222.2 225.2 222.3ZM216.1 221.6L216.2 221.5 216.3 221.6 216.2 221.7ZM225.7 221.6L225.7 221.5 225.8 221.6 225.7 221.7ZM214.8 220.7L215.1 220.2 215.5 220.7 215.1 220.8ZM226.5 220.7L226.8 220.3 226.8 220.8ZM214.3 220.0L214.6 219.6 215.0 220.0 214.6 220.1ZM227.0 220.0L227.3 219.6 227.3 220.1ZM213.8 219.4L214.1 218.9 214.4 219.4 214.1 219.5ZM227.5 219.4L227.9 218.9 227.9 219.5ZM213.3 218.8L213.5 218.2 214.0 218.8 213.5 218.9ZM228.0 218.8L228.4 218.2 228.4 218.9ZM212.7 218.1L212.9 217.8 212.2 217.5 212.5 216.7 213.5 218.1 213.0 218.3ZM228.5 218.1L229.5 216.7 229.7 217.5 228.9 218.2ZM229.6 216.5L230.0 216.0 230.0 216.6Z" fill="#fed797" fill-rule="evenodd"/>
<path d="M224.1 294.0L228.9 290.3 232.7 286.0 236.3 280.3 239.2 273.9 241.7 266.4 243.0 260.0 243.2 253.6 242.3 248.2 242.9 248.2 242.8 250.1 243.4 250.5 243.3 253.9 244.0 254.3 244.2 271.1 243.6 271.4 243.8 279.6 243.2 279.9 243.3 282.1 245.9 272.7 246.9 265.7 247.0 260.9 244.7 248.2 243.4 245.1 241.3 241.9 238.7 239.4 235.1 236.8 234.2 236.3 233.7 236.9 228.9 234.3 226.3 233.8 220.4 234.0 214.6 236.9 214.1 236.3 209.6 239.4 206.5 242.5 204.3 246.3 203.1 250.5 201.4 260.0 201.3 263.5 202.6 273.3 205.0 281.7 205.1 279.9 204.5 279.6 204.7 271.4 204.1 271.1 204.3 254.3 205.0 253.9 204.9 250.5 205.5 250.1 205.4 248.2 206.1 248.2 205.2 253.6 205.4 260.0 206.6 266.0 209.0 273.3 212.1 279.9 215.6 285.7 219.4 290.1 223.9 293.9ZM206.1 247.9L205.9 246.7 206.5 246.7 206.1 248.2ZM242.2 247.9L241.8 246.7 242.3 246.7 242.2 248.0ZM206.6 246.3L206.5 245.4 207.0 245.4 206.6 246.4ZM241.6 246.0L241.3 245.4 241.8 245.4 241.7 246.3ZM207.1 245.1L207.0 244.1 207.6 244.1 207.1 245.1ZM241.0 244.8L240.7 244.1 241.3 244.1 241.2 245.0ZM207.6 243.8L208.0 243.5 207.7 244.0ZM240.5 243.8L240.6 243.9ZM208.2 242.9L208.6 242.5 208.2 243.1ZM240.0 242.9L239.8 242.5 240.2 242.5 240.1 243.0ZM208.7 242.2L209.0 241.9 208.7 242.3ZM239.5 242.2L239.6 242.2ZM209.3 241.6L209.5 241.3 209.3 241.6ZM238.8 241.3L239.0 241.2 239.1 241.3 239.0 241.5ZM209.7 240.6L209.8 240.6 210.1 240.6 209.8 240.9ZM238.2 240.6L238.5 240.6 238.6 240.6 238.5 240.9ZM210.3 240.3L210.2 240.0 210.7 240.0 210.3 240.4ZM237.9 240.3L237.6 240.0 238.1 240.0 238.0 240.3ZM210.8 239.7L210.9 239.6 211.0 239.7 210.9 239.8ZM237.3 239.7L237.4 239.7 237.5 239.7 237.4 239.8ZM211.2 239.0L211.4 239.0 211.7 239.0 211.4 239.3ZM236.6 239.0L236.9 239.0 237.0 239.0 236.9 239.3ZM211.8 238.7L211.9 238.7 212.1 238.7 211.9 238.9ZM236.2 238.7L236.4 238.7 236.4 238.7 236.4 238.9ZM212.4 238.4L212.2 238.1 212.9 238.1 212.5 238.4ZM235.8 238.4L235.4 238.1 236.0 238.1 235.8 238.4ZM212.8 237.8L213.0 237.7 213.3 237.8 213.0 238.0ZM235.0 237.8L235.3 237.7 235.5 237.8 235.3 238.0ZM213.4 237.5L213.5 237.4 213.8 237.5 213.5 237.6ZM234.6 237.5L234.8 237.4 234.9 237.5 234.8 237.6ZM214.0 237.1L214.1 237.1 214.2 237.1 214.1 237.3ZM234.1 237.1L234.2 237.1 234.3 237.1 234.2 237.3ZM214.6 236.3L214.8 236.2 214.6 236.0 214.2 236.2ZM233.7 236.3L234.1 236.2 233.7 236.0 233.5 236.2ZM215.1 236.0L215.3 235.9 215.1 235.7 214.8 235.9ZM233.2 236.0L233.5 235.9 233.2 235.7 233.0 235.9ZM215.6 235.7L215.8 235.6 215.6 235.4 215.4 235.6ZM232.7 235.7L232.9 235.6 232.7 235.4 232.5 235.6ZM216.2 235.3L216.3 235.2 216.2 235.2 216.0 235.2ZM232.1 235.3L232.3 235.2 232.1 235.2 232.0 235.2ZM216.7 235.0L216.8 234.9 216.7 234.9 216.6 234.9ZM231.6 235.0L231.7 234.9 231.6 234.9 231.5 234.9ZM219.9 224.5L222.0 224.6 224.1 223.6 224.0 223.2 224.7 222.5 225.5 222.6 224.9 222.2 225.2 221.9 225.7 222.3 226.5 221.6 225.5 221.6 230.6 214.6 234.8 206.6 235.8 202.6 235.6 201.3 234.8 200.5 232.1 200.2 219.9 200.8 209.3 200.3 207.7 200.6 206.6 201.3 206.3 202.9 206.8 205.1 210.3 212.7 216.5 221.6 215.5 221.6 216.2 222.3 216.7 221.9 217.0 222.2 216.5 222.6 217.2 222.5 218.0 223.2 217.6 223.5 219.7 224.5ZM217.2 223.2L217.3 223.2 217.2 223.2 217.2 223.2ZM224.7 223.2L224.7 223.2 224.7 223.2 224.6 223.2ZM215.1 221.3L215.4 221.0 215.1 220.9 214.8 221.0ZM226.8 221.3L227.1 221.0 226.8 220.9 226.5 221.0ZM214.6 220.7L214.9 220.3 214.2 220.3 214.5 220.7ZM227.3 220.7L227.7 220.3 227.0 220.3 227.3 220.7ZM214.1 220.2L214.4 219.7 213.6 219.7 213.9 220.0ZM227.9 220.2L235.1 211.2 240.6 201.6 240.0 201.6 239.5 203.2 237.8 205.1 237.9 205.8 236.7 206.7 236.2 208.3 235.1 209.3 235.1 209.9 234.0 210.8 234.1 211.5 232.9 212.4 233.0 213.1 231.8 214.0 232.0 214.6 229.6 216.9 229.9 217.5 227.5 219.7 227.7 220.0ZM213.5 219.6L213.8 219.1 213.1 218.8 212.7 217.8 212.0 217.8 213.3 219.4ZM211.9 217.8L212.3 216.9 209.9 214.6 210.1 214.0 208.9 213.1 209.0 212.4 207.8 211.5 207.9 210.8 206.8 209.9 206.9 209.3 204.6 206.7 204.6 206.1 204.0 205.8 203.6 204.2 202.4 203.2 201.9 201.6 201.4 201.6 201.8 202.6 204.6 207.7 211.7 217.5ZM240.6 201.5L240.9 200.7 240.6 201.3ZM201.3 201.3L201.2 201.0Z" fill="#fed091" fill-rule="evenodd"/>
<path d="M224.1 291.3L228.6 288.2 233.2 282.8 237.3 275.8 240.6 267.6 242.4 260.3 242.8 253.6 241.9 247.9 240.1 243.5 240.6 243.4 241.4 244.1 241.2 245.1 241.9 245.4 241.8 246.3 242.4 246.7 242.3 247.9 243.0 248.2 242.9 250.1 243.5 250.5 243.4 253.9 244.1 254.3 244.2 271.1 243.7 271.4 243.8 277.0 245.5 270.1 246.4 263.8 246.4 260.0 244.0 247.3 242.6 244.1 240.5 241.3 234.2 236.4 233.7 237.0 228.4 234.3 224.1 234.0 219.9 234.3 214.6 237.1 214.1 236.4 209.8 239.4 206.8 242.5 204.8 246.0 203.5 250.5 202.0 260.0 201.9 263.1 202.9 270.2 204.5 276.6 204.6 271.4 204.0 271.1 204.2 254.3 204.9 253.9 204.8 250.5 205.4 250.1 205.3 248.2 206.0 247.9 205.8 246.7 206.5 246.3 206.4 245.4 207.0 245.1 206.9 244.1 208.1 243.2 208.0 242.5 209.1 241.3 209.8 241.3 207.1 245.8 205.7 251.7 205.6 256.2 206.7 263.8 209.8 272.7 214.1 281.0 218.8 287.2 223.6 291.0ZM239.9 243.2L239.0 241.9 239.8 241.9 240.3 242.5 240.1 243.5ZM238.8 241.6L238.5 241.3 239.2 241.3 239.0 241.9ZM209.7 241.0L210.1 240.0 211.3 239.7 209.8 241.3ZM238.3 241.0L238.0 240.6 238.7 240.6 238.5 241.2ZM237.7 240.3L237.1 239.7 238.2 240.0 238.0 240.6ZM211.3 239.4L211.1 239.0 212.3 238.7 211.4 239.6ZM236.7 239.4L236.0 238.7 237.1 239.0 236.9 239.5ZM212.3 238.4L212.1 238.1 214.4 237.1 212.5 238.6ZM235.6 238.4L233.9 237.1 236.2 238.1 235.8 238.6ZM214.6 236.2L214.7 236.2 214.6 236.1 214.4 236.2ZM233.7 236.2L233.9 236.2 233.7 236.1 233.6 236.2ZM215.1 235.9L215.2 235.9 215.1 235.8 215.0 235.9ZM233.2 235.9L233.3 235.9 233.2 235.8 233.1 235.9ZM215.6 235.6L215.7 235.6 215.6 235.5 215.6 235.6ZM232.7 235.6L232.7 235.6 232.7 235.5 232.6 235.6ZM221.0 224.5L223.1 223.9 226.3 220.4 230.0 215.0 233.2 209.1 234.6 205.1 234.8 202.7 233.7 201.4 231.6 201.0 221.0 201.4 210.3 201.2 208.3 201.6 207.5 202.6 207.4 204.5 208.2 207.3 211.9 214.9 217.2 222.3 219.4 224.2 220.6 224.5ZM217.8 223.6L218.0 223.5 217.8 223.5 217.7 223.5ZM224.1 223.6L224.2 223.5 224.1 223.4 223.9 223.5ZM216.7 222.7L216.9 222.6 216.7 222.5 216.6 222.6ZM225.2 222.7L225.3 222.6 225.2 222.5 225.0 222.6ZM216.2 222.2L216.5 221.9 216.2 221.8 215.9 221.9ZM225.7 222.2L226.0 221.9 225.7 221.8 225.4 221.9ZM215.6 221.7L215.7 221.6 215.6 221.6 215.6 221.6ZM226.3 221.7L226.3 221.6 226.3 221.6 226.2 221.6ZM215.1 221.1L215.3 221.0 215.1 220.9 215.0 221.0ZM226.8 221.1L227.0 221.0 226.8 220.9 226.7 221.0ZM214.6 220.6L214.8 220.3 214.6 220.3 214.4 220.3ZM227.3 220.6L227.6 220.3 227.3 220.3 227.2 220.3ZM214.1 220.0L214.2 219.7 214.1 219.6 213.8 219.7ZM227.9 220.0L228.1 219.7 227.9 219.6 227.7 219.7ZM228.4 219.4L228.7 219.1 228.2 219.1 228.4 219.4ZM213.5 219.4L213.7 219.1 213.5 219.0 213.3 219.1ZM213.0 218.8L213.2 218.4 212.7 218.4 213.0 218.8ZM228.9 218.8L229.2 218.4 228.8 218.4 228.9 218.8ZM212.5 218.1L212.6 217.8 212.2 217.8 212.4 218.1ZM229.5 218.2L229.8 217.8 229.3 217.8 229.4 218.1ZM211.9 217.5L212.2 216.9 211.4 216.9 211.9 217.5ZM230.0 217.5L231.0 216.2 230.3 216.2 229.7 216.9 230.0 217.5ZM211.4 216.8L211.6 216.2 210.9 216.2 211.2 216.5ZM210.9 216.2L211.0 215.6 210.4 215.6 210.7 215.9ZM231.1 216.2L231.5 215.6 230.9 215.6 231.0 215.9ZM210.3 215.5L210.5 215.0 209.9 215.0 210.2 215.3ZM231.6 215.5L232.0 215.0 231.4 215.0 231.5 215.3ZM209.8 214.8L210.0 214.0 208.8 213.4 209.7 214.6ZM232.1 214.8L233.2 213.4 232.5 213.4 231.9 214.0 232.1 214.6ZM208.7 213.3L208.9 212.4 208.4 211.8 207.7 211.8 208.6 213.1ZM233.2 213.4L236.3 208.6 235.2 209.3 235.3 209.9 234.1 210.8 234.2 211.5 233.0 212.4 233.1 213.1ZM207.7 211.8L207.8 210.8 206.6 210.2 207.5 211.5ZM206.6 210.2L206.8 209.3 205.6 208.6 206.4 209.9ZM205.6 208.5L205.7 207.7 205.1 207.7 205.5 208.3ZM236.4 208.6L237.8 206.1 236.8 206.7 236.3 208.3ZM205.0 207.6L205.1 207.0 204.7 207.0 204.9 207.3ZM204.5 206.6L204.5 206.1 204.2 206.1 204.3 206.4ZM238.0 205.8L238.3 205.1 237.9 205.1 238.0 205.8ZM204.0 205.7L204.0 205.1 203.7 205.1 203.8 205.4ZM238.5 204.8L238.8 204.2 238.4 204.2 238.5 204.8ZM203.4 204.7L203.3 204.5ZM202.9 203.6L202.9 203.5 202.9 203.5 202.9 203.5ZM239.0 203.8L239.1 203.5 239.0 203.5 239.0 203.5ZM239.6 202.6L239.6 202.6 239.6 202.6 239.6 202.6Z" fill="#feca8c" fill-rule="evenodd"/>
<path d="M224.1 289.0L226.8 287.4 229.5 285.1 234.8 278.1 239.2 269.2 241.9 260.0 242.5 253.6 241.8 248.9 240.6 245.1 239.0 242.3 236.9 239.8 231.1 235.6 227.9 234.4 221.0 234.4 218.8 234.8 215.6 236.5 211.9 239.4 208.9 242.9 207.1 246.7 206.1 251.6 206.0 256.2 206.7 261.2 208.3 266.6 210.9 272.8 213.5 277.8 216.7 282.5 220.4 286.4 223.8 288.8ZM243.8 273.5L245.2 267.6 245.9 261.9 244.3 249.5 243.1 245.7 241.2 242.5 237.9 239.0 236.4 237.9 236.1 238.4 238.3 240.0 238.7 241.0 240.4 242.5 240.3 243.2 241.5 244.1 241.3 245.1 242.0 245.4 241.9 246.3 242.5 246.7 242.4 247.9 243.1 248.2 242.9 250.1 243.6 250.5 243.5 253.9 244.2 254.3 244.3 271.1 243.8 271.4 243.8 273.3ZM204.5 273.1L204.5 271.4 204.0 271.4 204.5 273.0ZM204.0 271.1L204.1 254.3 204.8 253.9 204.7 250.5 205.3 250.1 205.2 248.2 205.9 247.9 205.8 246.7 206.4 246.3 206.3 245.4 207.0 245.1 206.8 244.1 208.0 243.2 207.9 242.5 209.6 241.0 210.0 240.0 212.2 238.4 211.9 237.9 211.3 238.4 207.3 242.2 205.4 245.4 204.2 248.9 202.5 260.0 202.7 264.4 203.9 271.1ZM212.5 237.9L212.6 237.8 212.5 237.6 212.1 237.8ZM235.8 237.9L236.2 237.8 235.8 237.6 235.7 237.8ZM213.0 237.6L214.3 236.8 214.1 236.5 212.6 237.5ZM235.3 237.6L235.7 237.5 234.2 236.5 234.0 236.8 235.1 237.5ZM219.9 224.2L222.6 224.0 224.1 222.7 227.3 218.6 230.5 213.4 232.7 209.0 233.8 205.4 233.6 203.2 232.1 202.1 211.9 202.0 209.8 202.4 208.7 203.2 208.4 204.8 208.7 207.0 211.4 213.3 216.2 220.8 218.3 223.2 219.7 224.1ZM216.2 222.0L216.3 221.9 216.2 221.9 216.1 221.9ZM225.7 222.0L225.9 221.9 225.7 221.9 225.6 221.9ZM214.6 220.4L214.6 220.3 214.6 220.3 214.6 220.3ZM227.3 220.4L227.4 220.3 227.3 220.3 227.3 220.3ZM214.1 219.8L214.1 219.7 214.1 219.7 214.0 219.7ZM227.9 219.8L227.9 219.7 227.9 219.7 227.8 219.7ZM213.5 219.2L213.6 219.1 213.5 219.1 213.5 219.1ZM228.4 219.2L228.5 219.1 228.4 219.1 228.3 219.1ZM213.0 218.5L213.0 218.4 213.0 218.4 212.9 218.4ZM228.9 218.5L229.0 218.4 228.9 218.4 228.9 218.4ZM212.5 217.9L212.5 217.8 212.5 217.8 212.4 217.8ZM229.5 217.9L229.5 217.8 229.5 217.8 229.4 217.8ZM211.9 217.2L212.1 216.9 211.7 216.9 211.9 217.2ZM230.0 217.2L230.3 216.9 229.9 216.9 230.0 217.2ZM230.5 216.5L230.8 216.2 230.5 216.5ZM211.4 216.5L211.5 216.2 211.4 216.2 211.2 216.2ZM210.9 215.8L210.9 215.6 210.9 215.6 210.7 215.6ZM231.1 215.8L231.3 215.6 231.1 215.6 231.0 215.6ZM210.3 215.1L210.4 215.0 210.3 214.9 210.2 215.0ZM231.6 215.1L231.7 215.0 231.6 214.9 231.5 215.0ZM209.8 214.3L209.8 214.3ZM232.1 214.4L232.4 214.0 232.1 214.3ZM209.3 213.6L209.3 213.4 209.3 213.3 209.1 213.4ZM232.7 213.7L232.8 213.4 232.7 213.3 232.6 213.4ZM208.7 212.8L208.7 212.7ZM233.2 212.9L233.5 212.4 233.2 212.7ZM208.2 212.0L208.3 211.8 208.2 211.8 208.1 211.8ZM233.7 212.1L233.9 211.8 233.7 211.8 233.7 211.8ZM207.7 211.2L207.6 211.2ZM234.2 211.3L234.5 210.8 234.2 211.2ZM207.1 210.4L207.2 210.2 207.1 210.2 207.0 210.2ZM234.8 210.5L234.9 210.2 234.8 210.2 234.7 210.2ZM235.3 209.6L235.3 209.6ZM206.6 209.5L206.7 209.3 206.6 209.2 206.5 209.3ZM235.8 208.7L235.9 208.6 235.8 208.6 235.8 208.6ZM205.6 207.7L205.6 207.7 205.6 207.7 205.5 207.7ZM236.4 207.8L236.5 207.7 236.4 207.7 236.4 207.7ZM236.9 206.9L237.0 206.7 236.9 206.7 236.9 206.7Z" fill="#fdc488" fill-rule="evenodd"/>
<path d="M224.1 286.8L226.8 285.3 230.0 282.3 235.3 275.0 240.1 264.5 242.0 256.2 242.2 253.6 241.7 249.8 239.6 243.6 235.9 239.0 231.1 235.8 227.9 234.7 221.0 234.7 218.3 235.3 215.6 236.7 211.9 239.5 209.3 242.7 207.7 246.0 206.5 250.8 206.2 253.6 207.0 260.0 210.9 270.6 213.5 275.6 216.7 280.2 220.4 284.2 223.7 286.6ZM244.3 267.9L245.3 260.0 244.0 249.5 241.6 243.5 238.7 240.0 238.3 240.3 240.5 242.5 240.3 243.2 241.6 244.1 241.4 245.1 242.1 245.4 242.0 246.3 242.6 246.7 242.5 247.9 243.2 248.2 243.0 250.1 243.7 250.5 243.6 253.9 244.2 254.3 244.3 267.9ZM204.0 267.5L204.0 254.3 204.7 253.9 204.6 250.5 205.2 250.1 205.1 248.2 205.8 247.9 205.7 246.7 206.3 246.3 206.2 245.4 206.9 245.1 206.7 244.1 209.5 241.0 209.3 240.3 206.5 243.8 204.3 249.8 203.0 260.0 203.9 267.3ZM209.8 240.4L209.8 239.8 209.3 240.3ZM210.3 239.8L211.1 239.4 210.9 238.9 210.0 239.7ZM238.0 239.8L238.4 239.7 237.4 238.9 237.2 239.4 237.8 239.7ZM211.4 238.8L211.5 238.7 211.4 238.5 211.1 238.7ZM236.9 238.8L237.2 238.7 236.9 238.5 236.8 238.7ZM211.9 238.5L211.9 238.1 211.5 238.4ZM236.4 238.5L236.8 238.4 236.4 238.1 236.2 238.4ZM212.5 237.8L212.5 237.8 212.5 237.7 212.4 237.8ZM235.8 237.8L236.0 237.8 235.8 237.7 235.8 237.8ZM213.0 237.5L213.1 237.5 213.0 237.4 212.8 237.5ZM235.3 237.5L235.5 237.5 235.3 237.3 235.2 237.5ZM213.5 237.2L213.6 237.1 213.5 237.0 213.3 237.1ZM234.8 237.2L235.0 237.1 234.8 237.0 234.6 237.1ZM214.1 236.9L214.2 236.8 214.1 236.7 213.8 236.8ZM234.2 236.9L234.5 236.8 234.2 236.7 234.1 236.8ZM219.9 223.9L222.6 223.8 224.1 222.5 230.0 213.6 232.1 208.7 232.8 205.8 232.3 203.9 230.6 202.9 213.5 202.9 211.3 203.2 209.8 204.3 209.5 205.8 209.7 207.7 211.9 213.4 216.2 220.5 219.5 223.8ZM211.9 216.9L211.9 216.9 211.9 216.9 211.9 216.9ZM230.0 216.9L230.0 216.9 230.0 216.8 230.0 216.9Z" fill="#fbbe85" fill-rule="evenodd"/>
<path d="M223.6 284.4L224.1 284.7 225.2 284.2 228.4 281.8 231.6 278.4 234.2 274.7 239.6 264.0 241.5 256.2 241.8 253.6 241.4 250.1 239.6 244.1 236.9 240.3 232.1 236.5 229.5 235.3 226.8 235.0 220.4 235.0 217.2 236.0 213.5 238.4 210.3 241.6 208.3 245.4 207.1 249.5 206.6 253.6 207.6 260.0 210.9 268.6 213.5 273.5 216.7 278.2 219.9 281.7 223.5 284.4ZM244.3 264.4L244.8 260.0 244.3 254.0 244.3 264.1ZM204.0 263.9L204.0 254.3 203.5 260.0 203.9 263.8ZM204.5 254.0L204.5 250.5 204.0 253.9ZM243.8 254.0L244.3 253.9 243.8 250.3 243.7 253.9ZM205.0 250.2L205.0 248.1 204.6 250.1ZM243.3 250.2L243.8 250.1 243.3 248.0 243.1 250.1ZM205.6 248.0L205.6 246.5 205.1 247.9ZM242.7 248.0L243.3 247.9 242.7 246.4 242.6 247.9ZM206.1 246.4L206.1 245.2 205.6 246.3ZM242.2 246.4L242.7 246.3 242.2 245.1 242.1 246.3ZM206.6 245.1L206.6 244.2 206.1 245.1ZM241.7 245.2L242.2 245.1 241.7 244.1 241.5 245.1ZM207.1 243.9L207.1 243.3 206.8 243.8ZM241.2 243.9L241.5 243.8 241.2 243.2 241.0 243.8ZM207.7 243.3L207.7 242.5 207.2 243.2ZM240.6 243.3L241.1 243.2 240.6 242.4 240.4 243.2ZM208.2 242.3L208.2 241.8 207.9 242.2ZM240.1 242.3L240.5 242.2 240.1 241.8 240.0 242.2ZM208.7 241.7L208.7 241.2 208.4 241.6ZM239.6 241.7L240.0 241.6 239.6 241.1 239.4 241.6ZM209.3 241.0L209.3 240.6 208.9 241.0ZM239.0 241.0L239.4 241.0 239.0 240.6 238.9 241.0ZM209.8 240.4L209.9 240.3 209.8 240.1 209.5 240.3ZM238.5 240.4L238.8 240.3 238.5 240.0 238.4 240.3ZM210.3 239.7L210.4 239.7 210.3 239.6 210.2 239.7ZM238.0 239.7L238.1 239.7 238.0 239.5 237.9 239.7ZM210.9 239.4L211.0 239.4 210.9 239.1 210.6 239.4ZM237.4 239.4L237.8 239.4 237.4 239.1 237.3 239.4ZM211.4 238.8L211.4 238.7 211.4 238.7 211.3 238.7ZM236.9 238.8L237.0 238.7 236.9 238.7 236.9 238.7ZM211.9 238.5L212.0 238.4 211.9 238.3 211.7 238.4ZM236.4 238.5L236.6 238.4 236.4 238.2 236.3 238.4ZM213.5 237.2L213.5 237.1 213.5 237.1 213.5 237.1ZM234.8 237.2L234.8 237.1 234.8 237.1 234.8 237.1ZM214.1 236.9L214.1 236.8 214.1 236.8 214.0 236.8ZM234.2 236.9L234.3 236.8 234.2 236.8 234.2 236.8ZM219.9 223.6L222.0 223.6 223.6 222.7 226.3 219.2 229.5 213.6 231.1 209.6 231.6 206.7 231.1 204.9 229.5 203.9 224.7 203.5 215.6 203.7 212.5 204.3 211.0 205.4 210.9 208.8 213.0 214.4 216.7 220.7 219.5 223.5Z" fill="#f8b882" fill-rule="evenodd"/>
<path d="M224.1 282.6L226.8 281.1 229.5 278.8 234.5 272.3 239.2 263.1 241.2 255.6 241.4 253.6 240.9 249.5 239.0 243.8 235.8 239.6 231.1 236.2 227.9 235.4 221.5 235.4 218.8 235.7 216.2 236.8 213.0 239.1 210.2 242.2 208.4 246.0 207.3 250.5 207.0 253.6 208.2 260.0 211.4 267.7 217.2 276.8 220.4 280.1 223.9 282.5ZM204.5 254.0L204.5 252.6 204.3 253.9ZM243.8 254.0L243.8 252.3 243.8 253.9ZM205.0 250.2L205.0 249.4 204.9 250.1ZM243.3 250.2L243.3 249.2 243.2 250.1ZM205.6 247.9L205.6 247.4 205.4 247.9ZM242.7 248.0L242.7 247.3 242.7 247.9ZM206.1 246.4L206.1 245.9 205.9 246.3ZM242.2 246.4L242.2 245.8 242.2 246.3ZM206.6 245.1L206.6 244.7 206.4 245.1ZM241.7 245.1L241.7 244.6 241.6 245.1ZM207.1 243.8L207.2 243.8 207.1 243.7 207.1 243.8ZM241.2 243.8L241.2 243.8 241.2 243.7 241.1 243.8ZM207.7 243.2L207.7 243.2 207.7 242.9 207.5 243.2ZM240.6 243.2L240.6 242.8 240.5 243.2ZM208.2 242.2L208.2 242.2 208.2 242.1 208.1 242.2ZM240.1 242.2L240.2 242.2 240.1 242.1 240.1 242.2ZM208.7 241.6L208.8 241.6 208.7 241.5 208.6 241.6ZM239.6 241.6L239.7 241.6 239.6 241.4 239.5 241.6ZM209.3 241.0L209.3 241.0 209.3 240.9 209.2 241.0ZM239.0 241.0L239.1 241.0 239.0 240.8 239.0 241.0ZM209.8 240.3L209.8 240.3 209.8 240.3 209.8 240.3ZM238.5 240.3L238.5 240.3 238.5 240.3 238.5 240.3ZM210.9 239.4L210.9 239.4 210.9 239.3 210.8 239.4ZM237.4 239.4L237.5 239.4 237.4 239.3 237.4 239.4ZM236.4 238.4L236.4 238.4 236.4 238.4 236.4 238.4ZM221.0 223.2L223.1 222.7 225.2 220.2 228.4 214.5 230.2 208.9 230.1 206.7 229.0 205.4 227.3 204.8 223.6 204.4 214.6 205.1 212.8 206.1 212.0 207.7 212.8 212.1 215.6 218.3 218.3 222.2 219.4 223.0 220.8 223.2Z" fill="#f5b27f" fill-rule="evenodd"/>
<path d="M224.1 280.6L228.9 277.4 234.2 270.8 238.5 263.0 240.7 255.5 241.0 253.6 240.6 250.3 239.0 244.4 235.9 240.0 231.6 236.8 228.4 235.9 222.6 235.8 218.8 236.1 216.2 237.1 213.0 239.4 210.4 242.5 208.8 246.0 207.8 249.8 207.4 253.6 207.8 256.2 208.8 260.0 211.4 265.9 214.6 271.3 217.8 275.5 221.0 278.6 224.1 280.6ZM220.4 222.3L222.6 222.1 224.1 220.7 226.8 216.1 228.4 212.0 228.8 209.6 228.4 207.7 226.9 206.4 224.6 205.8 221.0 205.5 217.1 206.1 214.9 207.0 213.8 208.6 213.9 212.1 215.6 216.8 218.3 221.2 220.2 222.2Z" fill="#f1ac7c" fill-rule="evenodd"/>
<path d="M223.6 278.4L224.7 278.5 227.9 276.4 233.2 270.5 237.6 263.1 240.1 255.9 240.5 253.6 240.2 250.8 238.6 244.4 235.8 240.3 232.1 237.4 229.5 236.5 225.2 236.2 219.4 236.4 216.7 237.2 213.5 239.3 211.4 241.7 209.8 244.4 208.6 248.2 207.9 253.6 209.5 260.0 210.9 263.1 214.1 268.7 217.2 273.0 220.4 276.2 223.6 278.4ZM220.4 219.8L222.0 219.8 223.6 218.8 226.3 214.0 226.6 209.9 225.7 208.4 224.1 207.5 221.5 207.1 218.8 207.5 216.9 208.6 215.9 210.2 215.8 212.4 216.7 215.6 218.3 218.3 220.1 219.7Z" fill="#eca779" fill-rule="evenodd"/>
<path d="M223.6 276.5L225.2 276.3 227.9 274.5 233.2 268.7 238.0 260.6 240.0 253.6 239.3 248.2 238.0 244.1 235.3 240.3 232.1 237.9 229.5 237.0 225.2 236.7 219.9 236.9 216.7 237.7 214.1 239.3 211.9 241.6 210.3 244.3 209.2 247.6 208.4 253.6 210.9 261.4 214.1 266.9 217.2 271.1 220.4 274.3 223.6 276.5ZM221.0 214.1L222.4 213.7 223.2 212.4 223.1 210.8 222.0 209.7 220.6 209.9 219.7 211.2 219.7 212.7 220.8 214.0Z" fill="#e8a276" fill-rule="evenodd"/>
<path d="M223.6 274.6L225.2 274.4 227.9 272.7 233.2 267.0 237.5 260.0 239.4 253.6 238.7 247.9 237.4 244.1 235.3 240.9 232.1 238.4 229.5 237.6 225.2 237.3 219.9 237.6 216.7 238.3 214.6 239.5 212.5 241.6 210.9 244.3 209.8 247.6 209.0 253.6 211.0 260.0 214.1 265.2 217.2 269.3 220.4 272.5 223.6 274.6Z" fill="#e29c74" fill-rule="evenodd"/>
<path d="M223.6 272.7L224.7 272.8 227.3 271.3 232.7 265.9 236.6 260.0 238.7 253.6 238.0 247.9 236.9 244.3 234.8 241.1 232.1 239.2 229.5 238.4 225.2 238.0 217.2 238.8 215.1 239.9 213.0 241.9 210.8 246.7 209.8 253.6 211.9 260.0 217.8 268.1 221.0 271.1 223.5 272.7Z" fill="#db9974" fill-rule="evenodd"/>
<path d="M223.6 270.8L224.7 270.9 227.3 269.4 232.1 264.8 235.6 260.0 237.8 253.6 237.3 248.9 236.4 245.1 234.7 242.2 232.1 240.1 229.5 239.2 225.7 238.9 217.8 239.6 215.6 240.5 214.1 241.9 211.7 246.3 210.7 253.6 212.9 260.0 218.3 266.9 223.5 270.7Z" fill="#d39574" fill-rule="evenodd"/>
<path d="M223.6 268.9L224.7 269.0 226.8 268.0 231.6 263.7 234.5 260.0 236.4 254.9 236.7 253.6 236.5 250.5 235.3 245.4 233.7 242.7 231.4 241.0 225.7 239.8 218.8 240.4 215.1 242.4 212.9 246.3 211.9 253.6 214.1 260.0 218.8 265.6 223.4 268.8Z" fill="#cc9275" fill-rule="evenodd"/>
<path d="M223.6 267.1L224.7 267.1 226.3 266.4 230.5 263.0 233.1 260.0 234.8 255.6 235.2 253.0 234.2 246.7 232.7 243.7 230.1 241.9 224.7 240.9 219.4 241.6 216.2 243.6 214.3 247.3 213.4 253.6 215.5 260.0 219.4 264.2 223.4 266.9Z" fill="#c48f75" fill-rule="evenodd"/>
<path d="M223.6 265.1L224.7 265.2 226.3 264.5 230.0 261.6 231.6 260.0 232.9 256.2 233.3 253.3 232.4 247.6 231.1 245.0 228.6 243.2 224.1 242.4 220.2 243.2 217.6 245.1 216.0 248.6 215.4 253.9 217.1 260.0 220.4 263.2 223.4 265.0Z" fill="#bd8d75" fill-rule="evenodd"/>
<path d="M223.6 263.2L225.7 262.9 229.5 260.1 230.9 256.2 231.0 253.0 230.1 248.6 228.8 246.3 226.8 244.9 223.6 244.5 221.0 245.5 219.1 247.6 218.1 250.8 217.9 255.8 219.1 260.0 223.6 263.1Z" fill="#b58a76" fill-rule="evenodd"/>
<path d="M224.1 261.3L227.1 260.0 228.3 256.2 227.6 250.8 226.7 249.2 225.2 248.1 223.6 248.1 222.0 249.3 220.6 253.9 220.5 256.2 221.7 260.0 224.1 261.2Z" fill="#ae8876" fill-rule="evenodd"/>
<path d="M256.1 309.7L256.7 301.2 259.1 291.7 259.8 278.7 259.3 263.1 256.4 249.2 254.7 246.0 252.5 243.5 246.8 239.4 235.8 234.8 224.1 231.7 212.5 234.8 201.5 239.4 195.8 243.5 193.6 246.0 191.9 249.2 190.9 252.7 189.0 263.1 188.5 278.4 189.3 291.7 191.7 301.2 192.4 309.7M138.6 170.3L196.8 212.4 214.1 222.9 218.3 225.0 221.0 225.7 226.3 223.8 230.5 223.2 237.8 218.4 242.5 214.6 255.9 200.4 281.8 170.3" fill="none" stroke="#fffddb" stroke-width="0.7"/>
<path d="M252.9 309.7L253.4 301.2 255.7 291.7 256.2 287.5 257.1 273.6 256.9 263.1 253.8 248.9 252.3 246.0 250.4 243.5 244.5 239.0 234.8 234.7 225.7 231.9 224.1 231.9 222.6 231.9 213.5 234.7 203.8 239.0 197.9 243.5 196.0 246.0 194.5 248.9 191.5 263.1 191.3 273.6 192.2 287.2 192.7 291.7 195.0 301.2 195.5 309.7M144.5 170.3L209.5 219.4 216.4 223.8 221.0 225.6 224.7 224.3 230.3 221.0 236.9 216.4 241.1 212.7 252.6 200.7 252.8 198.9 276.0 170.3" fill="none" stroke="#fffbcf" stroke-width="0.7"/>
<path d="M250.8 309.7L251.3 301.2 253.5 291.7 254.3 286.3 255.3 272.7 255.2 263.1 252.4 249.8 251.1 246.7 249.4 244.1 244.8 240.0 237.0 235.9 225.7 232.0 222.6 232.0 217.8 233.5 210.9 236.1 205.5 238.7 202.2 241.0 199.4 243.5 196.2 248.9 193.1 262.8 193.0 271.7 194.0 285.6 194.9 291.7 197.1 301.2 197.5 309.7M149.0 170.3L200.2 210.6 210.6 219.7 216.1 223.5 221.0 225.6 225.8 223.5 231.4 219.7 238.7 213.4 246.3 205.8 250.8 200.4 250.3 198.2 271.4 170.3M237.7 170.3L227.8 193.7 221.0 194.4 215.1 194.0 202.6 191.8 182.7 170.3" fill="none" stroke="#fff9c5" stroke-width="0.7"/>
<path d="M249.1 309.7L249.6 301.2 251.9 291.7 253.0 284.4 254.0 271.1 253.8 261.9 251.0 249.5 248.2 244.1 243.4 239.7 235.6 235.6 225.7 232.1 222.6 232.1 217.8 233.6 211.2 236.2 206.4 238.7 203.2 241.0 200.6 243.5 198.8 246.0 197.4 249.2 194.6 261.6 194.3 270.7 195.4 284.1 196.5 291.7 198.8 301.2 199.2 309.7M153.4 170.3L197.6 206.5 204.7 214.0 211.1 219.7 216.9 223.8 221.0 225.5 225.0 223.8 231.2 219.4 238.8 212.4 245.8 204.8 249.1 200.4 248.2 196.9 267.0 170.3M245.2 170.3L233.9 193.4 227.3 194.9 221.0 195.3 215.1 195.0 204.5 193.1 202.4 193.2 201.3 193.9 200.8 191.3 197.6 192.8 175.2 170.3" fill="none" stroke="#fff6b9" stroke-width="0.7"/>
<path d="M206.5 309.7L206.6 298.7 207.7 301.2 209.2 309.7M239.3 309.7L240.8 301.2 241.7 299.1 241.8 309.7M247.6 309.7L248.1 301.2 251.3 286.6 252.9 270.4 252.7 261.2 249.9 249.5 247.2 244.1 242.1 239.4 237.2 236.5 231.6 234.1 227.3 232.6 224.1 232.3 221.0 232.6 216.7 234.1 211.1 236.5 206.2 239.4 201.1 244.1 198.5 249.5 195.7 261.2 195.4 270.4 197.1 287.2 200.3 301.2 200.8 309.7M158.4 170.3L194.4 200.8 201.6 209.9 210.1 218.4 216.6 223.5 221.0 225.4 225.3 223.5 231.9 218.4 239.2 211.2 245.6 203.5 247.7 200.4 245.4 195.0 262.0 170.3M251.4 170.3L238.9 193.7 226.8 195.7 221.0 196.1 215.1 195.8 205.0 194.0 202.5 194.4 201.3 195.4 200.8 192.2 197.9 194.0 196.0 196.1 195.6 195.9 169.0 170.3" fill="none" stroke="#fff1ae" stroke-width="0.7"/>
<path d="M206.4 309.7L206.5 296.7 206.0 296.4 206.1 291.7 210.2 301.2 211.9 309.7M236.6 309.7L238.3 301.2 242.2 292.2 242.3 296.4 241.8 296.7 241.9 309.7M246.1 309.7L246.6 301.2 250.0 287.2 251.9 270.4 251.7 260.9 248.9 249.5 246.2 243.8 241.0 239.0 236.1 236.2 230.5 233.8 227.3 232.7 224.1 232.5 221.0 232.7 217.8 233.8 211.6 236.5 207.3 239.0 202.1 243.8 199.4 249.5 196.6 260.9 196.4 270.4 198.3 287.2 201.7 301.2 202.3 309.7M219.9 225.1L221.5 225.3 223.6 224.5 230.4 219.4 238.2 211.5 245.2 202.6 246.6 200.4 245.8 197.8 244.1 195.3 241.2 193.0 240.6 196.8 239.6 195.4 237.4 194.8 226.3 196.5 221.0 196.8 215.1 196.5 205.0 194.9 202.4 195.6 201.3 197.0 200.8 193.1 198.5 194.7 196.9 196.6 195.4 200.4 200.0 207.0 205.8 213.7 211.2 219.1 215.8 222.9 219.8 225.1Z" fill="none" stroke="#feeba2" stroke-width="0.7"/>
<path d="M206.2 309.7L206.4 296.7 205.9 296.4 206.0 288.2 205.5 287.9 205.6 285.0 209.0 293.9 212.7 301.2 214.7 309.7M233.8 309.7L235.8 301.2 239.3 294.2 242.7 285.4 242.8 287.9 242.2 288.2 242.4 296.4 241.9 296.7 242.1 309.7M244.4 309.7L245.1 301.2 248.8 287.9 251.0 271.1 251.0 261.6 248.2 249.8 245.7 244.1 240.9 239.4 236.3 236.5 230.8 234.0 227.9 232.9 224.1 232.6 220.4 232.9 217.5 234.0 212.0 236.5 207.4 239.4 202.6 244.1 200.1 249.8 197.4 261.6 197.4 271.1 199.5 287.5 203.3 301.2 204.0 309.7M219.4 233.7L219.4 233.7M228.9 233.7L229.0 233.7ZM220.4 225.3L221.5 225.3 224.0 224.1 229.7 219.7 237.3 211.8 243.7 203.5 245.5 200.4 245.4 199.7 243.8 196.3 241.2 193.8 240.6 198.9 239.4 196.6 236.9 195.6 221.0 197.5 205.0 195.7 202.4 196.9 201.3 199.3 200.8 193.9 198.0 196.6 196.4 200.4 201.0 207.3 211.5 219.1 216.4 223.2 219.9 225.1Z" fill="none" stroke="#fee697" stroke-width="0.7"/>
<path d="M230.9 309.7L233.3 301.2 239.3 289.8 242.7 280.6 242.9 287.9 242.4 288.2 242.6 296.4 242.0 296.7 242.2 309.7M242.4 309.7L243.4 301.2 246.8 291.7 249.2 279.3 250.4 266.6 249.8 259.0 246.7 247.3 245.0 244.1 243.0 241.6 239.1 238.4 233.4 235.2 229.5 233.5 228.9 233.8 228.9 233.3 227.9 232.9 224.1 232.8 220.4 232.9 219.4 233.3 219.4 233.8 218.8 233.5 214.3 235.6 208.3 239.0 204.7 242.2 202.7 245.1 201.2 248.6 198.4 259.7 198.0 263.1 198.3 272.3 199.7 282.5 201.6 291.7 205.0 301.2 206.1 309.7 206.3 296.7 205.7 296.4 205.6 280.1 209.1 289.8 215.2 301.2 217.6 309.7M205.0 279.6L205.0 278.1 205.4 279.6ZM243.3 279.6L243.3 278.7 243.3 279.6ZM218.8 234.0L218.8 234.0M229.5 234.0L229.5 234.0M220.4 225.2L223.4 224.5 229.1 220.0 235.7 213.1 242.0 204.8 244.6 200.4 243.4 197.2 241.2 194.6 240.6 200.4 238.7 197.2 235.8 196.4 221.0 198.1 205.6 196.5 203.1 197.5 201.8 200.4 201.3 200.4 200.8 194.7 199.0 196.6 197.4 200.4 201.7 207.3 206.8 213.7 212.2 219.4 217.0 223.5 220.2 225.1ZM202.9 203.2L202.9 203.2M202.4 202.3L202.4 202.0 202.5 202.3ZM239.6 202.3L239.6 202.3ZM201.8 201.3L201.8 200.6 202.1 201.3ZM240.1 201.3L240.1 200.9 240.1 201.3" fill="none" stroke="#fedf88" stroke-width="0.7"/>
<path d="M227.3 309.7L230.4 301.2 234.2 295.8 239.0 286.6 241.4 280.6 243.3 274.0 243.4 279.6 242.8 279.9 243.0 287.9 242.5 288.2 242.7 296.4 242.1 296.7 242.2 299.4 243.3 297.4 245.7 291.0 247.8 281.8 249.2 272.0 249.7 263.1 249.2 259.7 246.5 248.6 245.1 245.1 243.1 242.2 238.7 238.4 233.1 235.2 230.0 233.8 229.5 234.1 228.4 233.2 224.1 233.0 219.9 233.2 218.8 234.1 218.3 233.8 215.2 235.2 209.6 238.4 205.2 242.2 203.2 245.1 201.9 248.2 199.1 259.7 198.7 263.1 199.1 271.7 200.5 281.5 202.6 290.7 205.0 297.1 206.1 299.1 206.2 296.7 205.6 296.4 205.8 288.2 205.3 287.9 205.5 279.9 204.9 279.6 205.0 273.5 206.8 279.9 209.3 286.3 214.1 295.5 218.0 301.2 221.2 309.7M204.5 271.1L204.5 271.1M217.8 234.6L217.8 234.6M230.5 234.6L230.5 234.6ZM218.3 234.4L218.5 234.3ZM230.0 234.4L230.1 234.3ZM218.8 233.7L218.7 233.7ZM229.5 233.7L229.4 233.7ZM220.4 233.1L220.4 233.0ZM227.9 233.1L227.8 233.0ZM220.4 225.1L223.3 224.5 228.2 220.7 234.4 214.0 240.3 206.4 243.8 200.4 242.7 197.5 241.2 195.5 240.8 200.4 240.2 200.7 240.2 201.3 239.6 201.6 239.7 202.3 238.5 203.9 239.5 200.4 239.1 199.1 237.5 197.5 235.3 197.1 221.0 198.6 205.6 197.3 203.8 198.2 202.6 200.1 203.8 203.9 203.4 203.9 202.2 202.3 202.3 201.6 201.7 201.3 201.7 200.7 201.1 200.4 200.8 195.6 199.7 196.9 198.2 200.4 203.3 208.6 212.8 219.7 217.6 223.8 220.4 225.1ZM206.1 208.3L206.1 208.3M205.6 207.4L205.6 207.3ZM205.0 206.7L205.0 206.3 205.2 206.7ZM204.5 205.8L204.5 205.3 204.5 205.8M237.4 205.8L237.4 205.4 237.5 205.8ZM204.0 204.8L204.0 204.2 204.3 204.8 204.0 204.8M238.0 204.8L238.0 204.4 238.0 204.8" fill="none" stroke="#fed778" stroke-width="0.7"/>
<path d="M224.1 306.3L227.1 301.2 232.3 295.2 237.6 286.3 241.3 277.1 243.8 267.1 243.9 271.1 243.3 271.4 243.5 279.6 242.9 279.9 243.1 287.9 242.6 288.2 242.7 294.5 245.0 288.8 247.9 276.1 249.0 263.1 248.7 260.0 246.2 249.2 243.6 243.5 238.8 238.7 230.5 234.1 230.0 234.5 228.2 233.7 228.4 233.3 219.9 233.3 220.1 233.7 218.3 234.5 217.8 234.1 213.0 236.5 207.9 240.0 204.7 243.5 202.5 247.9 199.7 260.0 199.4 265.0 200.9 278.4 204.0 290.5 205.6 294.2 205.7 288.2 205.2 287.9 205.4 279.9 204.8 279.6 205.0 271.4 204.4 271.1 204.5 266.5 207.0 276.8 210.7 286.0 215.9 294.8 221.4 301.2 224.1 306.3ZM216.2 235.6L216.2 235.6M232.1 235.6L232.1 235.6ZM216.7 235.3L216.7 235.3M231.6 235.3L231.6 235.2ZM217.2 235.0L217.4 234.9ZM231.1 235.0L231.1 234.9ZM217.8 234.7L218.0 234.6ZM230.5 234.7L230.7 234.6ZM218.3 234.1L218.2 234.0ZM230.0 234.1L229.9 234.0ZM219.9 224.9L223.1 224.5 226.6 221.9 231.3 217.2 236.8 210.5 240.9 204.5 243.1 200.4 241.2 196.5 240.9 200.4 240.3 200.7 239.2 203.2 238.0 204.2 238.1 204.8 236.9 206.4 236.4 206.4 238.7 200.4 237.7 198.8 236.4 198.1 233.7 197.9 221.0 199.2 208.2 198.0 205.6 198.2 204.2 199.1 203.4 200.4 206.1 207.3 205.6 207.4 204.3 205.8 204.4 205.1 203.8 204.8 203.9 204.2 202.7 203.2 201.6 200.7 201.0 200.4 200.8 196.6 200.5 196.9 198.9 200.4 203.1 207.7 207.9 214.0 212.7 219.4 216.9 223.2 219.7 224.8ZM215.6 221.3L215.7 221.3ZM226.3 221.3L226.3 221.3ZM213.5 218.8L213.5 218.8M213.0 218.1L213.0 218.1ZM228.9 218.1L228.9 218.1ZM212.5 217.5L212.5 217.5ZM229.5 217.5L229.5 217.5M210.9 215.3L210.9 215.3ZM231.1 215.3L231.1 215.3M210.3 214.7L210.5 214.6ZM231.6 214.7L231.6 214.6ZM209.8 213.7L209.8 213.7M209.3 213.1L209.4 213.1ZM232.7 213.1L232.7 213.1ZM208.7 212.1L208.8 212.1ZM233.2 212.1L233.2 212.1ZM208.2 211.5L208.2 211.1 208.4 211.5ZM233.7 211.5L233.8 211.5ZM207.7 210.5L207.7 210.2 207.8 210.5ZM234.2 210.5L234.2 210.5M207.1 209.9L207.1 209.3 207.5 209.9 207.1 209.9M234.8 209.9L234.8 209.4 234.8 209.9ZM206.6 209.0L206.6 208.4 206.9 208.9ZM235.3 209.0L235.3 208.5 235.3 209.0M206.1 208.4L206.1 207.4 206.6 208.3 206.1 208.4M235.8 208.3L235.4 208.3 235.8 207.5 235.9 208.3ZM236.4 207.4L235.9 207.3 236.4 206.5 236.5 207.3Z" fill="none" stroke="#fece65" stroke-width="0.7"/>
<path d="M224.1 299.9L226.8 298.2 229.8 295.2 236.8 284.7 241.1 274.2 243.8 262.8 244.0 271.1 243.4 271.4 243.6 279.6 243.0 279.9 243.2 287.9 242.7 288.2 242.7 290.7 245.3 283.7 247.2 274.9 248.1 267.6 248.2 261.9 245.3 247.6 243.6 244.1 241.4 241.3 238.5 238.7 234.5 236.2 231.1 234.5 231.1 235.1 227.3 233.5 221.5 233.4 217.2 235.1 217.2 234.5 210.7 238.1 206.3 241.9 203.8 245.7 202.6 249.2 200.3 260.0 200.2 266.3 201.3 275.6 203.2 284.1 205.6 290.4 205.6 288.2 205.1 287.9 205.3 279.9 204.7 279.6 204.9 271.4 204.3 271.1 204.5 261.8 207.0 273.3 211.4 284.2 218.3 294.7 221.1 297.7 224.1 299.9ZM214.6 236.6L214.6 236.6M233.7 236.6L233.8 236.5ZM215.1 236.3L215.3 236.2ZM233.2 236.3L233.3 236.2ZM215.6 236.0L215.8 235.9ZM232.7 236.0L232.8 235.9ZM216.2 235.7L216.4 235.6ZM232.1 235.7L232.2 235.6ZM216.7 235.4L216.7 235.4M231.6 235.4L231.7 235.2ZM217.8 234.4L217.6 234.3ZM230.5 234.4L230.4 234.3ZM219.9 233.4L219.9 233.3ZM228.4 233.4L228.4 233.3ZM219.9 224.8L223.1 224.5 223.6 223.7 224.9 223.2 224.6 222.9 225.2 223.0 228.1 220.3 234.4 213.1 239.4 206.1 242.0 201.3 242.3 200.4 241.2 197.5 241.0 200.4 240.4 200.7 239.3 203.2 238.1 204.2 237.7 205.8 236.5 206.7 236.0 208.3 234.9 209.3 234.9 209.9 234.2 210.6 233.8 210.5 236.4 205.4 237.7 201.6 237.8 200.4 236.4 199.0 233.7 198.6 221.0 199.7 208.7 198.8 205.9 199.1 204.4 200.4 204.5 202.0 206.1 206.4 209.2 212.1 208.7 212.2 208.0 211.5 208.2 210.8 207.0 209.9 207.1 209.3 205.9 208.3 206.0 207.7 204.8 206.7 204.8 206.1 204.2 205.8 203.8 204.2 202.6 203.2 201.5 200.7 200.9 200.4 200.8 197.7 199.8 200.7 201.6 204.5 205.2 209.9 213.8 220.3 216.7 223.0 217.2 222.8 217.0 223.2 217.4 223.5 219.9 224.8ZM216.7 222.2L216.7 222.2M215.6 221.4L215.6 221.1 215.6 221.4M226.3 221.4L226.5 221.3ZM215.1 220.7L215.3 220.7ZM226.8 220.7L226.9 220.7ZM214.6 220.1L214.6 220.1M227.3 220.1L227.5 220.0ZM214.1 219.5L214.2 219.4ZM227.9 219.4L228.0 219.4ZM213.5 218.8L213.5 218.5 213.7 218.8ZM228.4 218.8L228.4 218.5 228.4 218.8M213.0 218.2L213.0 217.8 213.3 218.1ZM228.9 218.2L228.9 217.8 229.1 218.1ZM212.5 217.6L212.5 217.0 212.8 217.5ZM229.5 217.6L229.5 217.1 229.6 217.5ZM211.9 216.6L212.1 216.5ZM230.0 216.6L230.1 216.5ZM211.4 216.0L211.4 215.5 211.7 215.9ZM230.5 216.0L230.5 215.6 230.6 215.9ZM210.9 215.3L210.9 214.7 211.2 215.3ZM231.1 215.3L230.8 215.3 231.1 214.8 231.2 215.3ZM210.3 214.7L210.3 213.9 210.8 214.6ZM231.6 214.7L231.2 214.6 231.6 214.0 231.7 214.6ZM209.8 213.7L209.8 213.1 210.2 213.7 209.8 213.7M232.1 213.7L231.8 213.7 232.1 213.2 232.2 213.7ZM209.3 213.1L209.3 212.3 209.8 213.1ZM232.7 213.1L232.2 213.1 232.7 212.4 232.8 213.1ZM233.2 212.2L232.8 212.1 233.2 211.5 233.2 212.2M233.7 211.5L233.2 211.5 233.7 210.6 233.7 211.5" fill="none" stroke="#fec754" stroke-width="0.7"/>
<path d="M224.1 296.9L227.5 294.5 232.1 289.3 235.3 284.6 238.0 279.3 240.7 272.3 242.8 264.7 243.5 260.0 243.5 254.3 243.9 254.3 244.1 271.1 243.5 271.4 243.7 279.6 243.1 279.9 243.3 285.8 244.9 280.9 246.5 274.1 247.6 261.9 245.1 248.2 243.6 244.8 241.4 241.6 238.6 239.0 234.8 236.5 232.1 235.1 233.9 236.5 233.7 236.8 227.3 233.7 221.5 233.6 218.8 234.4 214.6 236.8 214.4 236.5 216.2 235.1 211.5 237.8 207.2 241.3 204.4 245.4 203.0 249.2 201.1 258.7 200.7 263.1 201.5 271.4 202.9 278.7 205.0 285.4 205.2 279.9 204.6 279.6 204.8 271.4 204.2 271.1 204.4 254.3 204.8 254.3 204.9 260.0 205.6 264.5 207.5 271.7 210.1 278.7 213.0 284.3 216.0 288.8 220.4 294.0 223.8 296.7ZM205.0 252.3L204.9 250.5 205.3 250.5 205.0 252.0ZM243.3 251.9L243.3 250.4 243.3 251.9M205.6 249.1L205.6 248.2 205.6 249.1M242.7 248.9L242.7 248.2 242.7 248.9M206.1 247.1L206.1 247.0ZM242.2 247.0L242.2 247.0ZM206.6 245.7L206.7 245.4ZM241.7 245.6L241.7 245.4ZM207.1 244.5L207.3 244.1 207.1 244.5M241.2 244.4L241.2 244.1ZM207.7 243.5L207.7 243.5ZM208.2 242.7L208.2 242.7M240.1 242.6L240.1 242.5ZM208.7 241.9L208.8 241.9ZM209.3 241.3L209.3 241.3M209.8 240.7L209.8 240.7M238.5 240.6L238.5 240.6ZM210.3 240.1L210.5 240.0ZM238.0 240.1L238.0 240.0ZM211.4 239.1L211.5 239.0ZM236.9 239.1L236.9 239.0ZM212.5 238.3L212.7 238.1ZM235.8 238.3L235.8 238.3M213.0 237.9L213.1 237.8ZM235.3 237.9L235.4 237.8ZM213.5 237.5L213.5 237.5ZM234.8 237.5L234.8 237.5M216.7 235.0L216.4 234.9ZM231.6 235.1L231.4 234.9ZM217.2 234.7L217.1 234.6ZM231.1 234.7L231.0 234.6ZM221.0 224.8L224.1 223.7 224.8 223.2 224.7 222.7 225.6 222.6 226.6 221.6 225.9 221.3 226.3 220.9 227.0 221.3 232.9 214.6 240.3 203.5 241.7 200.4 241.2 198.9 241.1 200.4 239.9 201.6 239.4 203.2 238.2 204.2 237.8 205.8 236.1 207.7 236.1 208.3 235.0 209.3 235.0 209.9 233.9 210.8 234.0 211.5 232.8 212.4 232.9 213.1 231.7 214.0 231.9 214.6 230.5 216.0 230.0 215.9 233.7 209.9 236.2 204.5 236.8 201.6 236.2 200.1 233.2 199.4 222.6 200.2 208.7 199.5 206.1 200.1 205.3 201.6 206.0 204.8 208.7 210.5 212.4 216.5 211.9 216.6 210.1 214.6 210.2 214.0 209.0 213.1 209.1 212.4 207.9 211.5 208.0 210.8 206.9 209.9 207.0 209.3 205.8 208.3 205.9 207.7 204.7 206.7 203.7 204.2 202.5 203.2 202.0 201.6 200.8 200.4 200.8 199.2 200.4 200.4 201.9 203.9 209.1 214.6 215.0 221.3 215.6 220.9 216.0 221.3 215.3 221.6 216.4 222.6 217.2 222.6 217.1 223.2 217.8 223.7 220.9 224.8ZM217.8 223.2L217.8 223.2ZM224.1 223.2L224.2 223.2ZM216.7 222.3L216.7 222.3M225.2 222.3L225.4 222.2ZM216.2 221.7L216.2 221.7M225.7 221.7L225.7 221.7M215.1 220.8L214.8 220.7 215.1 220.2 215.5 220.7 215.1 220.8M226.8 220.8L226.5 220.7 226.8 220.3 227.1 220.7ZM214.6 220.1L214.6 219.6 215.0 220.0ZM227.3 220.1L227.0 220.0 227.3 219.6 227.6 220.0ZM214.1 219.5L214.1 218.9 214.4 219.4 214.1 219.5M227.9 219.5L227.5 219.4 227.9 218.9 227.9 219.5M213.5 218.9L213.5 218.2 214.0 218.8 213.5 218.9M228.4 218.9L228.0 218.8 228.4 218.2 228.7 218.8ZM213.0 218.3L212.2 217.5 212.5 216.7 213.5 218.1 213.0 218.3M228.9 218.2L228.5 218.1 229.5 216.7 229.7 217.5 229.1 217.8 229.2 218.1ZM230.0 216.6L229.6 216.5 230.0 216.0 230.2 216.5Z" fill="none" stroke="#febb47" stroke-width="0.7"/>
<path d="M224.1 294.0L228.9 290.3 232.7 286.0 236.3 280.3 239.2 273.9 241.7 266.4 243.0 260.0 243.2 253.6 242.3 248.2 242.9 248.2 242.8 250.1 243.4 250.5 243.3 253.9 244.0 254.3 244.2 271.1 243.6 271.4 243.8 279.6 243.2 279.9 243.3 282.1 245.9 272.7 246.9 265.7 247.0 260.9 244.7 248.2 243.4 245.1 241.3 241.9 238.7 239.4 235.1 236.8 234.2 236.3 233.7 236.9 228.9 234.3 226.3 233.8 220.4 234.0 214.6 236.9 214.1 236.3 209.6 239.4 206.5 242.5 204.3 246.3 203.1 250.5 201.4 260.0 201.3 263.5 202.6 273.3 205.0 281.7 205.1 279.9 204.5 279.6 204.7 271.4 204.1 271.1 204.3 254.3 205.0 253.9 204.9 250.5 205.5 250.1 205.4 248.2 206.1 248.2 205.2 253.6 205.4 260.0 206.6 266.0 209.0 273.3 212.1 279.9 215.6 285.7 219.4 290.1 223.9 293.9ZM206.1 248.2L205.9 246.7 206.5 246.7 206.2 247.9ZM242.2 248.0L241.8 246.7 242.3 246.7 242.2 247.9ZM206.6 246.4L206.5 245.4 207.0 245.4 206.6 246.3ZM241.7 246.3L241.3 245.4 241.8 245.4 241.7 246.0ZM207.1 245.1L207.0 244.1 207.6 244.1 207.2 245.1ZM241.2 245.0L240.7 244.1 241.3 244.1 241.2 245.0M207.7 244.0L207.6 243.5 208.0 243.5 207.8 243.8ZM240.6 243.9L240.4 243.5 240.7 243.5 240.6 243.9M208.2 243.1L208.1 242.5 208.6 242.5 208.2 243.1M240.1 243.0L239.8 242.5 240.1 242.9ZM208.7 242.3L208.6 241.9 209.0 241.9 208.8 242.2ZM239.6 242.2L239.3 241.9 239.6 242.2M209.3 241.6L209.3 241.6ZM239.0 241.5L238.8 241.3 239.0 241.5M209.8 240.9L210.1 240.6ZM238.5 240.9L238.2 240.6 238.5 240.9M210.3 240.4L210.2 240.0 210.7 240.0 210.3 240.4M238.0 240.3L237.6 240.0 238.1 240.0 238.0 240.3M210.9 239.8L211.0 239.7ZM237.4 239.8L237.5 239.7ZM211.4 239.3L211.2 239.0 211.7 239.0 211.4 239.3M236.9 239.3L236.6 239.0 237.0 239.0ZM211.9 238.9L212.1 238.7ZM236.4 238.9L236.4 238.7ZM212.5 238.4L212.2 238.1 212.9 238.1 212.5 238.4M235.8 238.4L235.4 238.1 236.0 238.1 235.8 238.4ZM213.0 238.0L213.3 237.8ZM235.3 238.0L235.0 237.8 235.5 237.8ZM213.5 237.6L213.8 237.5ZM234.8 237.6L234.9 237.5ZM214.1 237.3L214.2 237.1ZM234.2 237.3L234.3 237.1ZM214.6 236.3L214.2 236.2ZM233.7 236.3L233.5 236.2ZM215.1 236.0L214.8 235.9ZM233.2 236.0L233.0 235.9ZM215.6 235.7L215.4 235.6ZM232.7 235.7L232.5 235.6ZM216.2 235.3L216.0 235.2ZM232.1 235.3L232.0 235.2ZM216.7 235.0L216.6 234.9ZM231.6 235.0L231.5 234.9ZM219.9 224.5L222.0 224.6 224.1 223.6 224.0 223.2 224.7 222.5 225.5 222.6 224.9 222.2 225.2 221.9 225.7 222.3 226.5 221.6 225.5 221.6 230.6 214.6 234.8 206.6 235.8 202.6 235.6 201.3 234.8 200.5 232.1 200.2 219.9 200.8 209.3 200.3 207.7 200.6 206.6 201.3 206.3 202.9 206.8 205.1 210.3 212.7 216.5 221.6 215.5 221.6 216.2 222.3 216.7 221.9 217.0 222.2 216.5 222.6 217.2 222.5 218.0 223.2 217.6 223.5 219.7 224.5ZM217.2 223.2L217.2 223.2ZM224.7 223.2L224.6 223.2ZM215.1 221.3L215.4 221.0 214.8 221.0ZM226.8 221.3L227.1 221.0 226.5 221.0ZM214.6 220.7L214.9 220.3 214.2 220.3 214.5 220.7ZM227.3 220.7L227.7 220.3 227.0 220.3 227.3 220.7ZM214.1 220.2L214.4 219.7 213.6 219.7 213.9 220.0ZM227.9 220.2L235.1 211.2 240.6 201.6 240.0 201.6 239.5 203.2 237.8 205.1 237.9 205.8 236.7 206.7 236.2 208.3 235.1 209.3 235.1 209.9 234.0 210.8 234.1 211.5 232.9 212.4 233.0 213.1 231.8 214.0 232.0 214.6 229.6 216.9 229.9 217.5 227.5 219.7 227.7 220.0ZM213.5 219.6L213.8 219.1 213.1 218.8 212.7 217.8 212.0 217.8 213.3 219.4ZM211.9 217.8L212.3 216.9 209.9 214.6 210.1 214.0 208.9 213.1 209.0 212.4 207.8 211.5 207.9 210.8 206.8 209.9 206.9 209.3 204.6 206.7 204.6 206.1 204.0 205.8 203.6 204.2 202.4 203.2 201.9 201.6 201.4 201.6 201.8 202.6 204.6 207.7 211.7 217.5ZM240.6 201.5L240.9 200.7 240.6 201.3ZM201.3 201.3L201.2 201.0Z" fill="none" stroke="#feb13e" stroke-width="0.7"/>
<path d="M224.1 291.3L228.6 288.2 233.2 282.8 237.3 275.8 240.6 267.6 242.4 260.3 242.8 253.6 241.9 247.9 240.1 243.5 240.6 243.4 241.4 244.1 241.2 245.1 241.9 245.4 241.8 246.3 242.4 246.7 242.3 247.9 243.0 248.2 242.9 250.1 243.5 250.5 243.4 253.9 244.1 254.3 244.2 271.1 243.7 271.4 243.8 277.0 245.5 270.1 246.4 263.8 246.4 260.0 244.0 247.3 242.6 244.1 240.5 241.3 234.2 236.4 233.7 237.0 228.4 234.3 224.1 234.0 219.9 234.3 214.6 237.1 214.1 236.4 209.8 239.4 206.8 242.5 204.8 246.0 203.5 250.5 202.0 260.0 201.9 263.1 202.9 270.2 204.5 276.6 204.6 271.4 204.0 271.1 204.2 254.3 204.9 253.9 204.8 250.5 205.4 250.1 205.3 248.2 206.0 247.9 205.8 246.7 206.5 246.3 206.4 245.4 207.0 245.1 206.9 244.1 208.1 243.2 208.0 242.5 209.1 241.3 209.8 241.3 207.1 245.8 205.7 251.7 205.6 256.2 206.7 263.8 209.8 272.7 214.1 281.0 218.8 287.2 223.6 291.0ZM240.1 243.5L239.0 241.9 239.8 241.9 240.3 242.5 240.2 243.2ZM239.0 241.9L238.5 241.3 239.2 241.3 239.1 241.6ZM209.8 241.3L209.6 240.6 210.1 240.0 211.3 239.7 209.8 241.3M238.5 241.2L238.0 240.6 238.7 240.6 238.5 241.2M238.0 240.6L237.1 239.7 238.2 240.0 238.0 240.6M211.4 239.6L211.1 239.0 212.3 238.7 211.4 239.6M236.9 239.5L236.0 238.7 237.1 239.0 237.0 239.4ZM212.5 238.6L212.1 238.1 214.4 237.1 212.7 238.4ZM235.8 238.6L233.9 237.1 236.2 238.1 235.9 238.4ZM214.6 236.2L214.4 236.2ZM233.7 236.2L233.6 236.2ZM215.1 235.9L215.0 235.9ZM233.2 235.9L233.1 235.9ZM215.6 235.6L215.6 235.6ZM232.7 235.6L232.6 235.6ZM221.0 224.5L223.1 223.9 226.3 220.4 230.0 215.0 233.2 209.1 234.6 205.1 234.8 202.7 233.7 201.4 231.6 201.0 221.0 201.4 210.3 201.2 208.3 201.6 207.5 202.6 207.4 204.5 208.2 207.3 211.9 214.9 217.2 222.3 219.4 224.2 220.6 224.5ZM217.8 223.6L217.7 223.5ZM224.1 223.6L223.9 223.5ZM216.7 222.7L216.6 222.6ZM225.2 222.7L225.0 222.6ZM216.2 222.2L216.5 221.9 215.9 221.9ZM225.7 222.2L226.0 221.9 225.4 221.9ZM215.6 221.7L215.6 221.6ZM226.3 221.7L226.2 221.6ZM215.1 221.1L215.0 221.0ZM226.8 221.1L226.7 221.0ZM214.6 220.6L214.4 220.3ZM227.3 220.6L227.6 220.3 227.2 220.3ZM214.1 220.0L214.2 219.7 213.8 219.7ZM227.9 220.0L228.1 219.7 227.7 219.7ZM228.4 219.4L228.7 219.1 228.2 219.1 228.4 219.4ZM213.5 219.4L213.7 219.1 213.3 219.1ZM213.0 218.8L213.2 218.4 212.7 218.4 213.0 218.8ZM228.9 218.8L229.2 218.4 228.8 218.4 228.9 218.8ZM212.5 218.1L212.6 217.8 212.2 217.8 212.4 218.1ZM229.5 218.2L229.8 217.8 229.3 217.8 229.4 218.1ZM211.9 217.5L212.2 216.9 211.4 216.9 211.9 217.5ZM230.0 217.5L231.0 216.2 230.3 216.2 229.7 216.9 230.0 217.5ZM211.4 216.8L211.6 216.2 210.9 216.2 211.2 216.5ZM210.9 216.2L211.0 215.6 210.4 215.6 210.7 215.9ZM231.1 216.2L231.5 215.6 230.9 215.6 231.0 215.9ZM210.3 215.5L210.5 215.0 209.9 215.0 210.2 215.3ZM231.6 215.5L232.0 215.0 231.4 215.0 231.5 215.3ZM209.8 214.8L210.0 214.0 208.8 213.4 209.7 214.6ZM232.1 214.8L233.2 213.4 232.5 213.4 231.9 214.0 232.1 214.6ZM208.7 213.3L208.9 212.4 208.4 211.8 207.7 211.8 208.6 213.1ZM233.2 213.4L236.3 208.6 235.2 209.3 235.3 209.9 234.1 210.8 234.2 211.5 233.0 212.4 233.1 213.1ZM207.7 211.8L207.8 210.8 206.6 210.2 207.5 211.5ZM206.6 210.2L206.8 209.3 205.6 208.6 206.4 209.9ZM205.6 208.5L205.7 207.7 205.1 207.7 205.5 208.3ZM236.4 208.6L237.8 206.1 236.8 206.7 236.3 208.3ZM205.0 207.6L205.1 207.0 204.7 207.0 204.9 207.3ZM204.5 206.6L204.5 206.1 204.2 206.1 204.3 206.4ZM238.0 205.8L238.3 205.1 237.9 205.1 238.0 205.8ZM204.0 205.7L204.0 205.1 203.7 205.1 203.8 205.4ZM238.5 204.8L238.8 204.2 238.4 204.2 238.5 204.8ZM203.4 204.7L203.3 204.5ZM202.9 203.6L202.9 203.5ZM239.0 203.8L239.0 203.5ZM239.6 202.6L239.6 202.6Z" fill="none" stroke="#fea433" stroke-width="0.7"/>
<path d="M224.1 289.0L226.8 287.4 229.5 285.1 234.8 278.1 239.2 269.2 241.9 260.0 242.5 253.6 241.8 248.9 240.6 245.1 239.0 242.3 236.9 239.8 231.1 235.6 227.9 234.4 221.0 234.4 218.8 234.8 215.6 236.5 211.9 239.4 208.9 242.9 207.1 246.7 206.1 251.6 206.0 256.2 206.7 261.2 208.3 266.6 210.9 272.8 213.5 277.8 216.7 282.5 220.4 286.4 223.8 288.8ZM243.8 273.5L245.2 267.6 245.9 261.9 244.3 249.5 243.1 245.7 241.2 242.5 237.9 239.0 236.4 237.9 236.1 238.4 238.3 240.0 238.7 241.0 240.4 242.5 240.3 243.2 241.5 244.1 241.3 245.1 242.0 245.4 241.9 246.3 242.5 246.7 242.4 247.9 243.1 248.2 242.9 250.1 243.6 250.5 243.5 253.9 244.2 254.3 244.3 271.1 243.8 271.4 243.8 273.3ZM204.5 273.1L204.5 271.4 204.0 271.4 204.5 273.0ZM204.0 271.1L204.1 254.3 204.8 253.9 204.7 250.5 205.3 250.1 205.2 248.2 205.9 247.9 205.8 246.7 206.4 246.3 206.3 245.4 207.0 245.1 206.8 244.1 208.0 243.2 207.9 242.5 209.6 241.0 210.0 240.0 212.2 238.4 211.9 237.9 211.3 238.4 207.3 242.2 205.4 245.4 204.2 248.9 202.5 260.0 202.7 264.4 203.9 271.1ZM212.5 237.9L212.1 237.8ZM235.8 237.9L235.7 237.8ZM213.0 237.6L214.3 236.8 214.1 236.5 212.6 237.5ZM235.3 237.6L235.7 237.5 234.2 236.5 234.0 236.8 235.1 237.5ZM219.9 224.2L222.6 224.0 224.1 222.7 227.3 218.6 230.5 213.4 232.7 209.0 233.8 205.4 233.6 203.2 232.1 202.1 211.9 202.0 209.8 202.4 208.7 203.2 208.4 204.8 208.7 207.0 211.4 213.3 216.2 220.8 218.3 223.2 219.7 224.1ZM216.2 222.0L216.1 221.9ZM225.7 222.0L225.6 221.9ZM214.6 220.4L214.6 220.3ZM227.3 220.4L227.3 220.3ZM214.1 219.8L214.0 219.7ZM227.9 219.8L227.8 219.7ZM213.5 219.2L213.5 219.1ZM228.4 219.2L228.3 219.1ZM213.0 218.5L212.9 218.4ZM228.9 218.5L228.9 218.4ZM212.5 217.9L212.4 217.8ZM229.5 217.9L229.4 217.8ZM211.9 217.2L212.1 216.9 211.7 216.9 211.9 217.2ZM230.0 217.2L230.3 216.9 229.9 216.9 230.0 217.2ZM230.5 216.5L230.8 216.2 230.5 216.5ZM211.4 216.5L211.2 216.2ZM210.9 215.8L210.7 215.6ZM231.1 215.8L231.0 215.6ZM210.3 215.1L210.2 215.0ZM231.6 215.1L231.5 215.0ZM209.8 214.3L209.8 214.3ZM232.1 214.4L232.4 214.0 232.1 214.3ZM209.3 213.6L209.1 213.4ZM232.7 213.7L232.6 213.4ZM208.7 212.8L208.7 212.7ZM233.2 212.9L233.5 212.4 233.2 212.7ZM208.2 212.0L208.1 211.8ZM233.7 212.1L233.7 211.8ZM207.7 211.2L207.6 211.2ZM234.2 211.3L234.5 210.8 234.2 211.2ZM207.1 210.4L207.0 210.2ZM234.8 210.5L234.7 210.2ZM235.3 209.6L235.3 209.6ZM206.6 209.5L206.5 209.3ZM235.8 208.7L235.8 208.6ZM205.6 207.7L205.5 207.7ZM236.4 207.8L236.4 207.7ZM236.9 206.9L236.9 206.7Z" fill="none" stroke="#fe9829" stroke-width="0.7"/>
<path d="M224.1 286.8L226.8 285.3 230.0 282.3 235.3 275.0 240.1 264.5 242.0 256.2 242.2 253.6 241.7 249.8 239.6 243.6 235.9 239.0 231.1 235.8 227.9 234.7 221.0 234.7 218.3 235.3 215.6 236.7 211.9 239.5 209.3 242.7 207.7 246.0 206.5 250.8 206.2 253.6 207.0 260.0 210.9 270.6 213.5 275.6 216.7 280.2 220.4 284.2 223.7 286.6ZM244.3 267.9L245.3 260.0 244.0 249.5 241.6 243.5 238.7 240.0 238.3 240.3 240.5 242.5 240.3 243.2 241.6 244.1 241.4 245.1 242.1 245.4 242.0 246.3 242.6 246.7 242.5 247.9 243.2 248.2 243.0 250.1 243.7 250.5 243.6 253.9 244.2 254.3 244.3 267.9ZM204.0 267.5L204.0 254.3 204.7 253.9 204.6 250.5 205.2 250.1 205.1 248.2 205.8 247.9 205.7 246.7 206.3 246.3 206.2 245.4 206.9 245.1 206.7 244.1 209.5 241.0 209.3 240.3 206.5 243.8 204.3 249.8 203.0 260.0 203.9 267.3ZM209.8 240.4L209.8 239.8 209.3 240.3ZM210.3 239.8L211.1 239.4 210.9 238.9 210.0 239.7ZM238.0 239.8L238.4 239.7 237.4 238.9 237.2 239.4 237.8 239.7ZM211.4 238.8L211.4 238.5 211.1 238.7ZM236.9 238.8L236.8 238.7ZM211.9 238.5L211.9 238.1 211.5 238.4ZM236.4 238.5L236.8 238.4 236.4 238.1 236.2 238.4ZM212.5 237.8L212.4 237.8ZM235.8 237.8L235.8 237.8ZM213.0 237.5L212.8 237.5ZM235.3 237.5L235.2 237.5ZM213.5 237.2L213.3 237.1ZM234.8 237.2L234.6 237.1ZM214.1 236.9L213.8 236.8ZM234.2 236.9L234.1 236.8ZM219.9 223.9L222.6 223.8 224.1 222.5 230.0 213.6 232.1 208.7 232.8 205.8 232.3 203.9 230.6 202.9 213.5 202.9 211.3 203.2 209.8 204.3 209.5 205.8 209.7 207.7 211.9 213.4 216.2 220.5 219.5 223.8ZM211.9 216.9L211.9 216.9ZM230.0 216.9L230.0 216.9Z" fill="none" stroke="#f98e23" stroke-width="0.7"/>
<path d="M223.6 284.4L224.1 284.7 225.2 284.2 228.4 281.8 231.6 278.4 234.2 274.7 239.6 264.0 241.5 256.2 241.8 253.6 241.4 250.1 239.6 244.1 236.9 240.3 232.1 236.5 229.5 235.3 226.8 235.0 220.4 235.0 217.2 236.0 213.5 238.4 210.3 241.6 208.3 245.4 207.1 249.5 206.6 253.6 207.6 260.0 210.9 268.6 213.5 273.5 216.7 278.2 219.9 281.7 223.5 284.4ZM244.3 264.4L244.8 260.0 244.3 254.0 244.3 264.1ZM204.0 263.9L204.0 254.3 203.5 260.0 203.9 263.8ZM204.5 254.0L204.5 250.5 204.0 253.9ZM243.8 254.0L244.3 253.9 243.8 250.3 243.7 253.9ZM205.0 250.2L205.0 248.1 204.6 250.1ZM243.3 250.2L243.8 250.1 243.3 248.0 243.1 250.1ZM205.6 248.0L205.6 246.5 205.1 247.9ZM242.7 248.0L243.3 247.9 242.7 246.4 242.6 247.9ZM206.1 246.4L206.1 245.2 205.6 246.3ZM242.2 246.4L242.7 246.3 242.2 245.1 242.1 246.3ZM206.6 245.1L206.6 244.2 206.1 245.1ZM241.7 245.2L242.2 245.1 241.7 244.1 241.5 245.1ZM207.1 243.9L207.1 243.3 206.8 243.8ZM241.2 243.9L241.5 243.8 241.2 243.2 241.0 243.8ZM207.7 243.3L207.7 242.5 207.2 243.2ZM240.6 243.3L241.1 243.2 240.6 242.4 240.4 243.2ZM208.2 242.3L208.2 241.8 207.9 242.2ZM240.1 242.3L240.5 242.2 240.1 241.8 240.0 242.2ZM208.7 241.7L208.7 241.2 208.4 241.6ZM239.6 241.7L240.0 241.6 239.6 241.1 239.4 241.6ZM209.3 241.0L209.3 240.6 208.9 241.0ZM239.0 241.0L239.4 241.0 239.0 240.6 238.9 241.0ZM209.8 240.4L209.8 240.1 209.5 240.3ZM238.5 240.4L238.5 240.0 238.4 240.3ZM210.3 239.7L210.2 239.7ZM238.0 239.7L237.9 239.7ZM210.9 239.4L210.9 239.1 210.6 239.4ZM237.4 239.4L237.8 239.4 237.4 239.1 237.3 239.4ZM211.4 238.8L211.3 238.7ZM236.9 238.8L236.9 238.7ZM211.9 238.5L211.7 238.4ZM236.4 238.5L236.3 238.4ZM213.5 237.2L213.5 237.1ZM234.8 237.2L234.8 237.1ZM214.1 236.9L214.0 236.8ZM234.2 236.9L234.2 236.8ZM219.9 223.6L222.0 223.6 223.6 222.7 226.3 219.2 229.5 213.6 231.1 209.6 231.6 206.7 231.1 204.9 229.5 203.9 224.7 203.5 215.6 203.7 212.5 204.3 211.0 205.4 210.9 208.8 213.0 214.4 216.7 220.7 219.5 223.5Z" fill="none" stroke="#f4821d" stroke-width="0.7"/>
<path d="M224.1 282.6L226.8 281.1 229.5 278.8 234.5 272.3 239.2 263.1 241.2 255.6 241.4 253.6 240.9 249.5 239.0 243.8 235.8 239.6 231.1 236.2 227.9 235.4 221.5 235.4 218.8 235.7 216.2 236.8 213.0 239.1 210.2 242.2 208.4 246.0 207.3 250.5 207.0 253.6 208.2 260.0 211.4 267.7 217.2 276.8 220.4 280.1 223.9 282.5ZM204.5 254.0L204.5 252.6 204.3 253.9ZM243.8 254.0L243.8 252.3 243.8 253.9ZM205.0 250.2L205.0 249.4 204.9 250.1ZM243.3 250.2L243.3 249.2 243.2 250.1ZM205.6 247.9L205.6 247.4 205.4 247.9ZM242.7 248.0L242.7 247.3 242.7 247.9ZM206.1 246.4L206.1 245.9 205.9 246.3ZM242.2 246.4L242.2 245.8 242.2 246.3ZM206.6 245.1L206.6 244.7 206.4 245.1ZM241.7 245.1L241.7 244.6 241.6 245.1ZM207.1 243.8L207.1 243.8ZM241.2 243.8L241.1 243.8ZM207.7 243.2L207.7 242.9 207.5 243.2ZM240.6 243.2L240.6 242.8 240.5 243.2ZM208.2 242.2L208.1 242.2ZM240.1 242.2L240.1 242.2ZM208.7 241.6L208.6 241.6ZM239.6 241.6L239.5 241.6ZM209.3 241.0L209.2 241.0ZM239.0 241.0L239.0 241.0ZM209.8 240.3L209.8 240.3ZM238.5 240.3L238.5 240.3ZM210.9 239.4L210.8 239.4ZM237.4 239.4L237.4 239.4ZM236.4 238.4L236.4 238.4ZM221.0 223.2L223.1 222.7 225.2 220.2 228.4 214.5 230.2 208.9 230.1 206.7 229.0 205.4 227.3 204.8 223.6 204.4 214.6 205.1 212.8 206.1 212.0 207.7 212.8 212.1 215.6 218.3 218.3 222.2 219.4 223.0 220.8 223.2Z" fill="none" stroke="#f07818" stroke-width="0.7"/>
<path d="M224.1 280.6L228.9 277.4 234.2 270.8 238.5 263.0 240.7 255.5 241.0 253.6 240.6 250.3 239.0 244.4 235.9 240.0 231.6 236.8 228.4 235.9 222.6 235.8 218.8 236.1 216.2 237.1 213.0 239.4 210.4 242.5 208.8 246.0 207.8 249.8 207.4 253.6 207.8 256.2 208.8 260.0 211.4 265.9 214.6 271.3 217.8 275.5 221.0 278.6 224.1 280.6ZM220.4 222.3L222.6 222.1 224.1 220.7 226.8 216.1 228.4 212.0 228.8 209.6 228.4 207.7 226.9 206.4 224.6 205.8 221.0 205.5 217.1 206.1 214.9 207.0 213.8 208.6 213.9 212.1 215.6 216.8 218.3 221.2 220.2 222.2Z" fill="none" stroke="#e96d13" stroke-width="0.7"/>
<path d="M223.6 278.4L224.7 278.5 227.9 276.4 233.2 270.5 237.6 263.1 240.1 255.9 240.5 253.6 240.2 250.8 238.6 244.4 235.8 240.3 232.1 237.4 229.5 236.5 225.2 236.2 219.4 236.4 216.7 237.2 213.5 239.3 211.4 241.7 209.8 244.4 208.6 248.2 207.9 253.6 209.5 260.0 210.9 263.1 214.1 268.7 217.2 273.0 220.4 276.2 223.6 278.4ZM220.4 219.8L222.0 219.8 223.6 218.8 226.3 214.0 226.6 209.9 225.7 208.4 224.1 207.5 221.5 207.1 218.8 207.5 216.9 208.6 215.9 210.2 215.8 212.4 216.7 215.6 218.3 218.3 220.1 219.7Z" fill="none" stroke="#e1640e" stroke-width="0.7"/>
<path d="M223.6 276.5L225.2 276.3 227.9 274.5 233.2 268.7 238.0 260.6 240.0 253.6 239.3 248.2 238.0 244.1 235.3 240.3 232.1 237.9 229.5 237.0 225.2 236.7 219.9 236.9 216.7 237.7 214.1 239.3 211.9 241.6 210.3 244.3 209.2 247.6 208.4 253.6 210.9 261.4 214.1 266.9 217.2 271.1 220.4 274.3 223.6 276.5ZM221.0 214.1L222.4 213.7 223.2 212.4 223.1 210.8 222.0 209.7 220.6 209.9 219.7 211.2 219.7 212.7 220.8 214.0Z" fill="none" stroke="#d85a09" stroke-width="0.7"/>
<path d="M223.6 274.6L225.2 274.4 227.9 272.7 233.2 267.0 237.5 260.0 239.4 253.6 238.7 247.9 237.4 244.1 235.3 240.9 232.1 238.4 229.5 237.6 225.2 237.3 219.9 237.6 216.7 238.3 214.6 239.5 212.5 241.6 210.9 244.3 209.8 247.6 209.0 253.6 211.0 260.0 214.1 265.2 217.2 269.3 220.4 272.5 223.6 274.6Z" fill="none" stroke="#d05104" stroke-width="0.7"/>
<path d="M223.6 272.7L224.7 272.8 227.3 271.3 232.7 265.9 236.6 260.0 238.7 253.6 238.0 247.9 236.9 244.3 234.8 241.1 232.1 239.2 229.5 238.4 225.2 238.0 217.2 238.8 215.1 239.9 213.0 241.9 210.8 246.7 209.8 253.6 211.9 260.0 217.8 268.1 221.0 271.1 223.5 272.7Z" fill="none" stroke="#c44802" stroke-width="0.7"/>
<path d="M223.6 270.8L224.7 270.9 227.3 269.4 232.1 264.8 235.6 260.0 237.8 253.6 237.3 248.9 236.4 245.1 234.7 242.2 232.1 240.1 229.5 239.2 225.7 238.9 217.8 239.6 215.6 240.5 214.1 241.9 211.7 246.3 210.7 253.6 212.9 260.0 218.3 266.9 223.5 270.7Z" fill="none" stroke="#b84203" stroke-width="0.7"/>
<path d="M223.6 268.9L224.7 269.0 226.8 268.0 231.6 263.7 234.5 260.0 236.4 254.9 236.7 253.6 236.5 250.5 235.3 245.4 233.7 242.7 231.4 241.0 225.7 239.8 218.8 240.4 215.1 242.4 212.9 246.3 211.9 253.6 214.1 260.0 218.8 265.6 223.4 268.8Z" fill="none" stroke="#a93c03" stroke-width="0.7"/>
<path d="M223.6 267.1L224.7 267.1 226.3 266.4 230.5 263.0 233.1 260.0 234.8 255.6 235.2 253.0 234.2 246.7 232.7 243.7 230.1 241.9 224.7 240.9 219.4 241.6 216.2 243.6 214.3 247.3 213.4 253.6 215.5 260.0 219.4 264.2 223.4 266.9Z" fill="none" stroke="#9c3604" stroke-width="0.7"/>
<path d="M223.6 265.1L224.7 265.2 226.3 264.5 230.0 261.6 231.6 260.0 232.9 256.2 233.3 253.3 232.4 247.6 231.1 245.0 228.6 243.2 224.1 242.4 220.2 243.2 217.6 245.1 216.0 248.6 215.4 253.9 217.1 260.0 220.4 263.2 223.4 265.0Z" fill="none" stroke="#8e3104" stroke-width="0.7"/>
<path d="M223.6 263.2L225.7 262.9 229.5 260.1 230.9 256.2 231.0 253.0 230.1 248.6 228.8 246.3 226.8 244.9 223.6 244.5 221.0 245.5 219.1 247.6 218.1 250.8 217.9 255.8 219.1 260.0 223.6 263.1Z" fill="none" stroke="#812d05" stroke-width="0.7"/>
<path d="M224.1 261.3L227.1 260.0 228.3 256.2 227.6 250.8 226.7 249.2 225.2 248.1 223.6 248.1 222.0 249.3 220.6 253.9 220.5 256.2 221.7 260.0 224.1 261.2Z" fill="none" stroke="#732905" stroke-width="0.7"/>
<path d="M91.3 296.73H357.0M91.3 290.05H357.0M91.3 283.38H357.0M91.3 276.71H357.0M91.3 270.03H357.0M91.3 263.36H357.0M91.3 256.68H357.0M91.3 250.01H357.0M91.3 243.34H357.0M91.3 236.66H357.0M91.3 229.99H357.0M91.3 223.32H357.0M91.3 216.64H357.0M91.3 209.97H357.0M91.3 203.29H357.0M91.3 196.62H357.0M91.3 189.95H357.0M91.3 183.27H357.0" stroke="#000" stroke-opacity="0.26" stroke-width="0.60" fill="none"/>
<path d="M96.72 176.6V303.4M102.14 176.6V303.4M107.57 176.6V303.4M112.99 176.6V303.4M118.41 176.6V303.4M123.83 176.6V303.4M129.26 176.6V303.4M134.68 176.6V303.4M140.10 176.6V303.4M145.52 176.6V303.4M150.95 176.6V303.4M156.37 176.6V303.4M161.79 176.6V303.4M167.21 176.6V303.4M172.64 176.6V303.4M178.06 176.6V303.4M183.48 176.6V303.4M188.90 176.6V303.4M194.33 176.6V303.4M199.75 176.6V303.4M205.17 176.6V303.4M210.59 176.6V303.4M216.02 176.6V303.4M221.44 176.6V303.4M226.86 176.6V303.4M232.28 176.6V303.4M237.71 176.6V303.4M243.13 176.6V303.4M248.55 176.6V303.4M253.97 176.6V303.4M259.40 176.6V303.4M264.82 176.6V303.4M270.24 176.6V303.4M275.66 176.6V303.4M281.09 176.6V303.4M286.51 176.6V303.4M291.93 176.6V303.4M297.35 176.6V303.4M302.78 176.6V303.4M308.20 176.6V303.4M313.62 176.6V303.4M319.04 176.6V303.4M324.47 176.6V303.4M329.89 176.6V303.4M335.31 176.6V303.4M340.73 176.6V303.4M346.16 176.6V303.4M351.58 176.6V303.4" stroke="#000" stroke-opacity="0.1" stroke-width="0.60" fill="none"/>
<path d="M332.8 201.8h.01M116.0 232.6h.01M339.5 263.0h.01M272.3 260.8h.01M112.1 188.7h.01M268.5 270.1h.01M229.8 271.6h.01M223.0 237.6h.01M279.2 210.8h.01M319.4 294.8h.01M262.9 226.3h.01M180.0 261.1h.01M348.8 235.8h.01M200.7 262.5h.01M121.7 265.2h.01M291.9 234.1h.01M288.1 249.9h.01M251.7 266.9h.01M98.4 207.0h.01M280.0 240.1h.01M175.5 224.2h.01M121.7 279.6h.01M154.2 291.6h.01M323.2 217.8h.01M173.9 278.3h.01M286.3 192.4h.01M196.0 302.3h.01M231.7 254.7h.01M348.4 251.5h.01M229.3 214.0h.01M253.1 292.9h.01M161.3 211.2h.01M134.3 200.0h.01M230.3 281.5h.01M319.8 235.5h.01M195.3 191.6h.01M196.7 209.1h.01M126.2 274.5h.01M344.7 213.9h.01M293.7 212.4h.01M275.3 288.8h.01M158.3 204.4h.01M261.5 301.3h.01M148.1 205.6h.01M189.4 299.6h.01M314.8 245.3h.01M233.4 196.2h.01M126.9 241.6h.01M250.6 235.9h.01M259.8 270.2h.01M294.3 222.0h.01M267.8 302.6h.01M253.2 274.7h.01M267.3 220.8h.01M156.2 280.9h.01M311.7 292.1h.01M111.9 209.1h.01M249.3 186.5h.01M207.1 239.2h.01M288.2 203.4h.01M112.0 229.0h.01M323.7 224.8h.01M327.8 285.9h.01M148.0 251.4h.01M355.3 232.2h.01M271.4 204.1h.01M198.6 181.7h.01M307.3 249.4h.01M313.7 280.3h.01M333.1 241.2h.01M231.6 302.5h.01M132.2 287.0h.01M238.4 202.6h.01M99.9 256.5h.01M342.2 193.1h.01M333.3 197.7h.01M279.8 292.4h.01M325.7 236.5h.01M311.4 183.5h.01M240.9 293.9h.01M179.9 190.7h.01M311.5 189.3h.01M177.6 215.8h.01M354.4 203.2h.01M326.7 250.1h.01M352.3 226.1h.01M253.7 178.7h.01M203.1 276.1h.01M322.8 293.7h.01M102.4 242.7h.01M112.9 179.5h.01M330.2 196.9h.01M213.8 274.7h.01M150.9 286.5h.01M150.3 206.2h.01M310.7 251.6h.01M206.5 219.9h.01M182.5 191.1h.01M225.5 202.3h.01M218.0 281.5h.01M99.7 240.8h.01M132.0 294.7h.01M274.8 281.2h.01M338.7 214.7h.01M109.2 205.0h.01M263.6 278.9h.01M210.5 299.9h.01M353.8 178.8h.01M327.0 256.5h.01M295.7 190.2h.01M317.0 186.1h.01M146.1 250.1h.01M325.2 268.9h.01M157.1 250.6h.01M253.9 194.0h.01M280.8 178.6h.01M198.0 301.1h.01M190.8 186.3h.01M299.9 233.9h.01M356.1 288.9h.01M159.3 292.2h.01M109.7 241.7h.01M244.6 279.4h.01M330.2 263.2h.01M313.9 183.5h.01M188.4 236.7h.01M233.4 272.0h.01M205.6 257.2h.01M275.8 284.1h.01M244.2 237.4h.01M260.9 298.2h.01M114.8 298.8h.01M345.1 194.1h.01M210.8 261.3h.01M280.1 285.4h.01M187.3 267.6h.01M183.3 228.0h.01M324.8 222.7h.01M177.4 288.9h.01M203.5 192.5h.01M308.0 251.1h.01M247.0 242.6h.01M289.1 228.2h.01M294.2 252.3h.01M257.1 185.2h.01M142.7 240.7h.01M175.8 295.7h.01M132.4 272.5h.01M221.8 302.5h.01M297.3 263.2h.01M222.1 245.6h.01M105.3 185.1h.01M192.8 194.4h.01M329.7 297.7h.01M106.6 183.0h.01M305.5 301.2h.01M315.9 210.1h.01M349.2 285.5h.01M202.6 283.6h.01M124.3 287.9h.01M215.0 201.0h.01M107.4 280.2h.01M141.2 189.7h.01M128.3 269.4h.01M193.9 181.6h.01M331.3 254.0h.01M329.8 228.5h.01M322.8 265.3h.01M162.7 293.8h.01M128.6 281.3h.01M279.3 228.7h.01M95.8 226.2h.01M99.7 293.8h.01M207.8 191.1h.01M99.8 242.5h.01M187.3 251.1h.01M349.0 245.0h.01M288.5 274.8h.01M263.7 250.4h.01M289.6 295.7h.01M294.5 293.4h.01M312.5 221.1h.01M324.8 235.2h.01M99.9 290.9h.01M203.6 267.9h.01M295.3 290.5h.01M186.1 202.7h.01M342.1 251.9h.01M133.1 187.3h.01M348.3 178.1h.01M243.9 270.8h.01M150.5 195.9h.01M325.7 250.8h.01M318.9 227.2h.01M176.3 287.0h.01M312.8 191.6h.01M302.4 229.6h.01M179.9 182.0h.01M212.1 215.6h.01M203.8 259.3h.01M140.8 233.8h.01M147.6 233.7h.01M134.1 281.0h.01M111.8 253.8h.01M252.7 302.4h.01M226.9 227.7h.01M261.6 277.9h.01M172.6 185.4h.01M131.7 234.7h.01M212.2 274.0h.01M205.8 254.7h.01M255.5 193.3h.01M271.1 212.7h.01M349.0 239.5h.01M316.2 250.5h.01M186.0 240.1h.01M133.7 243.1h.01M173.9 253.1h.01M240.6 268.1h.01M247.5 301.9h.01M95.7 231.1h.01M158.2 238.5h.01M103.1 185.7h.01M94.8 254.0h.01M219.1 265.0h.01M166.6 189.5h.01M345.6 266.9h.01M149.8 209.6h.01M167.7 292.7h.01M128.1 181.6h.01M186.6 279.0h.01M317.1 202.4h.01M127.0 284.6h.01M264.6 286.0h.01M307.8 188.6h.01M347.4 179.8h.01M189.2 298.4h.01M335.8 274.7h.01M174.2 179.9h.01M174.9 285.3h.01M212.9 287.8h.01M203.8 215.0h.01M197.8 301.2h.01M147.0 232.5h.01M154.6 257.9h.01M144.0 302.9h.01M254.9 290.4h.01M127.1 250.5h.01M267.4 282.9h.01M305.6 248.8h.01M127.2 196.3h.01M106.2 290.9h.01M140.2 206.6h.01M265.7 227.9h.01M303.9 229.5h.01M306.3 283.6h.01M123.8 290.0h.01M277.7 290.8h.01M113.7 218.2h.01M159.4 221.7h.01M340.7 233.3h.01M293.7 181.8h.01M349.1 199.1h.01M300.2 207.8h.01M347.1 273.4h.01M337.0 217.2h.01M205.5 222.4h.01M185.8 250.3h.01M226.3 301.6h.01M225.2 242.7h.01M225.8 222.7h.01M228.7 197.8h.01M225.8 274.1h.01M272.9 298.8h.01M314.7 213.0h.01M254.2 240.1h.01M196.2 279.8h.01M287.3 255.9h.01M126.8 240.4h.01M177.6 275.7h.01M143.8 248.2h.01M286.0 179.0h.01M95.5 192.7h.01M221.5 198.2h.01M140.5 231.0h.01M158.9 208.9h.01M264.6 237.1h.01M290.9 216.3h.01M115.7 244.1h.01M221.2 234.0h.01M316.8 247.0h.01M250.1 244.0h.01M232.8 230.6h.01M302.4 234.7h.01M275.4 245.9h.01M158.0 236.6h.01M103.3 243.2h.01M338.5 234.2h.01M278.6 232.1h.01M344.4 224.3h.01M176.6 235.7h.01M262.4 235.9h.01M243.4 239.0h.01M274.9 240.8h.01M294.8 232.5h.01M266.5 237.0h.01M166.2 233.6h.01M216.1 232.2h.01M128.2 250.8h.01M331.5 228.8h.01M148.6 232.4h.01M228.2 232.0h.01M107.0 246.1h.01M106.5 248.8h.01M184.7 238.7h.01M341.4 234.9h.01M248.1 225.8h.01M167.6 248.7h.01M116.6 252.8h.01M96.0 243.8h.01M152.8 239.9h.01M339.9 227.3h.01M291.9 221.1h.01M319.3 236.4h.01M294.2 245.3h.01M148.8 238.5h.01M107.0 236.1h.01M194.7 240.1h.01M283.1 234.5h.01M94.6 240.8h.01M331.9 239.0h.01M224.3 241.5h.01M289.7 244.1h.01M318.8 244.0h.01M267.3 233.7h.01M102.0 236.2h.01M304.5 221.2h.01M131.1 242.2h.01M203.3 245.2h.01M285.8 232.1h.01M322.1 236.6h.01M171.9 234.9h.01M179.7 235.5h.01M106.0 253.4h.01M233.0 232.3h.01M256.7 235.0h.01M162.1 242.3h.01M315.5 222.0h.01M285.3 224.8h.01M138.9 228.9h.01M273.9 242.4h.01M216.1 241.9h.01M336.8 226.4h.01M323.6 240.4h.01M301.7 238.3h.01M234.4 225.2h.01M300.8 227.1h.01M157.7 236.9h.01M225.8 236.0h.01M279.1 237.5h.01M225.0 239.9h.01M322.3 235.9h.01M255.8 227.7h.01M255.0 236.9h.01M236.6 233.4h.01M319.3 235.6h.01M155.6 254.1h.01M222.9 234.0h.01M212.0 246.4h.01M289.6 227.5h.01M109.5 251.3h.01M94.5 240.3h.01M311.9 232.6h.01M325.3 240.3h.01M201.7 232.6h.01M210.2 247.2h.01M227.9 240.2h.01M277.5 239.9h.01M173.4 241.6h.01M275.4 239.0h.01M218.1 234.1h.01M161.8 235.2h.01M126.6 251.7h.01M303.5 241.1h.01M150.6 242.5h.01M254.9 239.7h.01M127.1 238.9h.01M326.7 244.8h.01M173.7 234.7h.01M215.5 233.0h.01M312.5 234.3h.01M319.8 241.7h.01M159.3 239.7h.01M178.0 242.5h.01M288.6 230.8h.01M242.0 237.2h.01M318.5 228.3h.01M345.6 222.7h.01M120.1 247.5h.01M254.5 232.9h.01M330.5 242.0h.01M161.9 239.0h.01M326.4 238.4h.01M218.4 240.5h.01M168.7 238.3h.01M276.6 221.3h.01M334.8 232.2h.01M169.6 245.5h.01M142.1 234.4h.01M306.6 225.8h.01M306.1 222.2h.01M239.0 242.7h.01M227.0 230.6h.01M170.5 232.1h.01M334.3 230.7h.01M133.5 259.7h.01M96.4 245.7h.01M101.8 230.4h.01M253.9 247.4h.01M135.2 244.0h.01M120.0 239.3h.01M153.3 229.6h.01M335.1 243.4h.01M217.2 232.3h.01M265.8 243.8h.01M140.9 228.4h.01M331.0 229.0h.01M204.4 254.7h.01M216.5 235.3h.01M180.4 240.9h.01M228.8 217.7h.01M113.1 242.7h.01M241.9 242.8h.01M303.6 232.1h.01M217.0 239.7h.01M164.6 241.5h.01M122.2 241.6h.01M142.1 235.4h.01M125.2 248.5h.01M316.2 230.1h.01M341.0 235.0h.01M185.7 231.5h.01M262.7 230.7h.01M111.4 247.7h.01M292.2 232.2h.01M308.3 220.9h.01M319.1 223.0h.01M220.9 237.9h.01M253.5 245.2h.01M298.0 230.4h.01M133.2 239.1h.01M282.9 234.8h.01M138.8 243.7h.01M236.5 231.6h.01M98.8 236.7h.01M331.0 243.6h.01M176.8 230.0h.01M99.5 230.6h.01M158.1 240.4h.01M299.8 231.5h.01M306.4 228.6h.01M290.9 243.7h.01M323.3 229.2h.01M324.6 229.6h.01M310.8 230.5h.01M334.5 241.8h.01M269.4 225.9h.01M128.3 239.9h.01M237.8 244.2h.01M324.7 224.1h.01M159.8 232.4h.01M348.6 235.9h.01M221.8 243.9h.01M337.6 224.7h.01M248.5 250.7h.01M116.9 234.8h.01M297.8 234.4h.01M158.0 239.9h.01M175.7 237.0h.01M142.2 247.4h.01M319.1 235.8h.01M139.9 248.2h.01M193.5 228.6h.01M279.3 243.3h.01M112.4 246.1h.01M321.1 234.8h.01M111.5 241.4h.01M223.5 232.5h.01M154.9 234.7h.01M117.5 243.1h.01M227.3 239.8h.01M285.1 234.3h.01M306.9 228.3h.01M128.5 236.4h.01M211.0 241.2h.01M275.4 229.0h.01M189.6 237.0h.01M329.9 230.3h.01M237.6 240.1h.01M92.5 250.4h.01M237.0 238.3h.01M143.5 244.2h.01M285.6 243.8h.01M271.5 237.2h.01M311.4 233.2h.01M160.6 252.8h.01M304.0 235.0h.01M337.4 232.9h.01M271.1 243.0h.01M288.5 245.4h.01M130.3 245.9h.01M179.3 235.9h.01M124.0 243.6h.01M93.6 239.5h.01M95.6 243.0h.01M329.5 234.5h.01M112.3 237.2h.01M126.5 243.7h.01M330.4 226.9h.01M203.5 230.8h.01M130.8 235.9h.01M341.9 225.4h.01M307.9 228.6h.01M174.1 233.6h.01M313.1 230.7h.01M141.5 239.9h.01M141.6 240.2h.01M298.3 236.2h.01M324.5 232.9h.01M100.7 240.2h.01M165.3 246.7h.01M201.2 236.4h.01M335.8 242.4h.01M141.6 239.4h.01M286.5 227.2h.01M179.7 228.4h.01M210.1 235.6h.01M208.8 241.5h.01M134.7 248.0h.01M332.0 237.4h.01M303.5 233.4h.01M117.9 240.7h.01M263.1 235.7h.01M212.8 240.0h.01M103.3 241.0h.01M262.5 240.3h.01M188.0 250.0h.01M128.1 240.0h.01M340.7 231.0h.01M180.2 236.7h.01M137.8 246.7h.01M119.2 232.0h.01M170.5 244.2h.01M176.3 234.0h.01M203.2 237.5h.01M251.1 242.3h.01M111.5 234.9h.01M130.2 240.6h.01M129.9 239.6h.01M127.2 238.0h.01M230.5 237.3h.01M337.6 229.2h.01M92.7 246.5h.01M201.6 237.8h.01M281.6 239.0h.01M187.5 243.0h.01M249.8 239.4h.01M244.6 236.4h.01M339.5 242.8h.01M244.4 235.7h.01M296.3 248.0h.01M212.9 241.1h.01M305.1 247.9h.01M344.5 243.7h.01M347.9 230.8h.01M109.8 240.9h.01M251.9 236.9h.01M292.4 239.3h.01M186.0 225.1h.01M348.7 237.3h.01M175.7 228.5h.01M235.6 233.0h.01M92.0 246.6h.01M329.1 224.9h.01M323.2 231.2h.01M302.7 240.2h.01M215.8 236.7h.01M130.9 247.1h.01M338.2 226.1h.01M158.6 242.1h.01M229.7 236.9h.01M100.8 237.6h.01M267.5 234.6h.01M182.7 248.6h.01M348.2 227.8h.01M291.5 228.3h.01M313.9 227.7h.01M123.6 230.7h.01M282.3 229.8h.01M307.6 223.4h.01M267.0 237.3h.01M191.5 227.6h.01M165.8 228.5h.01M220.0 232.6h.01M112.0 229.7h.01M195.0 233.1h.01M227.3 242.9h.01M181.2 231.7h.01M137.1 238.4h.01M278.5 232.3h.01M350.3 230.8h.01M270.5 226.6h.01M290.5 230.8h.01M270.3 239.7h.01M125.7 237.8h.01M174.2 234.6h.01M95.3 245.3h.01M267.7 239.2h.01M262.3 233.4h.01M120.4 234.6h.01M201.6 226.2h.01M293.2 226.6h.01M109.2 235.0h.01M311.1 226.1h.01M128.1 232.3h.01M309.1 235.8h.01M347.2 227.4h.01M193.6 236.5h.01M277.3 237.8h.01M328.0 235.7h.01M309.7 230.1h.01M276.1 235.1h.01M276.3 234.3h.01M195.7 236.3h.01M307.1 228.9h.01M120.7 244.8h.01M292.0 234.9h.01M302.8 243.9h.01M240.4 250.8h.01M127.2 253.1h.01M101.2 253.3h.01M107.9 238.5h.01M121.8 243.9h.01M232.0 226.8h.01M259.1 224.1h.01M204.1 232.2h.01M114.5 237.3h.01M273.6 239.7h.01M129.0 237.5h.01M103.2 244.5h.01M192.2 246.8h.01M110.9 249.5h.01M272.5 220.5h.01M277.1 238.3h.01M149.2 240.2h.01M93.4 247.7h.01M331.2 231.4h.01M319.0 234.4h.01M248.3 238.9h.01M94.2 250.7h.01M268.5 244.2h.01M138.2 245.1h.01M229.5 235.3h.01M207.8 224.8h.01M249.9 229.5h.01M349.7 228.6h.01M189.9 239.1h.01M335.0 240.5h.01M245.0 236.4h.01M221.0 251.1h.01M132.1 230.2h.01M287.9 232.2h.01M175.3 231.9h.01M193.0 240.8h.01M184.7 247.4h.01M99.7 244.7h.01M294.0 221.5h.01M153.1 244.5h.01M206.8 240.2h.01M275.4 235.8h.01M349.8 233.8h.01M330.3 240.1h.01M177.4 236.6h.01M209.8 245.5h.01M96.8 252.8h.01M188.3 245.0h.01M227.6 238.9h.01M110.8 244.1h.01M182.4 245.5h.01M122.1 252.0h.01M116.5 230.0h.01M231.7 235.3h.01M210.9 236.1h.01M267.0 231.7h.01M338.0 231.8h.01M216.1 230.0h.01M270.2 231.9h.01M281.9 232.5h.01M121.6 239.1h.01M155.8 232.3h.01M221.1 250.5h.01M112.0 242.0h.01M110.0 243.1h.01M152.0 252.3h.01M199.7 233.5h.01M202.9 243.4h.01M243.8 237.8h.01M213.8 240.8h.01M130.0 243.4h.01M318.9 244.4h.01M214.7 243.6h.01M307.9 235.3h.01M156.5 239.6h.01M171.7 238.7h.01M231.0 237.8h.01M154.8 236.9h.01M148.9 243.8h.01M263.2 236.5h.01M264.5 240.8h.01M186.1 238.3h.01M129.8 242.7h.01M207.7 239.2h.01M124.6 237.7h.01M99.1 234.5h.01M234.4 256.5h.01M258.0 233.6h.01M160.4 232.8h.01M258.8 223.1h.01M231.9 247.8h.01M143.9 244.0h.01M147.3 233.2h.01M307.1 225.7h.01M287.4 240.9h.01M294.1 217.9h.01M309.3 240.6h.01M313.2 233.5h.01M290.1 243.2h.01M245.5 227.9h.01M321.8 229.7h.01M107.7 240.7h.01M321.9 233.0h.01M99.9 240.4h.01M236.7 248.6h.01M127.3 234.3h.01M196.4 232.4h.01M289.2 234.2h.01M202.1 236.1h.01M132.6 230.4h.01M347.6 228.8h.01M287.7 233.9h.01M199.9 241.3h.01M302.0 243.0h.01M290.7 237.8h.01M244.6 235.8h.01M309.1 234.7h.01M213.8 232.8h.01M266.9 232.4h.01M341.2 227.6h.01M311.4 231.8h.01M172.5 239.2h.01M211.8 234.6h.01M188.4 249.4h.01M192.4 230.3h.01M158.6 247.6h.01M134.2 235.0h.01M108.4 241.1h.01M196.5 231.1h.01M297.1 233.2h.01M144.9 233.6h.01M102.2 236.2h.01M121.7 239.3h.01M300.9 243.3h.01M251.6 235.2h.01M117.3 229.5h.01M106.3 238.8h.01M286.8 234.7h.01M276.5 227.0h.01M150.7 240.4h.01M157.1 239.6h.01M209.4 236.6h.01M239.7 245.9h.01M281.2 228.3h.01M249.3 233.2h.01M220.0 239.1h.01M297.3 240.9h.01M220.8 235.9h.01M315.6 223.9h.01M95.7 246.1h.01M152.4 246.3h.01M181.9 248.7h.01M256.0 238.4h.01M328.1 233.9h.01M291.3 237.4h.01M139.6 237.9h.01M217.2 238.7h.01M114.4 243.8h.01M268.6 231.0h.01M351.7 225.2h.01M273.8 230.3h.01M187.6 259.3h.01M200.6 244.3h.01M337.1 230.5h.01M259.5 226.4h.01M230.3 235.8h.01M182.4 240.7h.01M186.6 243.2h.01M130.6 237.1h.01M131.5 243.2h.01M118.4 249.7h.01M246.1 236.8h.01M202.4 244.7h.01M310.3 225.0h.01M280.8 241.3h.01M159.4 228.2h.01M177.6 244.7h.01M289.2 233.1h.01M347.5 223.9h.01M182.5 239.7h.01M202.5 245.4h.01M277.3 233.8h.01M237.1 245.9h.01M113.0 240.9h.01M274.0 235.4h.01M127.5 233.8h.01M231.7 232.9h.01M200.5 244.2h.01M175.5 228.8h.01M332.8 240.1h.01M309.0 228.8h.01M249.2 234.7h.01M273.3 227.1h.01M257.3 233.2h.01M295.7 226.9h.01M204.7 235.5h.01M338.1 218.1h.01M141.1 244.3h.01M267.4 227.4h.01M104.4 240.1h.01M183.9 242.0h.01M193.6 247.4h.01M115.1 249.5h.01M151.0 249.4h.01M176.0 229.6h.01M346.4 233.1h.01M248.4 234.3h.01M110.0 240.5h.01M269.1 232.2h.01M102.7 243.0h.01M122.5 242.9h.01M273.9 235.4h.01M222.0 230.4h.01M130.9 233.0h.01M248.2 227.8h.01M278.3 232.1h.01M132.8 241.4h.01M146.5 250.3h.01M162.4 241.7h.01M100.7 236.2h.01M303.1 225.0h.01M350.1 230.7h.01M303.5 231.2h.01M109.8 252.0h.01M140.5 242.9h.01M340.9 234.2h.01M206.5 243.1h.01M226.6 239.6h.01M243.0 242.2h.01M195.9 237.5h.01M173.8 232.6h.01M297.3 232.4h.01M185.8 236.8h.01M169.6 238.2h.01M332.4 231.1h.01M293.3 223.9h.01M198.1 253.6h.01M309.3 234.0h.01M182.9 236.4h.01M190.6 245.1h.01M199.6 240.7h.01M104.4 253.2h.01M224.6 239.2h.01M295.0 241.2h.01M260.2 231.1h.01M257.3 240.8h.01M265.2 223.7h.01M210.1 236.6h.01M167.9 244.0h.01M118.6 243.8h.01M171.3 236.3h.01M333.4 222.4h.01M245.5 237.3h.01M351.3 237.2h.01M285.6 219.4h.01M246.9 244.8h.01M188.9 230.4h.01M232.4 248.5h.01M142.2 248.9h.01M184.4 244.5h.01M239.0 230.1h.01M296.1 236.3h.01M320.7 227.9h.01M237.5 235.6h.01M299.8 231.9h.01M320.3 234.4h.01M214.9 226.7h.01M103.3 243.3h.01M173.1 243.8h.01M169.4 234.8h.01M234.0 233.7h.01M311.1 231.4h.01M223.3 245.6h.01M351.4 236.5h.01M214.9 239.7h.01M236.1 224.2h.01M96.3 248.6h.01M292.2 239.5h.01M286.3 233.2h.01M151.8 239.6h.01M108.8 234.9h.01M124.8 239.4h.01M154.2 238.6h.01M258.3 233.3h.01M171.3 239.7h.01M252.7 230.7h.01M314.8 227.7h.01M307.0 236.5h.01M220.0 248.4h.01M146.1 244.9h.01M237.5 234.6h.01M276.2 250.3h.01M200.5 240.9h.01M103.8 238.4h.01M351.2 234.9h.01M312.7 239.9h.01M117.8 232.0h.01M185.1 230.0h.01M296.6 225.4h.01M262.8 242.4h.01M257.8 218.5h.01M263.3 236.9h.01M119.5 247.7h.01M179.0 238.2h.01M174.8 247.2h.01M279.9 234.5h.01M315.2 225.9h.01M91.9 242.6h.01M145.1 241.5h.01M194.9 243.8h.01M179.7 232.5h.01M230.1 238.8h.01M201.3 236.6h.01M212.3 237.3h.01M193.5 237.4h.01M305.8 233.6h.01M133.8 245.2h.01M197.8 235.3h.01M202.9 238.6h.01M221.9 244.6h.01M339.2 236.3h.01M182.5 243.0h.01M337.7 232.2h.01M158.8 238.3h.01M312.5 232.4h.01M177.8 242.9h.01M331.9 232.0h.01M235.0 245.4h.01M294.1 252.1h.01M295.1 234.2h.01M242.8 246.8h.01M196.0 244.2h.01M132.2 236.4h.01M262.5 243.1h.01M267.5 233.4h.01M136.8 243.4h.01M183.9 246.5h.01M114.2 251.1h.01M245.6 233.3h.01M161.2 237.0h.01M310.3 221.6h.01M301.6 231.9h.01M344.4 231.1h.01M124.4 243.0h.01M215.8 243.3h.01M276.8 222.2h.01M149.4 251.7h.01M220.5 236.5h.01M199.0 244.3h.01M248.1 239.2h.01M193.7 245.3h.01M164.6 239.8h.01M315.8 235.6h.01M116.6 244.6h.01M328.2 228.1h.01M325.8 239.3h.01M218.0 241.5h.01M111.9 238.6h.01M277.6 234.5h.01M147.3 238.6h.01M96.9 246.8h.01M177.0 234.4h.01M301.7 226.9h.01M307.5 236.7h.01M197.5 237.9h.01M318.2 243.2h.01M208.5 252.1h.01M241.1 242.2h.01M146.1 244.4h.01M262.0 247.0h.01M129.5 237.4h.01M133.3 245.8h.01M168.4 250.1h.01M276.9 233.9h.01M239.8 238.8h.01M163.1 235.4h.01M269.2 240.2h.01M135.2 230.6h.01M345.1 241.7h.01M225.9 245.8h.01M112.8 246.3h.01M227.7 228.5h.01M252.6 240.9h.01M317.3 231.7h.01M266.0 232.1h.01M186.7 225.0h.01M281.9 229.5h.01M199.3 240.5h.01M171.0 242.5h.01M268.4 239.6h.01M273.1 242.5h.01M92.1 246.0h.01M95.0 241.8h.01M100.4 242.1h.01M99.2 245.5h.01M97.3 242.6h.01M93.2 240.6h.01M92.0 242.5h.01M97.7 248.8h.01M94.4 241.7h.01M95.6 243.2h.01M97.2 239.8h.01M94.2 238.6h.01M95.4 243.4h.01M92.4 246.7h.01M92.4 243.1h.01M96.3 242.5h.01M93.6 241.9h.01M97.7 240.6h.01M95.6 242.1h.01M95.4 241.4h.01M96.6 245.7h.01" stroke="#000" stroke-opacity="0.3" stroke-width="1.15" stroke-linecap="round" fill="none"/>
</g>
<rect x="91.3" y="176.6" width="265.7" height="126.8" fill="none" stroke="#333" stroke-width="1.4"/>
<path d="M117.9 303.4v2.5M171.0 303.4v2.5M224.1 303.4v2.5M277.3 303.4v2.5M330.4 303.4v2.5M91.3 303.4h-2.5M91.3 271.7h-2.5M91.3 240.0h-2.5M91.3 208.3h-2.5M91.3 176.6h-2.5" stroke="#444" stroke-width="0.8" fill="none"/>
<path d="M96.6 303.4v1.5M96.6 176.6v-1.5M107.2 303.4v1.5M107.2 176.6v-1.5M117.9 303.4v1.5M117.9 176.6v-1.5M128.5 303.4v1.5M128.5 176.6v-1.5M139.1 303.4v1.5M139.1 176.6v-1.5M149.8 303.4v1.5M149.8 176.6v-1.5M160.4 303.4v1.5M160.4 176.6v-1.5M171.0 303.4v1.5M171.0 176.6v-1.5M181.6 303.4v1.5M181.6 176.6v-1.5M192.3 303.4v1.5M192.3 176.6v-1.5M202.9 303.4v1.5M202.9 176.6v-1.5M213.5 303.4v1.5M213.5 176.6v-1.5M224.2 303.4v1.5M224.2 176.6v-1.5M234.8 303.4v1.5M234.8 176.6v-1.5M245.4 303.4v1.5M245.4 176.6v-1.5M256.0 303.4v1.5M256.0 176.6v-1.5M266.7 303.4v1.5M266.7 176.6v-1.5M277.3 303.4v1.5M277.3 176.6v-1.5M287.9 303.4v1.5M287.9 176.6v-1.5M298.5 303.4v1.5M298.5 176.6v-1.5M309.2 303.4v1.5M309.2 176.6v-1.5M319.8 303.4v1.5M319.8 176.6v-1.5M330.4 303.4v1.5M330.4 176.6v-1.5M341.1 303.4v1.5M341.1 176.6v-1.5M351.7 303.4v1.5M351.7 176.6v-1.5M91.3 297.1h-1.5M357.0 297.1h1.5M91.3 290.7h-1.5M357.0 290.7h1.5M91.3 284.4h-1.5M357.0 284.4h1.5M91.3 278.0h-1.5M357.0 278.0h1.5M91.3 271.7h-1.5M357.0 271.7h1.5M91.3 265.4h-1.5M357.0 265.4h1.5M91.3 259.0h-1.5M357.0 259.0h1.5M91.3 252.7h-1.5M357.0 252.7h1.5M91.3 246.3h-1.5M357.0 246.3h1.5M91.3 240.0h-1.5M357.0 240.0h1.5M91.3 233.7h-1.5M357.0 233.7h1.5M91.3 227.3h-1.5M357.0 227.3h1.5M91.3 221.0h-1.5M357.0 221.0h1.5M91.3 214.6h-1.5M357.0 214.6h1.5M91.3 208.3h-1.5M357.0 208.3h1.5M91.3 202.0h-1.5M357.0 202.0h1.5M91.3 195.6h-1.5M357.0 195.6h1.5M91.3 189.3h-1.5M357.0 189.3h1.5M91.3 182.9h-1.5M357.0 182.9h1.5" stroke="#777" stroke-width="0.6" fill="none"/>
<text x="117.9" y="316.8" text-anchor="middle" font-size="11">33</text>
<text x="171.0" y="316.8" text-anchor="middle" font-size="11">34</text>
<text x="224.1" y="316.8" text-anchor="middle" font-size="11">35</text>
<text x="277.3" y="316.8" text-anchor="middle" font-size="11">36</text>
<text x="330.4" y="316.8" text-anchor="middle" font-size="11">37</text>
<text x="86.1" y="307.3" text-anchor="end" font-size="11">34.0</text>
<text x="86.1" y="275.6" text-anchor="end" font-size="11">34.5</text>
<text x="86.1" y="243.9" text-anchor="end" font-size="11">35.0</text>
<text x="86.1" y="212.2" text-anchor="end" font-size="11">35.5</text>
<text x="86.1" y="180.5" text-anchor="end" font-size="11">36.0</text>
<text x="224.2" y="329.8" text-anchor="middle" font-size="12">x (kpc)</text>
<text transform="translate(58.6 240.0) rotate(-90)" text-anchor="middle" font-size="11.7">y (kpc)</text>
<defs><linearGradient id="g3" x1="0" y1="0" x2="0" y2="1"><stop offset="0.000" stop-color="#000004"/><stop offset="0.031" stop-color="#03030f"/><stop offset="0.062" stop-color="#090720"/><stop offset="0.094" stop-color="#120d31"/><stop offset="0.125" stop-color="#1c1044"/><stop offset="0.156" stop-color="#271258"/><stop offset="0.188" stop-color="#341069"/><stop offset="0.219" stop-color="#420f75"/><stop offset="0.250" stop-color="#4f127b"/><stop offset="0.281" stop-color="#5c167f"/><stop offset="0.312" stop-color="#681c81"/><stop offset="0.344" stop-color="#752181"/><stop offset="0.375" stop-color="#812581"/><stop offset="0.406" stop-color="#8e2a81"/><stop offset="0.438" stop-color="#9b2e7f"/><stop offset="0.469" stop-color="#a8327d"/><stop offset="0.500" stop-color="#b5367a"/><stop offset="0.531" stop-color="#c23b75"/><stop offset="0.562" stop-color="#cf4070"/><stop offset="0.594" stop-color="#db476a"/><stop offset="0.625" stop-color="#e55064"/><stop offset="0.656" stop-color="#ee5b5e"/><stop offset="0.688" stop-color="#f4695c"/><stop offset="0.719" stop-color="#f9785d"/><stop offset="0.750" stop-color="#fb8761"/><stop offset="0.781" stop-color="#fd9668"/><stop offset="0.812" stop-color="#fea571"/><stop offset="0.844" stop-color="#feb47b"/><stop offset="0.875" stop-color="#fec287"/><stop offset="0.906" stop-color="#fed194"/><stop offset="0.938" stop-color="#fde0a1"/><stop offset="0.969" stop-color="#fceeb0"/><stop offset="1.000" stop-color="#fcfdbf"/></linearGradient></defs>
<rect x="5.0" y="184.0" width="6.7" height="107.2" fill="url(#g3)" stroke="#333" stroke-width="1"/>
<path d="M11.7 291.2h2.5M11.7 269.8h2.5M11.7 248.3h2.5M11.7 226.9h2.5M11.7 205.4h2.5M11.7 184.0h2.5" stroke="#444" stroke-width="0.8"/>
<text x="16.2" y="295.1" font-size="11">0.0</text>
<text x="16.2" y="273.7" font-size="11">0.2</text>
<text x="16.2" y="252.2" font-size="11">0.4</text>
<text x="16.2" y="230.8" font-size="11">0.6</text>
<text x="16.2" y="209.3" font-size="11">0.8</text>
<text x="16.2" y="187.9" font-size="11">1.0</text>
<text transform="translate(45.2 300.6) rotate(-90)" font-size="11.6">Max Eigenvalue of <tspan font-family="Liberation Serif" font-size="12.6" dx="1">Π<tspan font-style="italic">H</tspan>Π</tspan></text>
<g clip-path="url(#c4)">
<path d="M412.9 296.73H678.0M412.9 290.05H678.0M412.9 283.38H678.0M412.9 276.71H678.0M412.9 270.03H678.0M412.9 263.36H678.0M412.9 256.68H678.0M412.9 250.01H678.0M412.9 243.34H678.0M412.9 236.66H678.0M412.9 229.99H678.0M412.9 223.32H678.0M412.9 216.64H678.0M412.9 209.97H678.0M412.9 203.29H678.0M412.9 196.62H678.0M412.9 189.95H678.0M412.9 183.27H678.0" stroke="#000" stroke-opacity="0.26" stroke-width="0.60" fill="none"/>
<path d="M418.31 176.6V303.4M423.72 176.6V303.4M429.13 176.6V303.4M434.54 176.6V303.4M439.95 176.6V303.4M445.36 176.6V303.4M450.77 176.6V303.4M456.18 176.6V303.4M461.59 176.6V303.4M467.00 176.6V303.4M472.41 176.6V303.4M477.82 176.6V303.4M483.23 176.6V303.4M488.64 176.6V303.4M494.05 176.6V303.4M499.46 176.6V303.4M504.87 176.6V303.4M510.28 176.6V303.4M515.69 176.6V303.4M521.10 176.6V303.4M526.51 176.6V303.4M531.92 176.6V303.4M537.33 176.6V303.4M542.74 176.6V303.4M548.16 176.6V303.4M553.57 176.6V303.4M558.98 176.6V303.4M564.39 176.6V303.4M569.80 176.6V303.4M575.21 176.6V303.4M580.62 176.6V303.4M586.03 176.6V303.4M591.44 176.6V303.4M596.85 176.6V303.4M602.26 176.6V303.4M607.67 176.6V303.4M613.08 176.6V303.4M618.49 176.6V303.4M623.90 176.6V303.4M629.31 176.6V303.4M634.72 176.6V303.4M640.13 176.6V303.4M645.54 176.6V303.4M650.95 176.6V303.4M656.36 176.6V303.4M661.77 176.6V303.4M667.18 176.6V303.4M672.59 176.6V303.4" stroke="#000" stroke-opacity="0.07" stroke-width="0.60" fill="none"/>
<path d="M653.8 201.8h.01M437.6 232.6h.01M660.5 263.0h.01M593.5 260.8h.01M433.7 188.7h.01M589.7 270.1h.01M551.1 271.6h.01M544.3 237.6h.01M600.4 210.8h.01M640.5 294.8h.01M584.1 226.3h.01M501.4 261.1h.01M669.8 235.8h.01M522.1 262.5h.01M443.2 265.2h.01M613.0 234.1h.01M609.2 249.9h.01M572.9 266.9h.01M420.0 207.0h.01M601.1 240.1h.01M496.9 224.2h.01M443.2 279.6h.01M475.7 291.6h.01M644.3 217.8h.01M495.3 278.3h.01M607.5 192.4h.01M517.3 302.3h.01M553.0 254.7h.01M669.4 251.5h.01M550.6 214.0h.01M574.3 292.9h.01M482.7 211.2h.01M455.8 200.0h.01M551.6 281.5h.01M640.9 235.5h.01M516.7 191.6h.01M518.0 209.1h.01M447.7 274.5h.01M665.7 213.9h.01M614.8 212.4h.01M596.4 288.8h.01M479.8 204.4h.01M582.7 301.3h.01M469.6 205.6h.01M510.8 299.6h.01M635.9 245.3h.01M554.7 196.2h.01M448.4 241.6h.01M571.9 235.9h.01M581.0 270.2h.01M615.4 222.0h.01M589.0 302.6h.01M574.5 274.7h.01M588.5 220.8h.01M477.6 280.9h.01M632.8 292.1h.01M433.4 209.1h.01M570.6 186.5h.01M528.4 239.2h.01M609.3 203.4h.01M433.6 229.0h.01M644.8 224.8h.01M648.9 285.9h.01M469.5 251.4h.01M676.3 232.2h.01M592.6 204.1h.01M519.9 181.7h.01M628.4 249.4h.01M634.8 280.3h.01M654.1 241.2h.01M552.9 302.5h.01M453.7 287.0h.01M559.7 202.6h.01M421.5 256.5h.01M663.2 193.1h.01M654.4 197.7h.01M601.0 292.4h.01M646.8 236.5h.01M632.5 183.5h.01M562.2 293.9h.01M501.3 190.7h.01M632.6 189.3h.01M499.0 215.8h.01M675.4 203.2h.01M647.8 250.1h.01M673.3 226.1h.01M575.0 178.7h.01M524.4 276.1h.01M643.9 293.7h.01M424.0 242.7h.01M434.4 179.5h.01M651.2 196.9h.01M535.1 274.7h.01M472.4 286.5h.01M471.8 206.2h.01M631.9 251.6h.01M527.9 219.9h.01M503.9 191.1h.01M546.8 202.3h.01M539.3 281.5h.01M421.3 240.8h.01M453.5 294.7h.01M596.0 281.2h.01M659.8 214.7h.01M430.7 205.0h.01M584.8 278.9h.01M531.8 299.9h.01M674.8 178.8h.01M648.1 256.5h.01M616.8 190.2h.01M638.1 186.1h.01M467.6 250.1h.01M646.3 268.9h.01M478.5 250.6h.01M575.1 194.0h.01M602.0 178.6h.01M519.4 301.1h.01M512.2 186.3h.01M621.0 233.9h.01M677.1 288.9h.01M480.7 292.2h.01M431.2 241.7h.01M565.8 279.4h.01M651.3 263.2h.01M635.0 183.5h.01M509.8 236.7h.01M554.7 272.0h.01M527.0 257.2h.01M597.0 284.1h.01M565.5 237.4h.01M582.1 298.2h.01M436.4 298.8h.01M666.1 194.1h.01M532.1 261.3h.01M601.2 285.4h.01M508.6 267.6h.01M504.7 228.0h.01M645.9 222.7h.01M498.8 288.9h.01M524.8 192.5h.01M629.2 251.1h.01M568.2 242.6h.01M610.2 228.2h.01M615.3 252.3h.01M578.4 185.2h.01M464.2 240.7h.01M497.3 295.7h.01M454.0 272.5h.01M543.1 302.5h.01M618.4 263.2h.01M543.4 245.6h.01M426.9 185.1h.01M514.2 194.4h.01M650.8 297.7h.01M428.2 183.0h.01M626.7 301.2h.01M637.0 210.1h.01M670.2 285.5h.01M524.0 283.6h.01M445.8 287.9h.01M536.3 201.0h.01M428.9 280.2h.01M462.7 189.7h.01M449.8 269.4h.01M515.2 181.6h.01M652.3 254.0h.01M650.9 228.5h.01M643.8 265.3h.01M484.2 293.8h.01M450.1 281.3h.01M600.5 228.7h.01M417.3 226.2h.01M421.3 293.8h.01M529.1 191.1h.01M421.4 242.5h.01M508.7 251.1h.01M670.0 245.0h.01M609.7 274.8h.01M584.9 250.4h.01M610.7 295.7h.01M615.6 293.4h.01M633.6 221.1h.01M645.9 235.2h.01M421.5 290.9h.01M524.9 267.9h.01M616.4 290.5h.01M507.5 202.7h.01M663.2 251.9h.01M454.6 187.3h.01M669.3 178.1h.01M565.2 270.8h.01M472.0 195.9h.01M646.8 250.8h.01M640.0 227.2h.01M497.7 287.0h.01M633.9 191.6h.01M623.5 229.6h.01M501.3 182.0h.01M533.5 215.6h.01M525.1 259.3h.01M462.2 233.8h.01M469.1 233.7h.01M455.6 281.0h.01M433.3 253.8h.01M573.9 302.4h.01M548.2 227.7h.01M582.8 277.9h.01M494.1 185.4h.01M453.2 234.7h.01M533.6 274.0h.01M527.1 254.7h.01M576.7 193.3h.01M592.3 212.7h.01M670.0 239.5h.01M637.3 250.5h.01M507.4 240.1h.01M455.2 243.1h.01M495.4 253.1h.01M561.9 268.1h.01M568.8 301.9h.01M417.3 231.1h.01M479.7 238.5h.01M424.7 185.7h.01M416.4 254.0h.01M540.4 265.0h.01M488.0 189.5h.01M666.6 266.9h.01M471.2 209.6h.01M489.2 292.7h.01M449.6 181.6h.01M508.0 279.0h.01M638.2 202.4h.01M448.5 284.6h.01M585.8 286.0h.01M628.9 188.6h.01M668.4 179.8h.01M510.6 298.4h.01M656.8 274.7h.01M495.6 179.9h.01M496.3 285.3h.01M534.2 287.8h.01M525.2 215.0h.01M519.1 301.2h.01M468.5 232.5h.01M476.1 257.9h.01M465.5 302.9h.01M576.1 290.4h.01M448.7 250.5h.01M588.6 282.9h.01M626.7 248.8h.01M448.7 196.3h.01M427.8 290.9h.01M461.7 206.6h.01M586.9 227.9h.01M625.0 229.5h.01M627.4 283.6h.01M445.4 290.0h.01M598.9 290.8h.01M435.2 218.2h.01M480.9 221.7h.01M661.8 233.3h.01M614.8 181.8h.01M670.1 199.1h.01M621.4 207.8h.01M668.1 273.4h.01M658.1 217.2h.01M526.8 222.4h.01M507.2 250.3h.01M547.5 301.6h.01M546.5 242.7h.01M547.1 222.7h.01M549.9 197.8h.01M547.1 274.1h.01M594.1 298.8h.01M635.8 213.0h.01M575.4 240.1h.01M517.5 279.8h.01M608.5 255.9h.01M448.4 240.4h.01M499.0 275.7h.01M465.3 248.2h.01M607.1 179.0h.01M417.1 192.7h.01M542.8 198.2h.01M462.0 231.0h.01M480.3 208.9h.01M585.8 237.1h.01M612.1 216.3h.01M437.2 244.1h.01M542.5 234.0h.01M637.9 247.0h.01M571.3 244.0h.01M554.1 230.6h.01M623.6 234.7h.01M596.5 245.9h.01M479.5 236.6h.01M424.9 243.2h.01M659.6 234.2h.01M599.8 232.1h.01M665.4 224.3h.01M498.0 235.7h.01M583.7 235.9h.01M564.6 239.0h.01M596.1 240.8h.01M616.0 232.5h.01M587.7 237.0h.01M487.6 233.6h.01M537.4 232.2h.01M449.7 250.8h.01M652.6 228.8h.01M470.1 232.4h.01M549.5 232.0h.01M428.5 246.1h.01M428.0 248.8h.01M506.1 238.7h.01M662.4 234.9h.01M569.4 225.8h.01M489.0 248.7h.01M438.2 252.8h.01M417.6 243.8h.01M474.2 239.9h.01M660.9 227.3h.01M613.1 221.1h.01M640.4 236.4h.01M615.4 245.3h.01M470.3 238.5h.01M428.6 236.1h.01M516.0 240.1h.01M604.3 234.5h.01M416.2 240.8h.01M653.0 239.0h.01M545.6 241.5h.01M610.8 244.1h.01M639.9 244.0h.01M588.5 233.7h.01M423.6 236.2h.01M625.6 221.2h.01M452.7 242.2h.01M524.6 245.2h.01M607.0 232.1h.01M643.1 236.6h.01M493.4 234.9h.01M501.1 235.5h.01M427.6 253.4h.01M554.2 232.3h.01M577.9 235.0h.01M483.5 242.3h.01M636.6 222.0h.01M606.5 224.8h.01M460.4 228.9h.01M595.1 242.4h.01M537.4 241.9h.01M657.9 226.4h.01M644.7 240.4h.01M622.8 238.3h.01M555.7 225.2h.01M621.9 227.1h.01M479.2 236.9h.01M547.1 236.0h.01M600.3 237.5h.01M546.3 239.9h.01M643.4 235.9h.01M577.0 227.7h.01M576.2 236.9h.01M557.9 233.4h.01M640.4 235.6h.01M477.0 254.1h.01M544.2 234.0h.01M533.3 246.4h.01M610.7 227.5h.01M431.0 251.3h.01M416.1 240.3h.01M633.0 232.6h.01M646.4 240.3h.01M523.0 232.6h.01M531.5 247.2h.01M549.2 240.2h.01M598.7 239.9h.01M494.8 241.6h.01M596.6 239.0h.01M539.5 234.1h.01M483.2 235.2h.01M448.1 251.7h.01M624.6 241.1h.01M472.1 242.5h.01M576.2 239.7h.01M448.6 238.9h.01M647.8 244.8h.01M495.1 234.7h.01M536.8 233.0h.01M633.6 234.3h.01M640.9 241.7h.01M480.7 239.7h.01M499.4 242.5h.01M609.7 230.8h.01M563.3 237.2h.01M639.6 228.3h.01M666.6 222.7h.01M441.7 247.5h.01M575.8 232.9h.01M651.5 242.0h.01M483.4 239.0h.01M647.4 238.4h.01M539.7 240.5h.01M490.1 238.3h.01M597.8 221.3h.01M655.9 232.2h.01M491.1 245.5h.01M463.6 234.4h.01M627.7 225.8h.01M627.2 222.2h.01M560.3 242.7h.01M548.3 230.6h.01M491.9 232.1h.01M655.3 230.7h.01M455.0 259.7h.01M418.0 245.7h.01M423.4 230.4h.01M575.1 247.4h.01M456.7 244.0h.01M441.5 239.3h.01M474.8 229.6h.01M656.1 243.4h.01M538.5 232.3h.01M587.0 243.8h.01M462.4 228.4h.01M652.1 229.0h.01M525.7 254.7h.01M537.8 235.3h.01M501.8 240.9h.01M550.1 217.7h.01M434.7 242.7h.01M563.2 242.8h.01M624.7 232.1h.01M538.3 239.7h.01M486.0 241.5h.01M443.8 241.6h.01M463.6 235.4h.01M446.7 248.5h.01M637.3 230.1h.01M662.1 235.0h.01M507.1 231.5h.01M583.9 230.7h.01M432.9 247.7h.01M613.3 232.2h.01M629.4 220.9h.01M640.2 223.0h.01M542.2 237.9h.01M574.8 245.2h.01M619.1 230.4h.01M454.7 239.1h.01M604.1 234.8h.01M460.2 243.7h.01M557.8 231.6h.01M420.4 236.7h.01M652.1 243.6h.01M498.2 230.0h.01M421.1 230.6h.01M479.6 240.4h.01M620.9 231.5h.01M627.6 228.6h.01M612.0 243.7h.01M644.4 229.2h.01M645.6 229.6h.01M631.9 230.5h.01M655.6 241.8h.01M590.6 225.9h.01M449.8 239.9h.01M559.0 244.2h.01M645.7 224.1h.01M481.3 232.4h.01M669.6 235.9h.01M543.1 243.9h.01M658.6 224.7h.01M569.7 250.7h.01M438.5 234.8h.01M618.9 234.4h.01M479.5 239.9h.01M497.1 237.0h.01M463.7 247.4h.01M640.2 235.8h.01M461.4 248.2h.01M514.8 228.6h.01M600.5 243.3h.01M434.0 246.1h.01M642.2 234.8h.01M433.1 241.4h.01M544.9 232.5h.01M476.3 234.7h.01M439.1 243.1h.01M548.5 239.8h.01M606.2 234.3h.01M628.0 228.3h.01M450.0 236.4h.01M532.3 241.2h.01M596.6 229.0h.01M511.0 237.0h.01M650.9 230.3h.01M558.8 240.1h.01M414.1 250.4h.01M558.3 238.3h.01M465.0 244.2h.01M606.7 243.8h.01M592.7 237.2h.01M632.5 233.2h.01M482.1 252.8h.01M625.1 235.0h.01M658.5 232.9h.01M592.3 243.0h.01M609.6 245.4h.01M451.8 245.9h.01M500.7 235.9h.01M445.5 243.6h.01M415.2 239.5h.01M417.2 243.0h.01M650.5 234.5h.01M433.9 237.2h.01M448.0 243.7h.01M651.5 226.9h.01M524.8 230.8h.01M452.3 235.9h.01M663.0 225.4h.01M629.0 228.6h.01M495.5 233.6h.01M634.2 230.7h.01M463.0 239.9h.01M463.1 240.2h.01M619.4 236.2h.01M645.5 232.9h.01M422.3 240.2h.01M486.7 246.7h.01M522.5 236.4h.01M656.9 242.4h.01M463.1 239.4h.01M607.7 227.2h.01M501.1 228.4h.01M531.4 235.6h.01M530.2 241.5h.01M456.2 248.0h.01M653.1 237.4h.01M624.6 233.4h.01M439.4 240.7h.01M584.3 235.7h.01M534.1 240.0h.01M424.8 241.0h.01M583.7 240.3h.01M509.4 250.0h.01M449.6 240.0h.01M661.8 231.0h.01M501.6 236.7h.01M459.3 246.7h.01M440.7 232.0h.01M491.9 244.2h.01M497.7 234.0h.01M524.5 237.5h.01M572.3 242.3h.01M433.1 234.9h.01M451.7 240.6h.01M451.4 239.6h.01M448.7 238.0h.01M551.8 237.3h.01M658.6 229.2h.01M414.3 246.5h.01M522.9 237.8h.01M602.7 239.0h.01M508.9 243.0h.01M571.0 239.4h.01M565.8 236.4h.01M660.5 242.8h.01M565.6 235.7h.01M617.4 248.0h.01M534.2 241.1h.01M626.2 247.9h.01M665.5 243.7h.01M668.9 230.8h.01M431.4 240.9h.01M573.1 236.9h.01M613.6 239.3h.01M507.4 225.1h.01M669.7 237.3h.01M497.1 228.5h.01M556.9 233.0h.01M413.6 246.6h.01M650.2 224.9h.01M644.3 231.2h.01M623.9 240.2h.01M537.1 236.7h.01M452.4 247.1h.01M659.2 226.1h.01M480.1 242.1h.01M551.0 236.9h.01M422.4 237.6h.01M588.7 234.6h.01M504.1 248.6h.01M669.2 227.8h.01M612.6 228.3h.01M635.0 227.7h.01M445.1 230.7h.01M603.4 229.8h.01M628.8 223.4h.01M588.2 237.3h.01M512.9 227.6h.01M487.3 228.5h.01M541.4 232.6h.01M433.5 229.7h.01M516.3 233.1h.01M548.6 242.9h.01M502.6 231.7h.01M458.6 238.4h.01M599.7 232.3h.01M671.3 230.8h.01M591.7 226.6h.01M611.7 230.8h.01M591.5 239.7h.01M447.2 237.8h.01M495.6 234.6h.01M416.9 245.3h.01M588.9 239.2h.01M583.6 233.4h.01M442.0 234.6h.01M523.0 226.2h.01M614.3 226.6h.01M430.8 235.0h.01M632.2 226.1h.01M449.7 232.3h.01M630.3 235.8h.01M668.3 227.4h.01M514.9 236.5h.01M598.5 237.8h.01M649.0 235.7h.01M630.8 230.1h.01M597.3 235.1h.01M597.5 234.3h.01M517.1 236.3h.01M628.2 228.9h.01M442.2 244.8h.01M613.2 234.9h.01M623.9 243.9h.01M561.6 250.8h.01M448.7 253.1h.01M422.8 253.3h.01M429.4 238.5h.01M443.3 243.9h.01M553.3 226.8h.01M580.3 224.1h.01M525.5 232.2h.01M436.1 237.3h.01M594.8 239.7h.01M450.5 237.5h.01M424.8 244.5h.01M513.6 246.8h.01M432.4 249.5h.01M593.7 220.5h.01M598.3 238.3h.01M470.7 240.2h.01M415.0 247.7h.01M652.3 231.4h.01M640.1 234.4h.01M569.5 238.9h.01M415.8 250.7h.01M589.7 244.2h.01M459.7 245.1h.01M550.7 235.3h.01M529.1 224.8h.01M571.2 229.5h.01M670.7 228.6h.01M511.3 239.1h.01M656.1 240.5h.01M566.3 236.4h.01M542.3 251.1h.01M453.6 230.2h.01M609.1 232.2h.01M496.8 231.9h.01M514.4 240.8h.01M506.1 247.4h.01M421.3 244.7h.01M615.1 221.5h.01M474.6 244.5h.01M528.1 240.2h.01M596.6 235.8h.01M670.9 233.8h.01M651.4 240.1h.01M498.8 236.6h.01M531.2 245.5h.01M418.4 252.8h.01M509.7 245.0h.01M548.9 238.9h.01M432.3 244.1h.01M503.8 245.5h.01M443.6 252.0h.01M438.1 230.0h.01M553.0 235.3h.01M532.2 236.1h.01M588.2 231.7h.01M659.0 231.8h.01M537.4 230.0h.01M591.4 231.9h.01M603.0 232.5h.01M443.2 239.1h.01M477.3 232.3h.01M542.4 250.5h.01M433.6 242.0h.01M431.6 243.1h.01M473.5 252.3h.01M521.0 233.5h.01M524.2 243.4h.01M565.0 237.8h.01M535.1 240.8h.01M451.5 243.4h.01M640.0 244.4h.01M536.0 243.6h.01M629.0 235.3h.01M477.9 239.6h.01M493.1 238.7h.01M552.3 237.8h.01M476.3 236.9h.01M470.4 243.8h.01M584.4 236.5h.01M585.7 240.8h.01M507.5 238.3h.01M451.3 242.7h.01M529.1 239.2h.01M446.1 237.7h.01M420.7 234.5h.01M555.7 256.5h.01M579.2 233.6h.01M481.8 232.8h.01M580.1 223.1h.01M553.1 247.8h.01M465.4 244.0h.01M468.7 233.2h.01M628.2 225.7h.01M608.6 240.9h.01M615.2 217.9h.01M630.4 240.6h.01M634.3 233.5h.01M611.3 243.2h.01M566.7 227.9h.01M642.9 229.7h.01M429.3 240.7h.01M642.9 233.0h.01M421.5 240.4h.01M557.9 248.6h.01M448.8 234.3h.01M517.8 232.4h.01M610.3 234.2h.01M523.4 236.1h.01M454.2 230.4h.01M668.6 228.8h.01M608.9 233.9h.01M521.3 241.3h.01M623.2 243.0h.01M611.8 237.8h.01M565.9 235.8h.01M630.2 234.7h.01M535.1 232.8h.01M588.1 232.4h.01M662.2 227.6h.01M632.5 231.8h.01M493.9 239.2h.01M533.1 234.6h.01M509.8 249.4h.01M513.8 230.3h.01M480.1 247.6h.01M455.7 235.0h.01M429.9 241.1h.01M517.9 231.1h.01M618.2 233.2h.01M466.4 233.6h.01M423.8 236.2h.01M443.2 239.3h.01M622.0 243.3h.01M572.9 235.2h.01M438.9 229.5h.01M427.9 238.8h.01M608.0 234.7h.01M597.7 227.0h.01M472.1 240.4h.01M478.6 239.6h.01M530.8 236.6h.01M561.0 245.9h.01M602.3 228.3h.01M570.6 233.2h.01M541.4 239.1h.01M618.4 240.9h.01M542.1 235.9h.01M636.7 223.9h.01M417.3 246.1h.01M473.8 246.3h.01M503.3 248.7h.01M577.2 238.4h.01M649.2 233.9h.01M612.4 237.4h.01M461.1 237.9h.01M538.6 238.7h.01M435.9 243.8h.01M589.8 231.0h.01M672.7 225.2h.01M594.9 230.3h.01M509.0 259.3h.01M522.0 244.3h.01M658.1 230.5h.01M580.7 226.4h.01M551.5 235.8h.01M503.8 240.7h.01M507.9 243.2h.01M452.1 237.1h.01M453.0 243.2h.01M440.0 249.7h.01M567.3 236.8h.01M523.7 244.7h.01M631.4 225.0h.01M602.0 241.3h.01M480.8 228.2h.01M499.0 244.7h.01M610.4 233.1h.01M668.6 223.9h.01M503.9 239.7h.01M523.8 245.4h.01M598.5 233.8h.01M558.3 245.9h.01M434.5 240.9h.01M595.2 235.4h.01M449.0 233.8h.01M553.0 232.9h.01M521.9 244.2h.01M496.9 228.8h.01M653.8 240.1h.01M630.1 228.8h.01M570.5 234.7h.01M594.5 227.1h.01M578.5 233.2h.01M616.9 226.9h.01M526.0 235.5h.01M659.1 218.1h.01M462.5 244.3h.01M588.6 227.4h.01M426.0 240.1h.01M505.3 242.0h.01M515.0 247.4h.01M436.6 249.5h.01M472.4 249.4h.01M497.4 229.6h.01M667.4 233.1h.01M569.6 234.3h.01M431.6 240.5h.01M590.3 232.2h.01M424.2 243.0h.01M444.0 242.9h.01M595.1 235.4h.01M543.3 230.4h.01M452.4 233.0h.01M569.4 227.8h.01M599.5 232.1h.01M454.3 241.4h.01M467.9 250.3h.01M483.9 241.7h.01M422.3 236.2h.01M624.3 225.0h.01M671.1 230.7h.01M624.6 231.2h.01M431.3 252.0h.01M462.0 242.9h.01M661.9 234.2h.01M527.8 243.1h.01M547.8 239.6h.01M564.2 242.2h.01M517.3 237.5h.01M495.2 232.6h.01M618.4 232.4h.01M507.2 236.8h.01M491.0 238.2h.01M653.5 231.1h.01M614.5 223.9h.01M519.4 253.6h.01M630.4 234.0h.01M504.3 236.4h.01M512.0 245.1h.01M520.9 240.7h.01M426.0 253.2h.01M545.9 239.2h.01M616.1 241.2h.01M581.5 231.1h.01M578.5 240.8h.01M586.4 223.7h.01M531.4 236.6h.01M489.3 244.0h.01M440.1 243.8h.01M492.7 236.3h.01M654.4 222.4h.01M566.8 237.3h.01M672.3 237.2h.01M606.8 219.4h.01M568.2 244.8h.01M510.3 230.4h.01M553.7 248.5h.01M463.7 248.9h.01M505.8 244.5h.01M560.3 230.1h.01M617.2 236.3h.01M641.8 227.9h.01M558.8 235.6h.01M620.9 231.9h.01M641.4 234.4h.01M536.2 226.7h.01M424.9 243.3h.01M494.5 243.8h.01M490.8 234.8h.01M555.3 233.7h.01M632.2 231.4h.01M544.6 245.6h.01M672.4 236.5h.01M536.2 239.7h.01M557.4 224.2h.01M417.9 248.6h.01M613.4 239.5h.01M607.5 233.2h.01M473.2 239.6h.01M430.3 234.9h.01M446.3 239.4h.01M475.6 238.6h.01M579.5 233.3h.01M492.7 239.7h.01M573.9 230.7h.01M635.9 227.7h.01M628.1 236.5h.01M541.3 248.4h.01M467.6 244.9h.01M558.8 234.6h.01M597.4 250.3h.01M521.8 240.9h.01M425.4 238.4h.01M672.2 234.9h.01M633.8 239.9h.01M439.3 232.0h.01M506.5 230.0h.01M617.8 225.4h.01M584.0 242.4h.01M579.0 218.5h.01M584.5 236.9h.01M441.1 247.7h.01M500.4 238.2h.01M496.2 247.2h.01M601.1 234.5h.01M636.3 225.9h.01M413.5 242.6h.01M466.6 241.5h.01M516.2 243.8h.01M501.1 232.5h.01M551.4 238.8h.01M522.6 236.6h.01M533.6 237.3h.01M514.9 237.4h.01M626.9 233.6h.01M455.3 245.2h.01M519.1 235.3h.01M524.3 238.6h.01M543.2 244.6h.01M660.2 236.3h.01M503.9 243.0h.01M658.7 232.2h.01M480.3 238.3h.01M633.6 232.4h.01M499.2 242.9h.01M653.0 232.0h.01M556.2 245.4h.01M615.3 252.1h.01M616.2 234.2h.01M564.1 246.8h.01M517.4 244.2h.01M453.7 236.4h.01M583.7 243.1h.01M588.7 233.4h.01M458.3 243.4h.01M505.2 246.5h.01M435.7 251.1h.01M566.9 233.3h.01M482.6 237.0h.01M631.4 221.6h.01M622.8 231.9h.01M665.4 231.1h.01M445.9 243.0h.01M537.2 243.3h.01M598.0 222.2h.01M470.9 251.7h.01M541.8 236.5h.01M520.4 244.3h.01M569.3 239.2h.01M515.0 245.3h.01M486.0 239.8h.01M636.9 235.6h.01M438.2 244.6h.01M649.3 228.1h.01M646.9 239.3h.01M539.4 241.5h.01M433.4 238.6h.01M598.8 234.5h.01M468.8 238.6h.01M418.4 246.8h.01M498.4 234.4h.01M622.8 226.9h.01M628.6 236.7h.01M518.9 237.9h.01M639.3 243.2h.01M529.9 252.1h.01M562.4 242.2h.01M467.6 244.4h.01M583.2 247.0h.01M451.0 237.4h.01M454.8 245.8h.01M489.8 250.1h.01M598.1 233.9h.01M561.0 238.8h.01M484.6 235.4h.01M590.4 240.2h.01M456.7 230.6h.01M666.1 241.7h.01M547.2 245.8h.01M434.4 246.3h.01M549.0 228.5h.01M573.8 240.9h.01M638.4 231.7h.01M587.2 232.1h.01M508.0 225.0h.01M603.0 229.5h.01M520.7 240.5h.01M492.5 242.5h.01M589.6 239.6h.01M594.3 242.5h.01M413.7 246.0h.01M416.6 241.8h.01M422.0 242.1h.01M420.8 245.5h.01M418.9 242.6h.01M414.8 240.6h.01M413.6 242.5h.01M419.3 248.8h.01M416.0 241.7h.01M417.2 243.2h.01M418.8 239.8h.01M415.7 238.6h.01M417.0 243.4h.01M414.0 246.7h.01M414.0 243.1h.01M417.9 242.5h.01M415.2 241.9h.01M419.3 240.6h.01M417.2 242.1h.01M417.0 241.4h.01M418.2 245.7h.01" stroke="#000" stroke-opacity="0.3" stroke-width="1.15" stroke-linecap="round" fill="none"/>
<path d="M537.33 207.82L537.98 209.08L539.38 209.30L538.38 210.31L538.60 211.71L537.33 211.07L536.07 211.71L536.29 210.31L535.29 209.30L536.69 209.08ZM537.33 214.49L537.98 215.75L539.38 215.98L538.38 216.98L538.60 218.38L537.33 217.74L536.07 218.38L536.29 216.98L535.29 215.98L536.69 215.75ZM542.74 214.49L543.39 215.75L544.79 215.98L543.79 216.98L544.01 218.38L542.74 217.74L541.48 218.38L541.70 216.98L540.70 215.98L542.10 215.75ZM542.74 221.17L543.39 222.43L544.79 222.65L543.79 223.66L544.01 225.06L542.74 224.42L541.48 225.06L541.70 223.66L540.70 222.65L542.10 222.43ZM548.16 234.51L548.80 235.77L550.20 236.00L549.20 237.00L549.42 238.40L548.16 237.76L546.89 238.40L547.11 237.00L546.11 236.00L547.51 235.77ZM537.33 241.19L537.98 242.45L539.38 242.67L538.38 243.68L538.60 245.08L537.33 244.44L536.07 245.08L536.29 243.68L535.29 242.67L536.69 242.45ZM542.74 241.19L543.39 242.45L544.79 242.67L543.79 243.68L544.01 245.08L542.74 244.44L541.48 245.08L541.70 243.68L540.70 242.67L542.10 242.45ZM548.16 241.19L548.80 242.45L550.20 242.67L549.20 243.68L549.42 245.08L548.16 244.44L546.89 245.08L547.11 243.68L546.11 242.67L547.51 242.45ZM553.57 241.19L554.21 242.45L555.61 242.67L554.61 243.68L554.83 245.08L553.57 244.44L552.30 245.08L552.52 243.68L551.52 242.67L552.92 242.45ZM537.33 247.86L537.98 249.12L539.38 249.35L538.38 250.35L538.60 251.75L537.33 251.11L536.07 251.75L536.29 250.35L535.29 249.35L536.69 249.12ZM542.74 247.86L543.39 249.12L544.79 249.35L543.79 250.35L544.01 251.75L542.74 251.11L541.48 251.75L541.70 250.35L540.70 249.35L542.10 249.12ZM548.16 247.86L548.80 249.12L550.20 249.35L549.20 250.35L549.42 251.75L548.16 251.11L546.89 251.75L547.11 250.35L546.11 249.35L547.51 249.12ZM553.57 247.86L554.21 249.12L555.61 249.35L554.61 250.35L554.83 251.75L553.57 251.11L552.30 251.75L552.52 250.35L551.52 249.35L552.92 249.12ZM558.98 247.86L559.62 249.12L561.02 249.35L560.02 250.35L560.24 251.75L558.98 251.11L557.71 251.75L557.93 250.35L556.93 249.35L558.33 249.12ZM531.92 254.53L532.57 255.79L533.97 256.02L532.97 257.02L533.19 258.42L531.92 257.78L530.66 258.42L530.88 257.02L529.88 256.02L531.28 255.79ZM537.33 254.53L537.98 255.79L539.38 256.02L538.38 257.02L538.60 258.42L537.33 257.78L536.07 258.42L536.29 257.02L535.29 256.02L536.69 255.79ZM542.74 254.53L543.39 255.79L544.79 256.02L543.79 257.02L544.01 258.42L542.74 257.78L541.48 258.42L541.70 257.02L540.70 256.02L542.10 255.79ZM548.16 254.53L548.80 255.79L550.20 256.02L549.20 257.02L549.42 258.42L548.16 257.78L546.89 258.42L547.11 257.02L546.11 256.02L547.51 255.79ZM553.57 254.53L554.21 255.79L555.61 256.02L554.61 257.02L554.83 258.42L553.57 257.78L552.30 258.42L552.52 257.02L551.52 256.02L552.92 255.79ZM558.98 254.53L559.62 255.79L561.02 256.02L560.02 257.02L560.24 258.42L558.98 257.78L557.71 258.42L557.93 257.02L556.93 256.02L558.33 255.79ZM531.92 261.21L532.57 262.47L533.97 262.69L532.97 263.70L533.19 265.10L531.92 264.46L530.66 265.10L530.88 263.70L529.88 262.69L531.28 262.47ZM537.33 261.21L537.98 262.47L539.38 262.69L538.38 263.70L538.60 265.10L537.33 264.46L536.07 265.10L536.29 263.70L535.29 262.69L536.69 262.47ZM542.74 261.21L543.39 262.47L544.79 262.69L543.79 263.70L544.01 265.10L542.74 264.46L541.48 265.10L541.70 263.70L540.70 262.69L542.10 262.47ZM548.16 261.21L548.80 262.47L550.20 262.69L549.20 263.70L549.42 265.10L548.16 264.46L546.89 265.10L547.11 263.70L546.11 262.69L547.51 262.47ZM553.57 261.21L554.21 262.47L555.61 262.69L554.61 263.70L554.83 265.10L553.57 264.46L552.30 265.10L552.52 263.70L551.52 262.69L552.92 262.47ZM558.98 261.21L559.62 262.47L561.02 262.69L560.02 263.70L560.24 265.10L558.98 264.46L557.71 265.10L557.93 263.70L556.93 262.69L558.33 262.47ZM564.39 261.21L565.03 262.47L566.43 262.69L565.43 263.70L565.65 265.10L564.39 264.46L563.12 265.10L563.34 263.70L562.34 262.69L563.74 262.47ZM531.92 267.88L532.57 269.14L533.97 269.37L532.97 270.37L533.19 271.77L531.92 271.13L530.66 271.77L530.88 270.37L529.88 269.37L531.28 269.14ZM537.33 267.88L537.98 269.14L539.38 269.37L538.38 270.37L538.60 271.77L537.33 271.13L536.07 271.77L536.29 270.37L535.29 269.37L536.69 269.14ZM542.74 267.88L543.39 269.14L544.79 269.37L543.79 270.37L544.01 271.77L542.74 271.13L541.48 271.77L541.70 270.37L540.70 269.37L542.10 269.14ZM548.16 267.88L548.80 269.14L550.20 269.37L549.20 270.37L549.42 271.77L548.16 271.13L546.89 271.77L547.11 270.37L546.11 269.37L547.51 269.14ZM553.57 267.88L554.21 269.14L555.61 269.37L554.61 270.37L554.83 271.77L553.57 271.13L552.30 271.77L552.52 270.37L551.52 269.37L552.92 269.14ZM558.98 267.88L559.62 269.14L561.02 269.37L560.02 270.37L560.24 271.77L558.98 271.13L557.71 271.77L557.93 270.37L556.93 269.37L558.33 269.14ZM531.92 274.56L532.57 275.82L533.97 276.04L532.97 277.05L533.19 278.44L531.92 277.81L530.66 278.44L530.88 277.05L529.88 276.04L531.28 275.82ZM537.33 274.56L537.98 275.82L539.38 276.04L538.38 277.05L538.60 278.44L537.33 277.81L536.07 278.44L536.29 277.05L535.29 276.04L536.69 275.82ZM542.74 274.56L543.39 275.82L544.79 276.04L543.79 277.05L544.01 278.44L542.74 277.81L541.48 278.44L541.70 277.05L540.70 276.04L542.10 275.82ZM548.16 274.56L548.80 275.82L550.20 276.04L549.20 277.05L549.42 278.44L548.16 277.81L546.89 278.44L547.11 277.05L546.11 276.04L547.51 275.82ZM553.57 274.56L554.21 275.82L555.61 276.04L554.61 277.05L554.83 278.44L553.57 277.81L552.30 278.44L552.52 277.05L551.52 276.04L552.92 275.82ZM558.98 274.56L559.62 275.82L561.02 276.04L560.02 277.05L560.24 278.44L558.98 277.81L557.71 278.44L557.93 277.05L556.93 276.04L558.33 275.82ZM537.33 281.23L537.98 282.49L539.38 282.71L538.38 283.72L538.60 285.12L537.33 284.48L536.07 285.12L536.29 283.72L535.29 282.71L536.69 282.49ZM542.74 281.23L543.39 282.49L544.79 282.71L543.79 283.72L544.01 285.12L542.74 284.48L541.48 285.12L541.70 283.72L540.70 282.71L542.10 282.49ZM548.16 281.23L548.80 282.49L550.20 282.71L549.20 283.72L549.42 285.12L548.16 284.48L546.89 285.12L547.11 283.72L546.11 282.71L547.51 282.49ZM553.57 281.23L554.21 282.49L555.61 282.71L554.61 283.72L554.83 285.12L553.57 284.48L552.30 285.12L552.52 283.72L551.52 282.71L552.92 282.49ZM558.98 281.23L559.62 282.49L561.02 282.71L560.02 283.72L560.24 285.12L558.98 284.48L557.71 285.12L557.93 283.72L556.93 282.71L558.33 282.49ZM537.33 287.90L537.98 289.16L539.38 289.39L538.38 290.39L538.60 291.79L537.33 291.15L536.07 291.79L536.29 290.39L535.29 289.39L536.69 289.16ZM542.74 287.90L543.39 289.16L544.79 289.39L543.79 290.39L544.01 291.79L542.74 291.15L541.48 291.79L541.70 290.39L540.70 289.39L542.10 289.16ZM548.16 287.90L548.80 289.16L550.20 289.39L549.20 290.39L549.42 291.79L548.16 291.15L546.89 291.79L547.11 290.39L546.11 289.39L547.51 289.16ZM553.57 287.90L554.21 289.16L555.61 289.39L554.61 290.39L554.83 291.79L553.57 291.15L552.30 291.79L552.52 290.39L551.52 289.39L552.92 289.16ZM542.74 294.58L543.39 295.84L544.79 296.06L543.79 297.07L544.01 298.47L542.74 297.83L541.48 298.47L541.70 297.07L540.70 296.06L542.10 295.84ZM548.16 294.58L548.80 295.84L550.20 296.06L549.20 297.07L549.42 298.47L548.16 297.83L546.89 298.47L547.11 297.07L546.11 296.06L547.51 295.84Z" fill="#1756c6" stroke="#1756c6" stroke-width="0.5" stroke-linejoin="round"/>
</g>
<path d="M486.8 196.3L544.0 232.6" stroke="#4a44d6" stroke-width="1.2" fill="none"/>
<path d="M538.3 231.6L544.0 232.6L541.9 227.3" stroke="#4a44d6" stroke-width="1.2" fill="none"/>
<text x="415.6" y="192.1" font-size="13.2">Gap indicator points</text>
<rect x="412.9" y="176.6" width="265.1" height="126.8" fill="none" stroke="#333" stroke-width="1.4"/>
<path d="M439.4 303.4v2.5M492.4 303.4v2.5M545.5 303.4v2.5M598.5 303.4v2.5M651.5 303.4v2.5M412.9 303.4h-2.5M412.9 271.7h-2.5M412.9 240.0h-2.5M412.9 208.3h-2.5M412.9 176.6h-2.5" stroke="#444" stroke-width="0.8" fill="none"/>
<path d="M418.2 303.4v1.5M418.2 176.6v-1.5M428.8 303.4v1.5M428.8 176.6v-1.5M439.4 303.4v1.5M439.4 176.6v-1.5M450.0 303.4v1.5M450.0 176.6v-1.5M460.6 303.4v1.5M460.6 176.6v-1.5M471.2 303.4v1.5M471.2 176.6v-1.5M481.8 303.4v1.5M481.8 176.6v-1.5M492.4 303.4v1.5M492.4 176.6v-1.5M503.0 303.4v1.5M503.0 176.6v-1.5M513.6 303.4v1.5M513.6 176.6v-1.5M524.2 303.4v1.5M524.2 176.6v-1.5M534.8 303.4v1.5M534.8 176.6v-1.5M545.5 303.4v1.5M545.5 176.6v-1.5M556.1 303.4v1.5M556.1 176.6v-1.5M566.7 303.4v1.5M566.7 176.6v-1.5M577.3 303.4v1.5M577.3 176.6v-1.5M587.9 303.4v1.5M587.9 176.6v-1.5M598.5 303.4v1.5M598.5 176.6v-1.5M609.1 303.4v1.5M609.1 176.6v-1.5M619.7 303.4v1.5M619.7 176.6v-1.5M630.3 303.4v1.5M630.3 176.6v-1.5M640.9 303.4v1.5M640.9 176.6v-1.5M651.5 303.4v1.5M651.5 176.6v-1.5M662.1 303.4v1.5M662.1 176.6v-1.5M672.7 303.4v1.5M672.7 176.6v-1.5M412.9 297.1h-1.5M678.0 297.1h1.5M412.9 290.7h-1.5M678.0 290.7h1.5M412.9 284.4h-1.5M678.0 284.4h1.5M412.9 278.0h-1.5M678.0 278.0h1.5M412.9 271.7h-1.5M678.0 271.7h1.5M412.9 265.4h-1.5M678.0 265.4h1.5M412.9 259.0h-1.5M678.0 259.0h1.5M412.9 252.7h-1.5M678.0 252.7h1.5M412.9 246.3h-1.5M678.0 246.3h1.5M412.9 240.0h-1.5M678.0 240.0h1.5M412.9 233.7h-1.5M678.0 233.7h1.5M412.9 227.3h-1.5M678.0 227.3h1.5M412.9 221.0h-1.5M678.0 221.0h1.5M412.9 214.6h-1.5M678.0 214.6h1.5M412.9 208.3h-1.5M678.0 208.3h1.5M412.9 202.0h-1.5M678.0 202.0h1.5M412.9 195.6h-1.5M678.0 195.6h1.5M412.9 189.3h-1.5M678.0 189.3h1.5M412.9 182.9h-1.5M678.0 182.9h1.5" stroke="#777" stroke-width="0.6" fill="none"/>
<text x="439.4" y="316.8" text-anchor="middle" font-size="11">33</text>
<text x="492.4" y="316.8" text-anchor="middle" font-size="11">34</text>
<text x="545.5" y="316.8" text-anchor="middle" font-size="11">35</text>
<text x="598.5" y="316.8" text-anchor="middle" font-size="11">36</text>
<text x="651.5" y="316.8" text-anchor="middle" font-size="11">37</text>
<text x="407.7" y="307.3" text-anchor="end" font-size="11">34.0</text>
<text x="407.7" y="275.6" text-anchor="end" font-size="11">34.5</text>
<text x="407.7" y="243.9" text-anchor="end" font-size="11">35.0</text>
<text x="407.7" y="212.2" text-anchor="end" font-size="11">35.5</text>
<text x="407.7" y="180.5" text-anchor="end" font-size="11">36.0</text>
<text x="545.5" y="329.8" text-anchor="middle" font-size="12">x (kpc)</text>
<text transform="translate(379.4 240.0) rotate(-90)" text-anchor="middle" font-size="11.7">y (kpc)</text>
</g></svg>
</body></html>
